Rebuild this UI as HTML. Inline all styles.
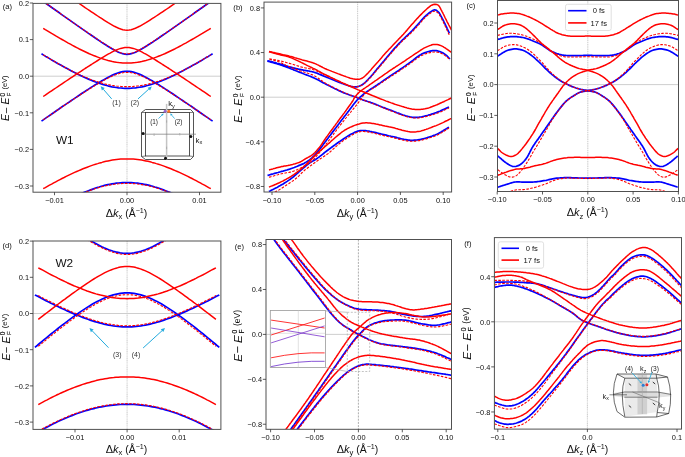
<!DOCTYPE html><html><head><meta charset="utf-8"><style>html,body{margin:0;padding:0;background:#fff;}svg{display:block;will-change:transform;}</style></head><body>
<svg width="685" height="457" viewBox="0 0 685 457" font-family='"Liberation Sans", sans-serif'>
<defs>
<clipPath id="ca"><rect x="33" y="3.4" width="187.9" height="188.8"/></clipPath>
<clipPath id="cb"><rect x="264" y="2.1" width="187.6" height="189.9"/></clipPath>
<clipPath id="cc"><rect x="497.5" y="0.5" width="181" height="191"/></clipPath>
<clipPath id="cd"><rect x="33" y="241" width="187.9" height="188.4"/></clipPath>
<clipPath id="ce"><rect x="266" y="239.5" width="185.5" height="189.8"/></clipPath>
<clipPath id="cf"><rect x="494.4" y="237.6" width="187.1" height="191.5"/></clipPath>
</defs>
<rect width="685" height="457" fill="#fff"/>
<line x1="33" y1="76.2" x2="220.9" y2="76.2" stroke="#c8c8c8" stroke-width="0.9"/>
<line x1="127" y1="3.4" x2="127" y2="192.2" stroke="#cfcfcf" stroke-width="1.1" stroke-dasharray="1.2,0.6"/>
<path d="M41.5,0.2 43.6,1.7 45.7,3.2 47.9,4.8 50,6.3 52.1,7.8 54.3,9.3 56.4,10.8 58.6,12.3 60.7,13.9 62.8,15.4 65,16.9 67.1,18.4 69.3,19.9 71.4,21.4 73.5,22.9 75.7,24.4 77.8,25.9 79.9,27.4 82.1,28.9 84.2,30.4 86.4,31.9 88.5,33.4 90.6,34.8 92.8,36.3 94.9,37.8 97.1,39.2 99.2,40.6 101.3,42.1 103.5,43.5 105.6,44.8 107.8,46.2 109.9,47.5 112,48.8 114.2,50 116.3,51.1 118.4,52.2 120.6,53 122.7,53.7 124.9,54.2 127,54.3 129.1,54.2 131.3,53.7 133.4,53 135.6,52.2 137.7,51.1 139.8,50 142,48.8 144.1,47.5 146.2,46.2 148.4,44.8 150.5,43.5 152.7,42.1 154.8,40.6 156.9,39.2 159.1,37.8 161.2,36.3 163.4,34.8 165.5,33.4 167.6,31.9 169.8,30.4 171.9,28.9 174.1,27.4 176.2,25.9 178.3,24.4 180.5,22.9 182.6,21.4 184.7,19.9 186.9,18.4 189,16.9 191.2,15.4 193.3,13.9 195.4,12.3 197.6,10.8 199.7,9.3 201.9,7.8 204,6.3 206.1,4.8 208.3,3.2 210.4,1.7 212.6,0.2" fill="none" stroke="#0000ff" stroke-width="1.7" clip-path="url(#ca)" stroke-linejoin="round" />
<path d="M41.5,53.8 43.6,55.1 45.7,56.4 47.9,57.6 50,58.9 52.1,60.2 54.3,61.4 56.4,62.7 58.6,63.9 60.7,65.1 62.8,66.3 65,67.5 67.1,68.6 69.3,69.8 71.4,70.9 73.5,72 75.7,73.1 77.8,74.2 79.9,75.2 82.1,76.2 84.2,77.2 86.4,78.2 88.5,79.1 90.6,80 92.8,80.9 94.9,81.7 97.1,82.5 99.2,83.3 101.3,84 103.5,84.6 105.6,85.2 107.8,85.8 109.9,86.3 112,86.8 114.2,87.2 116.3,87.5 118.4,87.8 120.6,88 122.7,88.2 124.9,88.3 127,88.3 129.1,88.3 131.3,88.2 133.4,88 135.6,87.8 137.7,87.5 139.8,87.2 142,86.8 144.1,86.3 146.2,85.8 148.4,85.2 150.5,84.6 152.7,84 154.8,83.3 156.9,82.5 159.1,81.7 161.2,80.9 163.4,80 165.5,79.1 167.6,78.2 169.8,77.2 171.9,76.2 174.1,75.2 176.2,74.2 178.3,73.1 180.5,72 182.6,70.9 184.7,69.8 186.9,68.6 189,67.5 191.2,66.3 193.3,65.1 195.4,63.9 197.6,62.7 199.7,61.4 201.9,60.2 204,58.9 206.1,57.6 208.3,56.4 210.4,55.1 212.6,53.8" fill="none" stroke="#0000ff" stroke-width="1.7" clip-path="url(#ca)" stroke-linejoin="round" />
<path d="M41.5,121.1 43.6,119.6 45.7,118.1 47.9,116.6 50,115.2 52.1,113.7 54.3,112.2 56.4,110.7 58.6,109.3 60.7,107.8 62.8,106.3 65,104.9 67.1,103.4 69.3,102 71.4,100.5 73.5,99.1 75.7,97.6 77.8,96.2 79.9,94.8 82.1,93.3 84.2,91.9 86.4,90.5 88.5,89.1 90.6,87.8 92.8,86.4 94.9,85 97.1,83.7 99.2,82.4 101.3,81.1 103.5,79.9 105.6,78.7 107.8,77.5 109.9,76.4 112,75.3 114.2,74.4 116.3,73.5 118.4,72.8 120.6,72.1 122.7,71.7 124.9,71.4 127,71.3 129.1,71.4 131.3,71.7 133.4,72.1 135.6,72.8 137.7,73.5 139.8,74.4 142,75.3 144.1,76.4 146.2,77.5 148.4,78.7 150.5,79.9 152.7,81.1 154.8,82.4 156.9,83.7 159.1,85 161.2,86.4 163.4,87.8 165.5,89.1 167.6,90.5 169.8,91.9 171.9,93.3 174.1,94.8 176.2,96.2 178.3,97.6 180.5,99.1 182.6,100.5 184.7,102 186.9,103.4 189,104.9 191.2,106.3 193.3,107.8 195.4,109.3 197.6,110.7 199.7,112.2 201.9,113.7 204,115.2 206.1,116.6 208.3,118.1 210.4,119.6 212.6,121.1" fill="none" stroke="#0000ff" stroke-width="1.7" clip-path="url(#ca)" stroke-linejoin="round" />
<path d="M41.5,214.4 43.6,213.2 45.7,211.9 47.9,210.7 50,209.5 52.1,208.3 54.3,207.1 56.4,206 58.6,204.8 60.7,203.7 62.8,202.5 65,201.4 67.1,200.3 69.3,199.3 71.4,198.2 73.5,197.2 75.7,196.2 77.8,195.2 79.9,194.2 82.1,193.3 84.2,192.4 86.4,191.5 88.5,190.7 90.6,189.9 92.8,189.1 94.9,188.3 97.1,187.6 99.2,187 101.3,186.3 103.5,185.7 105.6,185.2 107.8,184.7 109.9,184.3 112,183.9 114.2,183.5 116.3,183.2 118.4,183 120.6,182.8 122.7,182.6 124.9,182.6 127,182.5 129.1,182.6 131.3,182.6 133.4,182.8 135.6,183 137.7,183.2 139.8,183.5 142,183.9 144.1,184.3 146.2,184.7 148.4,185.2 150.5,185.7 152.7,186.3 154.8,187 156.9,187.6 159.1,188.3 161.2,189.1 163.4,189.9 165.5,190.7 167.6,191.5 169.8,192.4 171.9,193.3 174.1,194.2 176.2,195.2 178.3,196.2 180.5,197.2 182.6,198.2 184.7,199.3 186.9,200.3 189,201.4 191.2,202.5 193.3,203.7 195.4,204.8 197.6,206 199.7,207.1 201.9,208.3 204,209.5 206.1,210.7 208.3,211.9 210.4,213.2 212.6,214.4" fill="none" stroke="#0000ff" stroke-width="1.7" clip-path="url(#ca)" stroke-linejoin="round" />
<path d="M43.2,-21.5 45.3,-20.1 47.4,-18.6 49.5,-17.1 51.6,-15.7 53.7,-14.2 55.8,-12.7 57.9,-11.3 60,-9.8 62,-8.4 64.1,-6.9 66.2,-5.4 68.3,-4 70.4,-2.5 72.5,-1.1 74.6,0.4 76.7,1.8 78.8,3.2 80.9,4.7 83,6.1 85.1,7.6 87.2,9 89.3,10.4 91.4,11.8 93.5,13.2 95.6,14.6 97.7,16 99.8,17.4 101.9,18.7 104,20.1 106,21.4 108.1,22.7 110.2,23.9 112.3,25.1 114.4,26.3 116.5,27.3 118.6,28.2 120.7,29 122.8,29.7 124.9,30.1 127,30.2 129.1,30.1 131.2,29.7 133.3,29 135.4,28.2 137.5,27.3 139.6,26.3 141.7,25.1 143.8,23.9 145.9,22.7 148,21.4 150,20.1 152.1,18.7 154.2,17.4 156.3,16 158.4,14.6 160.5,13.2 162.6,11.8 164.7,10.4 166.8,9 168.9,7.6 171,6.1 173.1,4.7 175.2,3.2 177.3,1.8 179.4,0.4 181.5,-1.1 183.6,-2.5 185.7,-4 187.8,-5.4 189.9,-6.9 192,-8.4 194,-9.8 196.1,-11.3 198.2,-12.7 200.3,-14.2 202.4,-15.7 204.5,-17.1 206.6,-18.6 208.7,-20.1 210.8,-21.5" fill="none" stroke="#ff0000" stroke-width="1.5" clip-path="url(#ca)" stroke-linejoin="round" />
<path d="M43.2,28.3 45.3,29.6 47.4,30.8 49.5,32.1 51.6,33.4 53.7,34.6 55.8,35.9 57.9,37.1 60,38.3 62,39.5 64.1,40.7 66.2,41.9 68.3,43.1 70.4,44.2 72.5,45.4 74.6,46.5 76.7,47.6 78.8,48.7 80.9,49.7 83,50.7 85.1,51.7 87.2,52.7 89.3,53.7 91.4,54.6 93.5,55.5 95.6,56.3 97.7,57.1 99.8,57.9 101.9,58.6 104,59.3 106,59.9 108.1,60.5 110.2,61 112.3,61.5 114.4,61.9 116.5,62.3 118.6,62.6 120.7,62.8 122.8,63 124.9,63.1 127,63.1 129.1,63.1 131.2,63 133.3,62.8 135.4,62.6 137.5,62.3 139.6,61.9 141.7,61.5 143.8,61 145.9,60.5 148,59.9 150,59.3 152.1,58.6 154.2,57.9 156.3,57.1 158.4,56.3 160.5,55.5 162.6,54.6 164.7,53.7 166.8,52.7 168.9,51.7 171,50.7 173.1,49.7 175.2,48.7 177.3,47.6 179.4,46.5 181.5,45.4 183.6,44.2 185.7,43.1 187.8,41.9 189.9,40.7 192,39.5 194,38.3 196.1,37.1 198.2,35.9 200.3,34.6 202.4,33.4 204.5,32.1 206.6,30.8 208.7,29.6 210.8,28.3" fill="none" stroke="#ff0000" stroke-width="1.5" clip-path="url(#ca)" stroke-linejoin="round" />
<path d="M43.2,96.5 45.3,95.1 47.4,93.6 49.5,92.2 51.6,90.8 53.7,89.4 55.8,88 57.9,86.6 60,85.2 62,83.8 64.1,82.4 66.2,81 68.3,79.6 70.4,78.2 72.5,76.8 74.6,75.4 76.7,74 78.8,72.7 80.9,71.3 83,69.9 85.1,68.5 87.2,67.2 89.3,65.8 91.4,64.5 93.5,63.1 95.6,61.8 97.7,60.5 99.8,59.2 101.9,57.9 104,56.6 106,55.4 108.1,54.2 110.2,53.1 112.3,51.9 114.4,50.9 116.5,49.9 118.6,49.1 120.7,48.4 122.8,47.9 124.9,47.5 127,47.4 129.1,47.5 131.2,47.9 133.3,48.4 135.4,49.1 137.5,49.9 139.6,50.9 141.7,51.9 143.8,53.1 145.9,54.2 148,55.4 150,56.6 152.1,57.9 154.2,59.2 156.3,60.5 158.4,61.8 160.5,63.1 162.6,64.5 164.7,65.8 166.8,67.2 168.9,68.5 171,69.9 173.1,71.3 175.2,72.7 177.3,74 179.4,75.4 181.5,76.8 183.6,78.2 185.7,79.6 187.8,81 189.9,82.4 192,83.8 194,85.2 196.1,86.6 198.2,88 200.3,89.4 202.4,90.8 204.5,92.2 206.6,93.6 208.7,95.1 210.8,96.5" fill="none" stroke="#ff0000" stroke-width="1.5" clip-path="url(#ca)" stroke-linejoin="round" />
<path d="M43.2,188.7 45.3,187.6 47.4,186.4 49.5,185.2 51.6,184.1 53.7,182.9 55.8,181.8 57.9,180.7 60,179.6 62,178.5 64.1,177.5 66.2,176.4 68.3,175.4 70.4,174.4 72.5,173.4 74.6,172.4 76.7,171.5 78.8,170.6 80.9,169.7 83,168.8 85.1,168 87.2,167.2 89.3,166.4 91.4,165.6 93.5,164.9 95.6,164.2 97.7,163.6 99.8,162.9 101.9,162.4 104,161.8 106,161.3 108.1,160.9 110.2,160.5 112.3,160.1 114.4,159.8 116.5,159.5 118.6,159.3 120.7,159.1 122.8,159 124.9,158.9 127,158.9 129.1,158.9 131.2,159 133.3,159.1 135.4,159.3 137.5,159.5 139.6,159.8 141.7,160.1 143.8,160.5 145.9,160.9 148,161.3 150,161.8 152.1,162.4 154.2,162.9 156.3,163.6 158.4,164.2 160.5,164.9 162.6,165.6 164.7,166.4 166.8,167.2 168.9,168 171,168.8 173.1,169.7 175.2,170.6 177.3,171.5 179.4,172.4 181.5,173.4 183.6,174.4 185.7,175.4 187.8,176.4 189.9,177.5 192,178.5 194,179.6 196.1,180.7 198.2,181.8 200.3,182.9 202.4,184.1 204.5,185.2 206.6,186.4 208.7,187.6 210.8,188.7" fill="none" stroke="#ff0000" stroke-width="1.5" clip-path="url(#ca)" stroke-linejoin="round" />
<path d="M43.2,1.4 45.3,2.9 47.4,4.4 49.5,5.9 51.6,7.4 53.7,8.9 55.8,10.3 57.9,11.8 60,13.3 62,14.8 64.1,16.3 66.2,17.7 68.3,19.2 70.4,20.7 72.5,22.2 74.6,23.6 76.7,25.1 78.8,26.5 80.9,28 83,29.5 85.1,30.9 87.2,32.3 89.3,33.8 91.4,35.2 93.5,36.6 95.6,38 97.7,39.4 99.8,40.8 101.9,42.2 104,43.5 106,44.9 108.1,46.2 110.2,47.4 112.3,48.7 114.4,49.8 116.5,50.9 118.6,51.9 120.7,52.7 122.8,53.4 124.9,53.8 127,53.9 129.1,53.8 131.2,53.4 133.3,52.7 135.4,51.9 137.5,50.9 139.6,49.8 141.7,48.7 143.8,47.4 145.9,46.2 148,44.9 150,43.5 152.1,42.2 154.2,40.8 156.3,39.4 158.4,38 160.5,36.6 162.6,35.2 164.7,33.8 166.8,32.3 168.9,30.9 171,29.5 173.1,28 175.2,26.5 177.3,25.1 179.4,23.6 181.5,22.2 183.6,20.7 185.7,19.2 187.8,17.7 189.9,16.3 192,14.8 194,13.3 196.1,11.8 198.2,10.3 200.3,8.9 202.4,7.4 204.5,5.9 206.6,4.4 208.7,2.9 210.8,1.4" fill="none" stroke="#ff0000" stroke-width="1.1" stroke-dasharray="2.6,1.4" clip-path="url(#ca)" stroke-linejoin="round" />
<path d="M43.2,54.8 45.3,56.1 47.4,57.3 49.5,58.6 51.6,59.8 53.7,61 55.8,62.2 57.9,63.4 60,64.6 62,65.8 64.1,66.9 66.2,68 68.3,69.2 70.4,70.2 72.5,71.3 74.6,72.4 76.7,73.4 78.8,74.4 80.9,75.3 83,76.3 85.1,77.2 87.2,78 89.3,78.9 91.4,79.7 93.5,80.4 95.6,81.2 97.7,81.8 99.8,82.5 101.9,83.1 104,83.6 106,84.2 108.1,84.6 110.2,85 112.3,85.4 114.4,85.7 116.5,86 118.6,86.2 120.7,86.4 122.8,86.5 124.9,86.6 127,86.6 129.1,86.6 131.2,86.5 133.3,86.4 135.4,86.2 137.5,86 139.6,85.7 141.7,85.4 143.8,85 145.9,84.6 148,84.2 150,83.6 152.1,83.1 154.2,82.5 156.3,81.8 158.4,81.2 160.5,80.4 162.6,79.7 164.7,78.9 166.8,78 168.9,77.2 171,76.3 173.1,75.3 175.2,74.4 177.3,73.4 179.4,72.4 181.5,71.3 183.6,70.2 185.7,69.2 187.8,68 189.9,66.9 192,65.8 194,64.6 196.1,63.4 198.2,62.2 200.3,61 202.4,59.8 204.5,58.6 206.6,57.3 208.7,56.1 210.8,54.8" fill="none" stroke="#ff0000" stroke-width="1.1" stroke-dasharray="2.6,1.4" clip-path="url(#ca)" stroke-linejoin="round" />
<path d="M43.2,119.9 45.3,118.4 47.4,117 49.5,115.5 51.6,114.1 53.7,112.7 55.8,111.2 57.9,109.8 60,108.3 62,106.9 64.1,105.5 66.2,104.1 68.3,102.7 70.4,101.3 72.5,99.9 74.6,98.5 76.7,97.1 78.8,95.7 80.9,94.3 83,93 85.1,91.7 87.2,90.3 89.3,89 91.4,87.7 93.5,86.4 95.6,85.2 97.7,83.9 99.8,82.7 101.9,81.5 104,80.3 106,79.2 108.1,78.1 110.2,77.1 112.3,76.1 114.4,75.2 116.5,74.4 118.6,73.7 120.7,73.2 122.8,72.7 124.9,72.5 127,72.4 129.1,72.5 131.2,72.7 133.3,73.2 135.4,73.7 137.5,74.4 139.6,75.2 141.7,76.1 143.8,77.1 145.9,78.1 148,79.2 150,80.3 152.1,81.5 154.2,82.7 156.3,83.9 158.4,85.2 160.5,86.4 162.6,87.7 164.7,89 166.8,90.3 168.9,91.7 171,93 173.1,94.3 175.2,95.7 177.3,97.1 179.4,98.5 181.5,99.9 183.6,101.3 185.7,102.7 187.8,104.1 189.9,105.5 192,106.9 194,108.3 196.1,109.8 198.2,111.2 200.3,112.7 202.4,114.1 204.5,115.5 206.6,117 208.7,118.4 210.8,119.9" fill="none" stroke="#ff0000" stroke-width="1.1" stroke-dasharray="2.6,1.4" clip-path="url(#ca)" stroke-linejoin="round" />
<path d="M43.2,213.4 45.3,212.2 47.4,211 49.5,209.8 51.6,208.6 53.7,207.5 55.8,206.3 57.9,205.2 60,204.1 62,203 64.1,201.9 66.2,200.8 68.3,199.8 70.4,198.8 72.5,197.8 74.6,196.8 76.7,195.8 78.8,194.9 80.9,194 83,193.1 85.1,192.3 87.2,191.5 89.3,190.7 91.4,189.9 93.5,189.2 95.6,188.5 97.7,187.9 99.8,187.3 101.9,186.7 104,186.2 106,185.7 108.1,185.3 110.2,184.9 112.3,184.6 114.4,184.3 116.5,184 118.6,183.8 120.7,183.6 122.8,183.5 124.9,183.5 127,183.4 129.1,183.5 131.2,183.5 133.3,183.6 135.4,183.8 137.5,184 139.6,184.3 141.7,184.6 143.8,184.9 145.9,185.3 148,185.7 150,186.2 152.1,186.7 154.2,187.3 156.3,187.9 158.4,188.5 160.5,189.2 162.6,189.9 164.7,190.7 166.8,191.5 168.9,192.3 171,193.1 173.1,194 175.2,194.9 177.3,195.8 179.4,196.8 181.5,197.8 183.6,198.8 185.7,199.8 187.8,200.8 189.9,201.9 192,203 194,204.1 196.1,205.2 198.2,206.3 200.3,207.5 202.4,208.6 204.5,209.8 206.6,211 208.7,212.2 210.8,213.4" fill="none" stroke="#ff0000" stroke-width="1.1" stroke-dasharray="2.6,1.4" clip-path="url(#ca)" stroke-linejoin="round" />
<rect x="33" y="3.4" width="187.9" height="188.8" fill="none" stroke="#505050" stroke-width="1"/>
<line x1="54.5" y1="192.2" x2="54.5" y2="195.2" stroke="#333" stroke-width="0.8"/>
<text x="54.5" y="202.7" font-size="7.4" text-anchor="middle" fill="#111" >−0.01</text>
<line x1="127" y1="192.2" x2="127" y2="195.2" stroke="#333" stroke-width="0.8"/>
<text x="127" y="202.7" font-size="7.4" text-anchor="middle" fill="#111" >0.00</text>
<line x1="199.5" y1="192.2" x2="199.5" y2="195.2" stroke="#333" stroke-width="0.8"/>
<text x="199.5" y="202.7" font-size="7.4" text-anchor="middle" fill="#111" >0.01</text>
<line x1="29.8" y1="3" x2="33" y2="3" stroke="#333" stroke-width="0.8"/>
<text x="29" y="5.8" font-size="7.4" text-anchor="end" fill="#111" >0.2</text>
<line x1="29.8" y1="39.6" x2="33" y2="39.6" stroke="#333" stroke-width="0.8"/>
<text x="29" y="42.4" font-size="7.4" text-anchor="end" fill="#111" >0.1</text>
<line x1="29.8" y1="76.2" x2="33" y2="76.2" stroke="#333" stroke-width="0.8"/>
<text x="29" y="79" font-size="7.4" text-anchor="end" fill="#111" >0.0</text>
<line x1="29.8" y1="112.8" x2="33" y2="112.8" stroke="#333" stroke-width="0.8"/>
<text x="29" y="115.6" font-size="7.4" text-anchor="end" fill="#111" >−0.1</text>
<line x1="29.8" y1="149.4" x2="33" y2="149.4" stroke="#333" stroke-width="0.8"/>
<text x="29" y="152.2" font-size="7.4" text-anchor="end" fill="#111" >−0.2</text>
<line x1="29.8" y1="186" x2="33" y2="186" stroke="#333" stroke-width="0.8"/>
<text x="29" y="188.8" font-size="7.4" text-anchor="end" fill="#111" >−0.3</text>
<line x1="33" y1="313.5" x2="220.9" y2="313.5" stroke="#c8c8c8" stroke-width="0.9"/>
<line x1="127.1" y1="241" x2="127.1" y2="429.4" stroke="#cfcfcf" stroke-width="1.1" stroke-dasharray="1.2,0.6"/>
<path d="M34.9,200.8 37.2,202.6 39.5,204.3 41.8,206.1 44.1,207.9 46.4,209.6 48.7,211.4 51,213.1 53.3,214.9 55.6,216.6 57.9,218.3 60.2,220 62.5,221.7 64.9,223.4 67.2,225 69.5,226.7 71.8,228.3 74.1,229.9 76.4,231.5 78.7,233 81,234.6 83.3,236.1 85.6,237.6 87.9,239 90.2,240.4 92.5,241.8 94.8,243.1 97.1,244.3 99.4,245.5 101.7,246.7 104,247.8 106.4,248.8 108.7,249.7 111,250.5 113.3,251.3 115.6,251.9 117.9,252.4 120.2,252.9 122.5,253.2 124.8,253.3 127.1,253.4 129.4,253.3 131.7,253.2 134,252.9 136.3,252.4 138.6,251.9 140.9,251.3 143.2,250.5 145.5,249.7 147.8,248.8 150.2,247.8 152.5,246.7 154.8,245.5 157.1,244.3 159.4,243.1 161.7,241.8 164,240.4 166.3,239 168.6,237.6 170.9,236.1 173.2,234.6 175.5,233 177.8,231.5 180.1,229.9 182.4,228.3 184.7,226.7 187,225 189.3,223.4 191.7,221.7 194,220 196.3,218.3 198.6,216.6 200.9,214.9 203.2,213.1 205.5,211.4 207.8,209.6 210.1,207.9 212.4,206.1 214.7,204.3 217,202.6 219.3,200.8" fill="none" stroke="#0000ff" stroke-width="1.7" clip-path="url(#cd)" stroke-linejoin="round" />
<path d="M34.9,347.4 37.2,345.5 39.5,343.5 41.8,341.6 44.1,339.7 46.4,337.8 48.7,335.9 51,334 53.3,332.2 55.6,330.3 57.9,328.5 60.2,326.7 62.5,324.9 64.9,323.1 67.2,321.4 69.5,319.6 71.8,317.9 74.1,316.3 76.4,314.6 78.7,313 81,311.4 83.3,309.9 85.6,308.4 87.9,306.9 90.2,305.5 92.5,304.1 94.8,302.8 97.1,301.6 99.4,300.4 101.7,299.3 104,298.2 106.4,297.2 108.7,296.4 111,295.6 113.3,294.9 115.6,294.3 117.9,293.8 120.2,293.4 122.5,293.1 124.8,292.9 127.1,292.9 129.4,292.9 131.7,293.1 134,293.4 136.3,293.8 138.6,294.3 140.9,294.9 143.2,295.6 145.5,296.4 147.8,297.2 150.2,298.2 152.5,299.3 154.8,300.4 157.1,301.6 159.4,302.8 161.7,304.1 164,305.5 166.3,306.9 168.6,308.4 170.9,309.9 173.2,311.4 175.5,313 177.8,314.6 180.1,316.3 182.4,317.9 184.7,319.6 187,321.4 189.3,323.1 191.7,324.9 194,326.7 196.3,328.5 198.6,330.3 200.9,332.2 203.2,334 205.5,335.9 207.8,337.8 210.1,339.7 212.4,341.6 214.7,343.5 217,345.5 219.3,347.4" fill="none" stroke="#0000ff" stroke-width="1.7" clip-path="url(#cd)" stroke-linejoin="round" />
<path d="M34.9,294.9 37.2,296.1 39.5,297.3 41.8,298.5 44.1,299.7 46.4,300.9 48.7,302 51,303.2 53.3,304.3 55.6,305.5 57.9,306.6 60.2,307.7 62.5,308.8 64.9,309.8 67.2,310.9 69.5,311.9 71.8,312.9 74.1,313.9 76.4,314.9 78.7,315.8 81,316.7 83.3,317.6 85.6,318.5 87.9,319.3 90.2,320.1 92.5,320.9 94.8,321.6 97.1,322.3 99.4,322.9 101.7,323.5 104,324.1 106.4,324.6 108.7,325.1 111,325.5 113.3,325.9 115.6,326.2 117.9,326.4 120.2,326.6 122.5,326.8 124.8,326.9 127.1,326.9 129.4,326.9 131.7,326.8 134,326.6 136.3,326.4 138.6,326.2 140.9,325.9 143.2,325.5 145.5,325.1 147.8,324.6 150.2,324.1 152.5,323.5 154.8,322.9 157.1,322.3 159.4,321.6 161.7,320.9 164,320.1 166.3,319.3 168.6,318.5 170.9,317.6 173.2,316.7 175.5,315.8 177.8,314.9 180.1,313.9 182.4,312.9 184.7,311.9 187,310.9 189.3,309.8 191.7,308.8 194,307.7 196.3,306.6 198.6,305.5 200.9,304.3 203.2,303.2 205.5,302 207.8,300.9 210.1,299.7 212.4,298.5 214.7,297.3 217,296.1 219.3,294.9" fill="none" stroke="#0000ff" stroke-width="1.7" clip-path="url(#cd)" stroke-linejoin="round" />
<path d="M34.9,433.9 37.2,432.5 39.5,431.2 41.8,429.9 44.1,428.6 46.4,427.4 48.7,426.2 51,425 53.3,423.8 55.6,422.7 57.9,421.6 60.2,420.5 62.5,419.5 64.9,418.4 67.2,417.5 69.5,416.5 71.8,415.6 74.1,414.7 76.4,413.8 78.7,413 81,412.2 83.3,411.5 85.6,410.8 87.9,410.1 90.2,409.4 92.5,408.8 94.8,408.3 97.1,407.7 99.4,407.2 101.7,406.8 104,406.4 106.4,406 108.7,405.6 111,405.3 113.3,405.1 115.6,404.9 117.9,404.7 120.2,404.5 122.5,404.4 124.8,404.4 127.1,404.4 129.4,404.4 131.7,404.4 134,404.5 136.3,404.7 138.6,404.9 140.9,405.1 143.2,405.3 145.5,405.6 147.8,406 150.2,406.4 152.5,406.8 154.8,407.2 157.1,407.7 159.4,408.3 161.7,408.8 164,409.4 166.3,410.1 168.6,410.8 170.9,411.5 173.2,412.2 175.5,413 177.8,413.8 180.1,414.7 182.4,415.6 184.7,416.5 187,417.5 189.3,418.4 191.7,419.5 194,420.5 196.3,421.6 198.6,422.7 200.9,423.8 203.2,425 205.5,426.2 207.8,427.4 210.1,428.6 212.4,429.9 214.7,431.2 217,432.5 219.3,433.9" fill="none" stroke="#0000ff" stroke-width="1.7" clip-path="url(#cd)" stroke-linejoin="round" />
<path d="M38.3,319.3 40.5,317.6 42.8,315.9 45,314.2 47.2,312.5 49.4,310.8 51.6,309.1 53.9,307.4 56.1,305.7 58.3,304 60.5,302.4 62.7,300.7 65,299.1 67.2,297.4 69.4,295.8 71.6,294.2 73.8,292.6 76.1,291 78.3,289.4 80.5,287.9 82.7,286.3 84.9,284.8 87.1,283.3 89.4,281.9 91.6,280.4 93.8,279 96,277.7 98.2,276.3 100.5,275.1 102.7,273.9 104.9,272.7 107.1,271.6 109.3,270.6 111.6,269.7 113.8,268.9 116,268.2 118.2,267.6 120.4,267.1 122.7,266.7 124.9,266.5 127.1,266.4 129.3,266.5 131.5,266.7 133.8,267.1 136,267.6 138.2,268.2 140.4,268.9 142.6,269.7 144.9,270.6 147.1,271.6 149.3,272.7 151.5,273.9 153.7,275.1 156,276.3 158.2,277.7 160.4,279 162.6,280.4 164.8,281.9 167.1,283.3 169.3,284.8 171.5,286.3 173.7,287.9 175.9,289.4 178.1,291 180.4,292.6 182.6,294.2 184.8,295.8 187,297.4 189.2,299.1 191.5,300.7 193.7,302.4 195.9,304 198.1,305.7 200.3,307.4 202.6,309.1 204.8,310.8 207,312.5 209.2,314.2 211.4,315.9 213.7,317.6 215.9,319.3" fill="none" stroke="#ff0000" stroke-width="1.5" clip-path="url(#cd)" stroke-linejoin="round" />
<path d="M38.3,267.8 40.5,269 42.8,270.2 45,271.4 47.2,272.6 49.4,273.8 51.6,275 53.9,276.1 56.1,277.2 58.3,278.4 60.5,279.5 62.7,280.5 65,281.6 67.2,282.7 69.4,283.7 71.6,284.7 73.8,285.7 76.1,286.6 78.3,287.5 80.5,288.4 82.7,289.3 84.9,290.1 87.1,291 89.4,291.7 91.6,292.5 93.8,293.2 96,293.9 98.2,294.5 100.5,295.1 102.7,295.6 104.9,296.1 107.1,296.6 109.3,297 111.6,297.4 113.8,297.7 116,298 118.2,298.2 120.4,298.4 122.7,298.6 124.9,298.6 127.1,298.7 129.3,298.6 131.5,298.6 133.8,298.4 136,298.2 138.2,298 140.4,297.7 142.6,297.4 144.9,297 147.1,296.6 149.3,296.1 151.5,295.6 153.7,295.1 156,294.5 158.2,293.9 160.4,293.2 162.6,292.5 164.8,291.7 167.1,291 169.3,290.1 171.5,289.3 173.7,288.4 175.9,287.5 178.1,286.6 180.4,285.7 182.6,284.7 184.8,283.7 187,282.7 189.2,281.6 191.5,280.5 193.7,279.5 195.9,278.4 198.1,277.2 200.3,276.1 202.6,275 204.8,273.8 207,272.6 209.2,271.4 211.4,270.2 213.7,269 215.9,267.8" fill="none" stroke="#ff0000" stroke-width="1.5" clip-path="url(#cd)" stroke-linejoin="round" />
<path d="M38.3,404.6 40.5,403.3 42.8,402.1 45,400.9 47.2,399.8 49.4,398.6 51.6,397.5 53.9,396.4 56.1,395.3 58.3,394.3 60.5,393.2 62.7,392.2 65,391.3 67.2,390.3 69.4,389.4 71.6,388.5 73.8,387.6 76.1,386.8 78.3,386 80.5,385.2 82.7,384.4 84.9,383.7 87.1,383 89.4,382.4 91.6,381.8 93.8,381.2 96,380.6 98.2,380.1 100.5,379.6 102.7,379.2 104.9,378.8 107.1,378.4 109.3,378.1 111.6,377.8 113.8,377.6 116,377.3 118.2,377.2 120.4,377 122.7,376.9 124.9,376.9 127.1,376.9 129.3,376.9 131.5,376.9 133.8,377 136,377.2 138.2,377.3 140.4,377.6 142.6,377.8 144.9,378.1 147.1,378.4 149.3,378.8 151.5,379.2 153.7,379.6 156,380.1 158.2,380.6 160.4,381.2 162.6,381.8 164.8,382.4 167.1,383 169.3,383.7 171.5,384.4 173.7,385.2 175.9,386 178.1,386.8 180.4,387.6 182.6,388.5 184.8,389.4 187,390.3 189.2,391.3 191.5,392.2 193.7,393.2 195.9,394.3 198.1,395.3 200.3,396.4 202.6,397.5 204.8,398.6 207,399.8 209.2,400.9 211.4,402.1 213.7,403.3 215.9,404.6" fill="none" stroke="#ff0000" stroke-width="1.5" clip-path="url(#cd)" stroke-linejoin="round" />
<path d="M38.3,204.5 40.5,206.2 42.8,207.9 45,209.6 47.2,211.3 49.4,213 51.6,214.7 53.9,216.4 56.1,218 58.3,219.7 60.5,221.3 62.7,222.9 65,224.5 67.2,226.1 69.4,227.7 71.6,229.3 73.8,230.8 76.1,232.3 78.3,233.9 80.5,235.3 82.7,236.8 84.9,238.2 87.1,239.6 89.4,241 91.6,242.3 93.8,243.6 96,244.8 98.2,246 100.5,247.1 102.7,248.2 104.9,249.2 107.1,250.2 109.3,251 111.6,251.8 113.8,252.5 116,253.1 118.2,253.6 120.4,254 122.7,254.3 124.9,254.4 127.1,254.5 129.3,254.4 131.5,254.3 133.8,254 136,253.6 138.2,253.1 140.4,252.5 142.6,251.8 144.9,251 147.1,250.2 149.3,249.2 151.5,248.2 153.7,247.1 156,246 158.2,244.8 160.4,243.6 162.6,242.3 164.8,241 167.1,239.6 169.3,238.2 171.5,236.8 173.7,235.3 175.9,233.9 178.1,232.3 180.4,230.8 182.6,229.3 184.8,227.7 187,226.1 189.2,224.5 191.5,222.9 193.7,221.3 195.9,219.7 198.1,218 200.3,216.4 202.6,214.7 204.8,213 207,211.3 209.2,209.6 211.4,207.9 213.7,206.2 215.9,204.5" fill="none" stroke="#ff0000" stroke-width="1.1" stroke-dasharray="2.6,1.4" clip-path="url(#cd)" stroke-linejoin="round" />
<path d="M38.3,346.3 40.5,344.5 42.8,342.6 45,340.8 47.2,339 49.4,337.2 51.6,335.4 53.9,333.6 56.1,331.8 58.3,330 60.5,328.3 62.7,326.6 65,324.9 67.2,323.2 69.4,321.5 71.6,319.9 73.8,318.2 76.1,316.6 78.3,315.1 80.5,313.6 82.7,312.1 84.9,310.6 87.1,309.2 89.4,307.8 91.6,306.5 93.8,305.2 96,304 98.2,302.8 100.5,301.7 102.7,300.6 104.9,299.6 107.1,298.7 109.3,297.9 111.6,297.2 113.8,296.5 116,296 118.2,295.5 120.4,295.1 122.7,294.9 124.9,294.7 127.1,294.7 129.3,294.7 131.5,294.9 133.8,295.1 136,295.5 138.2,296 140.4,296.5 142.6,297.2 144.9,297.9 147.1,298.7 149.3,299.6 151.5,300.6 153.7,301.7 156,302.8 158.2,304 160.4,305.2 162.6,306.5 164.8,307.8 167.1,309.2 169.3,310.6 171.5,312.1 173.7,313.6 175.9,315.1 178.1,316.6 180.4,318.2 182.6,319.9 184.8,321.5 187,323.2 189.2,324.9 191.5,326.6 193.7,328.3 195.9,330 198.1,331.8 200.3,333.6 202.6,335.4 204.8,337.2 207,339 209.2,340.8 211.4,342.6 213.7,344.5 215.9,346.3" fill="none" stroke="#ff0000" stroke-width="1.1" stroke-dasharray="2.6,1.4" clip-path="url(#cd)" stroke-linejoin="round" />
<path d="M38.3,295.6 40.5,296.8 42.8,297.9 45,299.1 47.2,300.2 49.4,301.3 51.6,302.4 53.9,303.5 56.1,304.6 58.3,305.7 60.5,306.7 62.7,307.8 65,308.8 67.2,309.8 69.4,310.8 71.6,311.8 73.8,312.7 76.1,313.6 78.3,314.5 80.5,315.4 82.7,316.3 84.9,317.1 87.1,317.9 89.4,318.7 91.6,319.5 93.8,320.2 96,320.9 98.2,321.5 100.5,322.1 102.7,322.7 104.9,323.2 107.1,323.7 109.3,324.1 111.6,324.5 113.8,324.8 116,325.1 118.2,325.4 120.4,325.6 122.7,325.7 124.9,325.8 127.1,325.8 129.3,325.8 131.5,325.7 133.8,325.6 136,325.4 138.2,325.1 140.4,324.8 142.6,324.5 144.9,324.1 147.1,323.7 149.3,323.2 151.5,322.7 153.7,322.1 156,321.5 158.2,320.9 160.4,320.2 162.6,319.5 164.8,318.7 167.1,317.9 169.3,317.1 171.5,316.3 173.7,315.4 175.9,314.5 178.1,313.6 180.4,312.7 182.6,311.8 184.8,310.8 187,309.8 189.2,308.8 191.5,307.8 193.7,306.7 195.9,305.7 198.1,304.6 200.3,303.5 202.6,302.4 204.8,301.3 207,300.2 209.2,299.1 211.4,297.9 213.7,296.8 215.9,295.6" fill="none" stroke="#ff0000" stroke-width="1.1" stroke-dasharray="2.6,1.4" clip-path="url(#cd)" stroke-linejoin="round" />
<path d="M38.3,431.1 40.5,429.9 42.8,428.6 45,427.4 47.2,426.2 49.4,425.1 51.6,423.9 53.9,422.8 56.1,421.7 58.3,420.7 60.5,419.7 62.7,418.7 65,417.7 67.2,416.7 69.4,415.8 71.6,414.9 73.8,414.1 76.1,413.2 78.3,412.4 80.5,411.7 82.7,411 84.9,410.3 87.1,409.6 89.4,409 91.6,408.4 93.8,407.8 96,407.3 98.2,406.8 100.5,406.3 102.7,405.9 104.9,405.5 107.1,405.1 109.3,404.8 111.6,404.6 113.8,404.3 116,404.1 118.2,403.9 120.4,403.8 122.7,403.7 124.9,403.7 127.1,403.6 129.3,403.7 131.5,403.7 133.8,403.8 136,403.9 138.2,404.1 140.4,404.3 142.6,404.6 144.9,404.8 147.1,405.1 149.3,405.5 151.5,405.9 153.7,406.3 156,406.8 158.2,407.3 160.4,407.8 162.6,408.4 164.8,409 167.1,409.6 169.3,410.3 171.5,411 173.7,411.7 175.9,412.4 178.1,413.2 180.4,414.1 182.6,414.9 184.8,415.8 187,416.7 189.2,417.7 191.5,418.7 193.7,419.7 195.9,420.7 198.1,421.7 200.3,422.8 202.6,423.9 204.8,425.1 207,426.2 209.2,427.4 211.4,428.6 213.7,429.9 215.9,431.1" fill="none" stroke="#ff0000" stroke-width="1.1" stroke-dasharray="2.6,1.4" clip-path="url(#cd)" stroke-linejoin="round" />
<rect x="33" y="241" width="187.9" height="188.4" fill="none" stroke="#505050" stroke-width="1"/>
<line x1="75" y1="429.4" x2="75" y2="432.4" stroke="#333" stroke-width="0.8"/>
<text x="75" y="439.9" font-size="7.4" text-anchor="middle" fill="#111" >−0.01</text>
<line x1="127.1" y1="429.4" x2="127.1" y2="432.4" stroke="#333" stroke-width="0.8"/>
<text x="127.1" y="439.9" font-size="7.4" text-anchor="middle" fill="#111" >0.00</text>
<line x1="179.2" y1="429.4" x2="179.2" y2="432.4" stroke="#333" stroke-width="0.8"/>
<text x="179.2" y="439.9" font-size="7.4" text-anchor="middle" fill="#111" >0.01</text>
<line x1="29.8" y1="241.1" x2="33" y2="241.1" stroke="#333" stroke-width="0.8"/>
<text x="29" y="243.9" font-size="7.4" text-anchor="end" fill="#111" >0.2</text>
<line x1="29.8" y1="277.3" x2="33" y2="277.3" stroke="#333" stroke-width="0.8"/>
<text x="29" y="280.1" font-size="7.4" text-anchor="end" fill="#111" >0.1</text>
<line x1="29.8" y1="313.5" x2="33" y2="313.5" stroke="#333" stroke-width="0.8"/>
<text x="29" y="316.3" font-size="7.4" text-anchor="end" fill="#111" >0.0</text>
<line x1="29.8" y1="349.7" x2="33" y2="349.7" stroke="#333" stroke-width="0.8"/>
<text x="29" y="352.5" font-size="7.4" text-anchor="end" fill="#111" >−0.1</text>
<line x1="29.8" y1="385.9" x2="33" y2="385.9" stroke="#333" stroke-width="0.8"/>
<text x="29" y="388.7" font-size="7.4" text-anchor="end" fill="#111" >−0.2</text>
<line x1="29.8" y1="422.1" x2="33" y2="422.1" stroke="#333" stroke-width="0.8"/>
<text x="29" y="424.9" font-size="7.4" text-anchor="end" fill="#111" >−0.3</text>
<line x1="264" y1="97.2" x2="451.6" y2="97.2" stroke="#c8c8c8" stroke-width="0.9"/>
<line x1="357.6" y1="2.1" x2="357.6" y2="192" stroke="#cfcfcf" stroke-width="1.1" stroke-dasharray="1.2,0.6"/>
<path d="M267.4,60.7 268.6,61 269.8,61.3 271,61.6 272.2,61.9 273.4,62.2 274.6,62.5 275.7,62.8 276.9,63.2 278.1,63.5 279.3,63.8 280.6,64.2 281.9,64.5 283.1,64.9 284.4,65.3 285.7,65.7 287,66.1 288.2,66.5 289.5,66.9 290.8,67.2 292.1,67.5 293.3,67.9 294.6,68.2 295.9,68.5 297.2,68.8 298.5,69.1 299.7,69.3 301,69.6 302.3,69.9 303.6,70.2 304.9,70.4 306.2,70.6 307.5,70.8 308.8,71 310.1,71.3 311.4,71.5 312.7,71.8 314,72.2 315.2,72.6 316.4,73 317.5,73.4 318.7,73.9 319.8,74.4 321,74.9 322.2,75.4 323.4,75.9 324.7,76.5 326,77 327,77.4 328.1,77.8 329.2,78.3 330.4,78.8 331.6,79.2 332.8,79.7 334,80.2 335.2,80.7 336.4,81.2 337.6,81.7 338.8,82.2 340,82.6 341.1,83.1 342.2,83.5 343.2,83.8 344.1,84.2 345,84.5 346.5,85 347.9,85.5 349.1,85.9 350.3,86.2 351.6,86.5 352.8,86.7 354.1,86.8 355.3,86.9 356.5,86.9 357.6,86.7 358.9,86.3 360.1,85.8 361.3,85.2 362.5,84.5 363.6,83.7 364.7,82.8 365.8,81.8 366.9,80.7 367.8,79.8 368.7,78.8 369.6,77.8 370.6,76.8 371.5,75.7 372.4,74.7 373.2,73.8 374,72.8 374.7,71.9 375.5,70.9 376.3,70 377,69 377.8,68.1 378.6,67.2 379.4,66.2 380.2,65.3 380.9,64.4 381.7,63.5 382.5,62.5 383.3,61.6 384.1,60.7 384.8,59.8 385.5,58.9 386.3,58 387.1,57 387.9,56 388.8,55 389.5,54.2 390.3,53.3 391.1,52.4 391.9,51.4 392.8,50.4 393.6,49.4 394.5,48.4 395.4,47.4 396.4,46.4 397.3,45.4 398.2,44.4 399.1,43.4 400,42.5 400.9,41.6 401.8,40.6 402.8,39.7 403.8,38.8 404.7,37.8 405.7,36.9 406.7,36 407.6,35.1 408.6,34.2 409.5,33.3 410.4,32.5 411.2,31.6 412,30.8 412.9,29.8 413.8,28.9 414.6,28 415.4,27.1 416.2,26.2 417,25.4 417.8,24.5 418.6,23.6 419.4,22.7 420.2,21.8 421,20.8 421.8,19.9 422.6,19 423.4,18.1 424.3,17.2 425.1,16.4 426,15.5 427,14.7 428,13.8 429,13 430,12.3 430.9,11.6 431.7,11.1 433.2,10.2 434.6,9.8 435.8,10.1 437,10.8 438.2,11.8 438.9,12.6 439.6,13.6 440.3,14.8 440.9,16 441.6,17.2 442.2,18.4 442.8,19.5 443.4,20.6 443.9,21.7 444.5,22.8 445,24 445.6,25.1 446.1,26.2 446.7,27.4 447.2,28.6 447.8,29.8 448.3,31 448.9,32.2 449.4,33.4" fill="none" stroke="#0000ff" stroke-width="1.7" clip-path="url(#cb)" stroke-linejoin="round" />
<path d="M267.4,61.1 268.6,61.4 269.8,61.8 271,62.1 272.2,62.4 273.4,62.7 274.6,63.1 275.8,63.4 276.9,63.8 278.1,64.1 279.3,64.5 280.5,64.9 281.6,65.3 282.8,65.7 283.9,66.1 285.1,66.5 286.2,67 287.4,67.4 288.5,67.8 289.7,68.3 290.8,68.7 292,69.1 293.1,69.6 294.3,70.1 295.4,70.5 296.5,71 297.7,71.4 298.8,71.9 300,72.4 301.1,72.8 302.3,73.3 303.5,73.8 304.6,74.2 305.8,74.6 307,75.1 308.2,75.5 309.3,76 310.5,76.4 311.7,76.9 312.8,77.4 314,77.9 315.1,78.4 316.2,78.9 317.2,79.5 318.3,80 319.3,80.6 320.4,81.2 321.4,81.8 322.5,82.4 323.6,83 324.8,83.6 326,84.2 327,84.7 328.1,85.2 329.1,85.8 330.3,86.3 331.4,86.9 332.6,87.5 333.7,88.1 334.9,88.7 336.1,89.2 337.3,89.8 338.5,90.4 339.6,90.9 340.8,91.4 341.9,91.9 343,92.4 344,92.9 345,93.3 346.3,93.8 347.7,94.3 349,94.8 350.2,95.2 351.5,95.6 352.6,96 353.8,96.4 354.9,96.7 355.9,97.1 357.4,97.7 358.6,98.2 359.9,98.7 361.4,99.3 362.4,99.7 363.5,100.1 364.7,100.5 365.9,100.9 367.1,101.3 368.4,101.7 369.7,102.1 371,102.6 372.4,103.1 373.5,103.5 374.5,103.9 375.6,104.3 376.7,104.8 377.9,105.2 379,105.7 380.2,106.2 381.4,106.7 382.6,107.2 383.8,107.6 385,108.1 386.2,108.6 387.5,109.1 388.7,109.5 390,110 391.1,110.4 392.2,110.8 393.4,111.3 394.6,111.7 395.8,112.2 396.9,112.7 398.2,113.1 399.4,113.6 400.6,114.1 401.8,114.5 403.1,115 404.3,115.4 405.5,115.8 406.8,116.1 408,116.5 409.2,116.7 410.4,117 411.6,117.2 412.8,117.3 414,117.4 415.3,117.4 416.6,117.4 417.8,117.3 419.1,117.2 420.4,117 421.7,116.8 423,116.5 424.2,116.2 425.5,115.9 426.7,115.6 428,115.2 429.2,114.8 430.4,114.5 431.6,114.1 432.8,113.7 433.9,113.4 435,113 436.3,112.6 437.5,112.1 438.7,111.6 439.9,111.2 441.1,110.6 442.2,110.1 443.3,109.6 444.5,109.1 445.6,108.5 446.7,108 447.8,107.5 449,107" fill="none" stroke="#0000ff" stroke-width="1.7" clip-path="url(#cb)" stroke-linejoin="round" />
<path d="M267.5,175.4 268.7,175.1 269.9,174.7 271,174.4 272.2,174.1 273.4,173.8 274.6,173.4 275.8,173.1 277,172.8 278.1,172.5 279.3,172.1 280.4,171.8 281.7,171.4 283,171.1 284.2,170.7 285.5,170.3 286.8,170 288,169.6 289.2,169.2 290.3,168.9 291.4,168.5 292.8,168 294.2,167.5 295.4,167 296.7,166.5 298,165.9 299.2,165.4 300.5,164.9 301.7,164.4 303,163.9 304.2,163.3 305.4,162.6 306.5,161.9 307.6,161.2 308.7,160.5 309.8,159.7 310.8,158.8 311.9,157.9 312.9,157 313.8,156.2 314.6,155.3 315.5,154.3 316.3,153.4 317.1,152.4 317.9,151.4 318.7,150.4 319.5,149.4 320.3,148.4 321.1,147.4 321.8,146.5 322.5,145.5 323.2,144.6 323.9,143.6 324.7,142.6 325.4,141.6 326.2,140.6 327,139.5 327.7,138.6 328.3,137.7 329,136.8 329.8,135.8 330.5,134.9 331.2,133.9 332,132.9 332.7,131.9 333.5,130.9 334.3,129.9 335.1,128.8 335.9,127.8 336.6,126.8 337.4,125.7 338.2,124.7 338.9,123.8 339.6,122.8 340.4,121.8 341.1,120.8 341.9,119.8 342.7,118.8 343.5,117.8 344.2,116.8 345,115.7 345.8,114.7 346.5,113.7 347.3,112.8 348,111.8 348.7,110.9 349.4,110 350.1,109.1 350.7,108.3 351.3,107.5 352.2,106.3 353.1,105.1 353.9,104 354.7,103 355.5,102 356.3,101 357.2,100 358,99.1 358.9,98.3 359.8,97.4 360.7,96.6 361.6,95.8 362.6,95 363.6,94.1 364.7,93.3 365.6,92.6 366.5,92 367.5,91.3 368.5,90.6 369.5,89.9 370.5,89.2 371.6,88.5 372.7,87.9 373.7,87.2 374.8,86.5 375.8,85.8 376.8,85.2 377.8,84.5 378.8,83.8 379.9,83.1 380.9,82.4 381.9,81.7 382.9,81 383.8,80.3 384.8,79.6 385.8,78.9 386.8,78.3 387.8,77.6 388.8,76.9 389.8,76.2 390.8,75.6 391.8,74.9 392.8,74.2 393.9,73.6 394.9,72.9 395.9,72.2 396.9,71.6 397.9,70.9 399,70.2 400,69.5 401,68.8 402,68.1 403.1,67.4 404.1,66.6 405.2,65.9 406.2,65.2 407.2,64.4 408.3,63.7 409.3,63 410.2,62.3 411.1,61.6 412,61 413.2,60.1 414.3,59.2 415.4,58.3 416.5,57.5 417.5,56.7 418.6,56 419.6,55.3 420.7,54.7 421.7,54.1 422.8,53.6 423.9,53.1 425.1,52.6 426.2,52.2 427.5,51.8 428.7,51.5 430.1,51.2 431.4,50.9 432.6,50.7 433.9,50.6 435,50.6 436.3,50.7 437.5,50.9 438.7,51.2 439.8,51.6 440.9,52 442,52.5 443.1,53.1 444.1,53.7 445.1,54.4 446.1,55.1 447.1,56 448.1,57 449,58 450,59" fill="none" stroke="#0000ff" stroke-width="1.7" clip-path="url(#cb)" stroke-linejoin="round" />
<path d="M268.9,191.5 270.1,190.9 271.2,190.3 272.4,189.7 273.5,189.2 274.7,188.6 275.8,188 277,187.4 278.1,186.8 279.3,186.1 280.4,185.5 281.5,184.8 282.7,184.2 283.8,183.5 284.9,182.8 286,182.1 287.1,181.4 288.2,180.6 289.3,179.9 290.4,179.2 291.4,178.4 292.4,177.6 293.5,176.8 294.4,175.9 295.4,175.1 296.4,174.2 297.3,173.4 298.3,172.5 299.2,171.6 300.2,170.8 301.2,169.9 302.2,169.1 303.2,168.2 304.2,167.3 305.2,166.5 306.2,165.6 307.2,164.8 308.2,164 309.2,163.3 310.3,162.6 311.3,161.9 312.3,161.3 313.4,160.8 314.4,160.2 315.5,159.5 316.6,158.8 317.5,158.1 318.5,157.4 319.5,156.7 320.5,155.9 321.5,155.1 322.5,154.3 323.5,153.5 324.5,152.6 325.6,151.8 326.6,151 327.7,150.2 328.7,149.5 329.7,148.7 330.7,148 331.7,147.2 332.7,146.5 333.7,145.7 334.8,145 335.8,144.2 336.8,143.5 337.8,142.8 338.8,142 339.8,141.4 340.8,140.7 341.9,140 343,139.2 344.1,138.5 345.2,137.8 346.2,137.1 347.3,136.4 348.3,135.8 349.3,135.2 350.3,134.6 351.3,134.1 352.5,133.5 353.6,132.9 354.7,132.3 355.8,131.9 356.9,131.4 358,131.1 359.1,130.8 360.2,130.6 361.3,130.5 362.5,130.5 364,130.5 364.8,130.6 365.7,130.7 366.6,130.8 367.6,131 368.7,131.1 369.8,131.4 371,131.6 372.2,131.9 373.4,132.1 374.7,132.4 376,132.7 377.3,133 378.6,133.4 379.9,133.7 381.2,134 382.5,134.3 383.8,134.6 385.1,134.9 386.4,135.2 387.6,135.5 388.8,135.8 390,136 391.2,136.3 392.5,136.5 393.7,136.8 394.9,137.1 396.2,137.4 397.4,137.8 398.6,138.1 399.8,138.4 401,138.7 402.2,139 403.4,139.2 404.6,139.5 405.8,139.7 407,139.9 408.2,140.1 409.4,140.2 410.6,140.3 411.8,140.3 413,140.3 414.2,140.2 415.5,140.1 416.8,140 418,139.8 419.3,139.6 420.6,139.4 421.9,139.1 423.1,138.8 424.4,138.5 425.7,138.2 426.9,137.8 428.1,137.4 429.3,137 430.5,136.6 431.7,136.2 432.8,135.8 433.9,135.4 435,135 436.2,134.5 437.4,134 438.5,133.4 439.6,132.8 440.7,132.2 441.7,131.6 442.8,131 443.8,130.3 444.8,129.7 445.9,129.1 446.9,128.4 447.9,127.8 449,127.2" fill="none" stroke="#0000ff" stroke-width="1.7" clip-path="url(#cb)" stroke-linejoin="round" />
<path d="M269,51.5 270.3,51.8 271.6,52.1 272.8,52.4 274.1,52.6 275.4,52.9 276.7,53.2 278,53.5 279.3,53.8 280.6,54.1 281.8,54.4 283.1,54.7 284.4,54.9 285.7,55.2 287,55.5 288.2,55.8 289.5,56.2 290.8,56.5 292.1,56.8 293.4,57.2 294.6,57.6 295.9,58 297.2,58.4 298.5,58.8 299.7,59.1 301,59.5 302.3,59.9 303.5,60.2 304.6,60.5 305.8,60.8 307,61.1 308.2,61.4 309.3,61.7 310.5,62.1 311.7,62.4 312.8,62.8 314,63.2 315.1,63.6 316.2,64.1 317.2,64.6 318.3,65.1 319.3,65.7 320.4,66.2 321.4,66.8 322.5,67.3 323.6,67.9 324.8,68.5 326,69 327.1,69.5 328.2,69.9 329.4,70.4 330.7,70.9 331.9,71.4 333.2,71.9 334.5,72.4 335.8,72.9 337.1,73.4 338.4,73.9 339.6,74.3 340.8,74.8 342,75.2 343.1,75.6 344.1,76 345,76.3 346.5,76.9 347.9,77.4 349.1,77.8 350.3,78.2 351.6,78.5 352.8,78.8 354,79 355.3,79.2 356.4,79.3 357.6,79.3 358.9,79.2 360.1,78.9 361.3,78.5 362.5,78 363.7,77.2 364.7,76.3 365.8,75.2 366.9,74.1 367.8,73.2 368.7,72.2 369.6,71.2 370.6,70.2 371.5,69.1 372.4,68.1 373.3,67.1 374.2,66.1 375.1,65.1 376,64.1 376.9,63.1 377.8,62.1 378.6,61.1 379.4,60.2 380.2,59.2 381.1,58.2 381.9,57.2 382.8,56.1 383.8,55 384.5,54.2 385.3,53.3 386.1,52.4 387,51.5 387.9,50.6 388.8,49.6 389.7,48.6 390.6,47.7 391.5,46.7 392.4,45.8 393.3,44.8 394.1,43.9 395,43 395.9,42.1 396.7,41.2 397.6,40.3 398.4,39.4 399.3,38.5 400.2,37.6 401,36.8 401.8,35.9 402.7,35 403.5,34.2 404.2,33.3 405,32.5 405.9,31.4 406.9,30.4 407.7,29.3 408.6,28.3 409.4,27.3 410.3,26.3 411.1,25.3 412,24.3 412.8,23.4 413.7,22.4 414.5,21.5 415.3,20.6 416.1,19.7 416.9,18.8 417.8,17.9 418.6,17 419.5,16 420.4,15.1 421.4,14.1 422.3,13.2 423.2,12.3 424.2,11.4 425.1,10.5 426,9.7 427,8.8 428,7.9 429,7.1 429.9,6.4 430.8,5.7 431.7,5.2 433.4,4.5 435,4.2 436.6,4.4 438.2,5.2 438.9,5.9 439.6,6.9 440.3,8.1 440.9,9.3 441.6,10.6 442.2,11.8 442.8,12.9 443.3,14 443.9,15.1 444.4,16.2 444.9,17.3 445.5,18.5 446.1,19.7 446.6,20.7 447.1,21.8 447.7,22.8 448.3,23.9 448.8,25 449.4,26.1 450,27.2 450.6,28.3 451.1,29.4 451.7,30.5" fill="none" stroke="#ff0000" stroke-width="1.5" clip-path="url(#cb)" stroke-linejoin="round" />
<path d="M269,51.7 270.3,52.1 271.6,52.4 272.9,52.8 274.2,53.2 275.5,53.6 276.8,53.9 278,54.3 279.3,54.6 280.6,54.9 282,55.2 283.3,55.5 284.6,55.8 285.9,56.1 287.2,56.4 288.5,56.8 289.6,57.2 290.7,57.6 291.9,58.1 293,58.6 294.1,59.1 295.2,59.6 296.3,60.1 297.4,60.6 298.5,61.1 299.8,61.7 301,62.3 302.2,62.9 303.4,63.5 304.6,64.1 305.7,64.7 306.9,65.3 308.1,65.9 309.2,66.4 310.4,67 311.5,67.5 312.7,68.1 314,68.7 315,69.2 316,69.7 317,70.2 318,70.8 319.1,71.4 320.2,72 321.3,72.6 322.4,73.2 323.6,73.8 324.8,74.4 326,75 327,75.5 328.1,76 329.2,76.5 330.3,77.1 331.4,77.6 332.6,78.2 333.8,78.8 334.9,79.3 336.1,79.9 337.3,80.4 338.5,81 339.7,81.5 340.8,82.1 341.9,82.6 343,83.1 344,83.5 345,84 346.3,84.6 347.6,85.2 348.8,85.8 350,86.3 351.2,86.8 352.4,87.4 353.5,87.9 354.7,88.4 355.9,88.9 357.1,89.4 358.3,89.9 359.6,90.4 360.8,90.9 362,91.4 363.2,91.8 364.5,92.3 365.7,92.8 366.9,93.3 368.1,93.8 369.3,94.3 370.5,94.8 371.7,95.3 373,95.8 374.2,96.2 375.4,96.7 376.6,97.2 377.8,97.7 379,98.2 380.2,98.7 381.5,99.2 382.7,99.6 383.9,100.1 385.1,100.6 386.3,101.1 387.6,101.5 388.8,102 390,102.4 391.2,102.9 392.5,103.3 393.7,103.8 394.9,104.2 396.2,104.6 397.4,105 398.7,105.4 400,105.8 401.1,106.1 402.3,106.5 403.4,106.8 404.6,107.2 405.8,107.5 407,107.9 408.2,108.2 409.4,108.5 410.6,108.7 411.7,109 412.9,109.2 414,109.3 415.3,109.4 416.5,109.5 417.8,109.5 419,109.5 420.2,109.4 421.4,109.3 422.6,109.2 423.8,109 425,108.8 426.3,108.5 427.5,108.2 428.7,107.9 429.9,107.5 431.1,107 432.4,106.5 433.6,106 435,105.5 436,105.1 437,104.7 438.1,104.2 439.1,103.8 440.2,103.3 441.3,102.8 442.4,102.2 443.6,101.7 444.7,101.2 445.9,100.6 447,100.1 448.1,99.6 449.3,99 450.4,98.5 451.5,98" fill="none" stroke="#ff0000" stroke-width="1.5" clip-path="url(#cb)" stroke-linejoin="round" />
<path d="M269,169.9 270.3,169.6 271.5,169.2 272.8,168.9 274.1,168.5 275.3,168.2 276.6,167.8 277.9,167.5 279.1,167.2 280.4,166.9 281.6,166.6 282.9,166.4 284.1,166.1 285.4,165.9 286.6,165.7 287.8,165.5 289.1,165.2 290.2,165 291.4,164.7 292.7,164.4 294,164 295.3,163.7 296.6,163.3 297.8,162.9 299,162.5 300.1,162 301.3,161.4 302.3,160.8 303.3,160.2 304.3,159.5 305.4,158.8 306.4,158.2 307.5,157.7 308.6,157.1 309.7,156.5 310.8,155.9 311.9,155.2 312.9,154.4 313.8,153.6 314.7,152.8 315.5,151.9 316.4,151 317.2,150 318,149 318.8,148.1 319.6,147.1 320.3,146.2 321.1,145.1 321.9,144 322.5,143 323.2,141.9 324,140.7 324.8,139.5 325.4,138.6 326,137.7 326.7,136.8 327.4,135.9 328.1,134.9 328.8,133.9 329.5,132.9 330.3,131.8 331.1,130.8 331.8,129.7 332.6,128.7 333.4,127.6 334.2,126.5 334.9,125.6 335.6,124.6 336.3,123.6 337.1,122.6 337.9,121.5 338.6,120.5 339.4,119.4 340.2,118.3 341,117.3 341.8,116.2 342.6,115.2 343.3,114.1 344.1,113.1 344.8,112.1 345.5,111.2 346.2,110.2 346.8,109.3 347.4,108.5 348.3,107.2 349.2,106 350.1,104.8 350.9,103.6 351.7,102.5 352.3,101.5 352.9,100.7 353.3,100 353.5,99.4 353.8,98.8 354.2,98.1 354.9,97.2 355.6,96.3 356.4,95.2 357.3,94.1 358.3,93.1 359.2,92.2 360.2,91.3 361.2,90.5 362.3,89.8 363.4,89 364.5,88.3 365.7,87.5 366.9,86.7 367.8,86.1 368.8,85.4 369.7,84.7 370.7,84 371.7,83.3 372.7,82.6 373.8,81.9 374.8,81.2 375.8,80.5 376.8,79.8 377.8,79.1 378.8,78.4 379.8,77.7 380.8,77 381.8,76.3 382.8,75.6 383.8,74.9 384.8,74.2 385.8,73.5 386.8,72.8 387.8,72.1 388.8,71.4 389.8,70.7 390.8,70 391.8,69.4 392.8,68.7 393.9,68 394.9,67.4 395.9,66.7 396.9,66 397.9,65.4 399,64.7 400,64 401,63.3 402,62.7 403.1,62 404.1,61.3 405.2,60.6 406.2,59.9 407.2,59.2 408.2,58.5 409.2,57.8 410.2,57.2 411.1,56.6 412,56 413.2,55.2 414.3,54.4 415.4,53.7 416.5,53 417.5,52.3 418.6,51.6 419.7,50.9 420.7,50.2 421.8,49.5 422.8,48.8 423.9,48.2 425.1,47.6 426.2,47.1 427.3,46.6 428.5,46.1 429.7,45.6 430.9,45.2 432,44.8 433.2,44.5 434.3,44.4 435.7,44.4 437.1,44.5 438.4,44.8 439.7,45.2 440.9,45.6 442,46.1 443.1,46.6 444.1,47.3 445.1,47.9 446.1,48.6 447.2,49.3 448.3,50.1 449.3,50.8 450.4,51.6 451.5,52.4" fill="none" stroke="#ff0000" stroke-width="1.5" clip-path="url(#cb)" stroke-linejoin="round" />
<path d="M269,187.1 270.1,186.6 271.3,186.1 272.4,185.7 273.6,185.2 274.7,184.7 275.9,184.2 277,183.7 278.1,183.2 279.3,182.7 280.4,182.2 281.5,181.6 282.7,181.1 283.8,180.5 284.9,179.9 286,179.3 287.1,178.7 288.2,178.1 289.3,177.5 290.4,176.8 291.4,176.2 292.4,175.5 293.5,174.8 294.5,174.1 295.5,173.4 296.5,172.7 297.4,171.9 298.4,171.2 299.2,170.5 300.1,169.8 301.2,168.8 302.3,167.9 303.3,167 304.3,166 305.4,165 306.3,164.2 307.2,163.3 308.1,162.4 309.1,161.5 310,160.6 311,159.6 312,158.7 312.9,157.8 313.8,156.9 314.7,156 315.7,155.1 316.6,154.2 317.5,153.3 318.4,152.4 319.4,151.6 320.3,150.7 321.3,149.8 322.2,149 323.2,148.1 324.2,147.3 325.2,146.4 326.1,145.6 327.1,144.8 328,144 329.1,143.1 330.1,142.2 331,141.3 332,140.4 333.1,139.5 334.2,138.5 335,137.8 335.9,137 336.9,136.2 337.8,135.4 338.8,134.6 339.8,133.8 340.8,133 341.8,132.2 342.8,131.5 343.8,130.8 344.7,130.2 345.9,129.5 347,128.8 348.2,128.2 349.3,127.7 350.5,127.1 351.5,126.7 352.6,126.2 354,125.6 355.3,125.1 356.6,124.7 358,124.3 359.2,124 360.4,123.6 361.6,123.3 363,123.1 364.4,122.9 366,122.8 366.9,122.8 367.9,122.9 368.9,123 370,123.1 371.1,123.2 372.3,123.4 373.5,123.6 374.7,123.8 375.9,124.1 377.2,124.3 378.5,124.6 379.8,124.9 381.1,125.1 382.4,125.4 383.7,125.7 385,126 386.3,126.2 387.5,126.5 388.8,126.8 390,127 391.2,127.2 392.4,127.5 393.6,127.8 394.8,128.1 396,128.5 397.3,128.8 398.5,129.2 399.7,129.5 400.9,129.8 402.1,130.2 403.3,130.5 404.5,130.8 405.7,131.1 406.9,131.3 408.1,131.6 409.3,131.7 410.5,131.9 411.7,132 412.8,132 414,132 415.2,131.9 416.4,131.8 417.6,131.6 418.8,131.4 420,131.2 421.2,130.9 422.4,130.5 423.6,130.2 424.8,129.8 426,129.4 427.1,129 428.3,128.6 429.4,128.1 430.6,127.7 431.7,127.3 432.8,126.8 433.9,126.4 435,126 436.2,125.6 437.3,125.1 438.5,124.6 439.6,124.1 440.7,123.6 441.8,123.1 442.9,122.6 443.9,122.1 445,121.5 446.1,121 447.2,120.5 448.2,120 449.3,119.4 450.4,118.9 451.5,118.4" fill="none" stroke="#ff0000" stroke-width="1.5" clip-path="url(#cb)" stroke-linejoin="round" />
<path d="M269.4,58.8 270.6,59 271.9,59.3 273.1,59.5 274.3,59.7 275.5,59.9 276.8,60.2 278,60.4 279.3,60.7 280.5,61 281.8,61.3 283.1,61.6 284.4,62 285.6,62.3 286.9,62.7 288.2,63.1 289.5,63.4 290.8,63.8 292.1,64.2 293.4,64.5 294.6,64.9 295.9,65.3 297.2,65.7 298.5,66.1 299.7,66.5 301,66.9 302.3,67.2 303.5,67.5 304.6,67.7 305.8,68 307,68.2 308.2,68.4 309.3,68.7 310.5,68.9 311.7,69.2 312.8,69.5 314,69.9 315.1,70.3 316.2,70.7 317.2,71.2 318.3,71.7 319.3,72.2 320.4,72.7 321.4,73.3 322.5,73.8 323.7,74.4 324.8,74.9 326,75.5 327,76 328.1,76.5 329.2,77 330.4,77.5 331.6,78.1 332.8,78.6 334,79.2 335.2,79.7 336.4,80.3 337.6,80.8 338.8,81.4 340,81.9 341.1,82.4 342.2,82.8 343.2,83.3 344.1,83.6 345,84 346.5,84.6 347.9,85.2 349.1,85.6 350.3,86 351.6,86.3 352.8,86.5 354,86.7 355.3,86.8 356.5,86.8 357.6,86.7 358.9,86.4 360.1,86 361.3,85.4 362.5,84.8 363.6,84 364.7,83.2 365.8,82.2 366.9,81.2 367.8,80.3 368.7,79.4 369.6,78.4 370.6,77.4 371.5,76.4 372.4,75.4 373.3,74.4 374.2,73.3 375.1,72.2 376,71.1 376.9,70.1 377.8,69 378.6,68.1 379.4,67.2 380.2,66.3 380.9,65.4 381.7,64.4 382.5,63.5 383.3,62.6 384.1,61.7 384.8,60.8 385.6,59.9 386.3,59 387.1,58 387.9,57 388.8,56 389.5,55.2 390.3,54.3 391.1,53.4 391.9,52.4 392.8,51.4 393.6,50.4 394.5,49.4 395.4,48.4 396.4,47.4 397.3,46.4 398.2,45.4 399.1,44.4 400,43.5 400.9,42.6 401.8,41.7 402.8,40.7 403.8,39.8 404.7,38.9 405.7,38 406.7,37.1 407.6,36.2 408.6,35.3 409.5,34.5 410.4,33.6 411.2,32.8 412,32 412.9,31.1 413.8,30.2 414.6,29.3 415.4,28.4 416.2,27.6 417,26.7 417.8,25.9 418.6,25 419.4,24.1 420.2,23.1 421,22.2 421.8,21.2 422.6,20.3 423.4,19.3 424.3,18.4 425.1,17.6 426,16.7 427,15.9 428,15.1 429,14.3 430,13.5 430.9,12.9 431.7,12.4 433.2,11.5 434.6,11.2 435.8,11.5 437,12.2 438.2,13.2 438.9,14.1 439.6,15.1 440.3,16.3 440.9,17.5 441.6,18.8 442.2,20 442.8,21.1 443.4,22.2 443.9,23.4 444.5,24.5 445,25.7 445.6,26.9 446.1,28 446.7,29.2 447.2,30.5 447.8,31.7 448.3,32.9 448.9,34.2 449.4,35.4" fill="none" stroke="#ff0000" stroke-width="1.1" stroke-dasharray="2.6,1.4" clip-path="url(#cb)" stroke-linejoin="round" />
<path d="M269.4,59.2 270.6,59.5 271.9,59.9 273.2,60.2 274.4,60.5 275.7,60.9 276.9,61.2 278.1,61.6 279.3,62 280.5,62.5 281.5,63 282.6,63.5 283.6,64 284.7,64.6 285.8,65.2 287,65.7 288,66.2 289.1,66.6 290.2,67.1 291.3,67.5 292.5,68 293.7,68.5 294.8,68.9 296,69.4 297.3,69.8 298.5,70.3 299.6,70.7 300.8,71.1 302,71.5 303.2,71.8 304.4,72.2 305.7,72.6 306.9,72.9 308.1,73.3 309.4,73.7 310.6,74.2 311.7,74.6 312.9,75.1 314,75.6 315.2,76.2 316.3,76.9 317.4,77.6 318.4,78.3 319.4,79 320.5,79.8 321.5,80.5 322.6,81.3 323.7,82 324.8,82.8 326,83.5 327,84.1 328,84.7 329.1,85.2 330.2,85.8 331.4,86.4 332.5,87.1 333.7,87.7 334.9,88.3 336.1,88.8 337.3,89.4 338.5,90 339.6,90.6 340.8,91.1 341.9,91.6 343,92.1 344,92.6 345,93 346.3,93.6 347.7,94.1 349,94.6 350.2,95 351.5,95.4 352.6,95.8 353.8,96.2 354.9,96.6 355.9,97 357.4,97.6 358.6,98.1 359.9,98.7 361.4,99.3 362.4,99.7 363.5,100.1 364.7,100.5 365.9,101 367.1,101.4 368.4,101.9 369.7,102.4 371,102.9 372.4,103.4 373.4,103.8 374.5,104.2 375.6,104.7 376.7,105.2 377.9,105.6 379,106.1 380.2,106.6 381.4,107.1 382.5,107.6 383.8,108.1 385,108.6 386.2,109.1 387.5,109.6 388.7,110 390,110.5 391.1,110.9 392.2,111.3 393.4,111.8 394.6,112.2 395.7,112.7 396.9,113.2 398.2,113.7 399.4,114.1 400.6,114.6 401.8,115.1 403.1,115.5 404.3,115.9 405.5,116.3 406.8,116.7 408,117 409.2,117.3 410.4,117.5 411.6,117.8 412.8,117.9 414,118 415.3,118 416.5,118 417.8,118 419.1,117.9 420.4,117.7 421.7,117.5 423,117.3 424.2,117 425.5,116.7 426.7,116.4 428,116.1 429.2,115.7 430.4,115.4 431.6,115 432.8,114.7 433.9,114.3 435,114 436.3,113.6 437.5,113.1 438.7,112.7 439.9,112.2 441.1,111.7 442.2,111.2 443.3,110.6 444.5,110.1 445.6,109.6 446.7,109 447.8,108.5 449,108" fill="none" stroke="#ff0000" stroke-width="1.1" stroke-dasharray="2.6,1.4" clip-path="url(#cb)" stroke-linejoin="round" />
<path d="M269,177.3 270.3,176.9 271.5,176.5 272.8,176.2 274.1,175.8 275.3,175.4 276.6,175 277.9,174.7 279.1,174.3 280.4,174 281.6,173.7 282.9,173.5 284.1,173.3 285.4,173 286.6,172.8 287.9,172.6 289.1,172.4 290.2,172.1 291.4,171.8 292.7,171.4 294,170.9 295.3,170.4 296.5,169.9 297.7,169.4 298.9,168.8 300.1,168.3 301.3,167.7 302.5,167.1 303.7,166.5 304.8,165.8 305.9,165.2 307,164.5 308,163.8 309.1,163.1 310.1,162.4 311,161.7 312,160.9 313,160 313.9,159.1 314.8,158.2 315.6,157.2 316.5,156.2 317.4,155.2 318.3,154.1 319.1,153.1 320,152 320.8,151 321.5,150.1 322.3,149.2 323,148.2 323.8,147.3 324.5,146.3 325.3,145.2 326.1,144.1 327,143 327.6,142.2 328.3,141.3 328.9,140.4 329.6,139.5 330.3,138.6 331,137.6 331.7,136.6 332.4,135.6 333.2,134.6 333.9,133.6 334.7,132.6 335.4,131.6 336.2,130.6 336.9,129.5 337.7,128.5 338.5,127.5 339.2,126.5 340,125.5 340.7,124.6 341.5,123.6 342.3,122.6 343.1,121.6 343.9,120.6 344.7,119.5 345.5,118.5 346.4,117.5 347.2,116.4 348,115.4 348.9,114.4 349.7,113.4 350.5,112.5 351.2,111.5 352,110.6 352.7,109.7 353.4,108.9 354,108.1 354.6,107.3 355.2,106.6 356.2,105.4 357,104.3 357.8,103.4 358.5,102.4 359.2,101.5 360,100.5 360.7,99.4 361.4,98.3 362.1,97.3 362.9,96.2 363.7,95.1 364.7,94 365.5,93.3 366.3,92.6 367.2,91.9 368.2,91.3 369.2,90.6 370.3,89.9 371.4,89.3 372.5,88.6 373.6,87.9 374.7,87.3 375.8,86.6 376.8,85.9 377.8,85.3 378.8,84.6 379.9,83.9 380.9,83.2 381.9,82.5 382.9,81.8 383.8,81.2 384.8,80.5 385.8,79.8 386.8,79.1 387.8,78.5 388.8,77.8 389.8,77.1 390.8,76.5 391.8,75.8 392.8,75.2 393.9,74.5 394.9,73.8 395.9,73.2 396.9,72.5 397.9,71.9 399,71.2 400,70.5 401,69.8 402,69.1 403.1,68.4 404.1,67.7 405.2,67 406.2,66.3 407.2,65.5 408.3,64.8 409.3,64.1 410.2,63.5 411.1,62.8 412,62.2 413.2,61.3 414.3,60.4 415.4,59.6 416.5,58.8 417.5,58 418.6,57.3 419.6,56.7 420.7,56.1 421.7,55.5 422.8,54.9 423.9,54.5 425.1,54 426.2,53.6 427.5,53.3 428.7,52.9 430.1,52.6 431.4,52.4 432.6,52.2 433.9,52 435,52 436.3,52.1 437.5,52.2 438.7,52.5 439.8,52.8 440.9,53.2 442,53.7 443.1,54.3 444.1,54.9 445.1,55.6 446.1,56.3 447.1,57.2 448.1,58.1 449,59.1 450,60" fill="none" stroke="#ff0000" stroke-width="1.1" stroke-dasharray="2.6,1.4" clip-path="url(#cb)" stroke-linejoin="round" />
<path d="M270.8,193 272.1,192.7 273.4,192.5 274.9,192 275.8,191.6 276.8,191.1 277.8,190.5 279,189.9 280.1,189.2 281.3,188.5 282.5,187.7 283.6,187 284.8,186.2 285.9,185.5 286.9,184.8 287.9,184.2 289,183.5 290,182.8 291,182.1 292.1,181.4 293.1,180.7 294,180 295,179.2 295.9,178.5 296.8,177.8 297.8,176.9 298.7,176.1 299.6,175.2 300.5,174.3 301.3,173.4 302.2,172.5 303.1,171.6 304,170.8 304.9,170 305.9,169.2 306.9,168.5 307.9,167.7 308.9,167 309.9,166.2 310.9,165.5 311.9,164.8 312.9,164.1 314,163.3 315.1,162.5 316.1,161.8 317.1,161 318.2,160.3 319.2,159.5 320.3,158.8 321.4,158.1 322.4,157.4 323.5,156.7 324.6,156 325.7,155.3 326.8,154.5 328,153.6 328.8,152.9 329.7,152.2 330.6,151.5 331.5,150.7 332.4,149.8 333.3,149 334.3,148.1 335.2,147.3 336.2,146.4 337.1,145.6 338.1,144.8 339,144 339.9,143.2 340.8,142.5 341.9,141.7 343,140.9 344.1,140.1 345.1,139.4 346.2,138.7 347.3,138 348.3,137.3 349.3,136.7 350.3,136.1 351.3,135.5 352.5,134.8 353.6,134.2 354.7,133.6 355.8,133 356.9,132.6 358,132.2 359.1,131.9 360.2,131.7 361.3,131.5 362.5,131.5 364,131.5 364.8,131.6 365.7,131.6 366.6,131.8 367.6,131.9 368.7,132.1 369.8,132.3 371,132.6 372.2,132.8 373.4,133.1 374.7,133.4 376,133.7 377.3,134 378.6,134.4 379.9,134.7 381.2,135 382.5,135.3 383.8,135.6 385.1,135.9 386.4,136.2 387.6,136.5 388.8,136.8 390,137 391.2,137.3 392.5,137.5 393.7,137.8 394.9,138.1 396.2,138.4 397.4,138.8 398.6,139.1 399.8,139.4 401,139.7 402.2,140 403.4,140.2 404.6,140.5 405.8,140.7 407,140.9 408.2,141.1 409.4,141.2 410.6,141.3 411.8,141.3 413,141.3 414.2,141.2 415.5,141.1 416.8,141 418,140.8 419.3,140.6 420.6,140.4 421.9,140.1 423.1,139.8 424.4,139.5 425.7,139.2 426.9,138.8 428.1,138.4 429.3,138 430.5,137.6 431.7,137.2 432.8,136.8 433.9,136.4 435,136 436.2,135.5 437.4,135 438.5,134.4 439.6,133.8 440.7,133.2 441.7,132.6 442.8,132 443.8,131.3 444.8,130.7 445.9,130.1 446.9,129.4 447.9,128.8 449,128.2" fill="none" stroke="#ff0000" stroke-width="1.1" stroke-dasharray="2.6,1.4" clip-path="url(#cb)" stroke-linejoin="round" />
<rect x="264" y="2.1" width="187.6" height="189.9" fill="none" stroke="#505050" stroke-width="1"/>
<line x1="272" y1="192" x2="272" y2="195" stroke="#333" stroke-width="0.8"/>
<text x="272" y="202.5" font-size="7.4" text-anchor="middle" fill="#111" >−0.10</text>
<line x1="314.8" y1="192" x2="314.8" y2="195" stroke="#333" stroke-width="0.8"/>
<text x="314.8" y="202.5" font-size="7.4" text-anchor="middle" fill="#111" >−0.05</text>
<line x1="357.6" y1="192" x2="357.6" y2="195" stroke="#333" stroke-width="0.8"/>
<text x="357.6" y="202.5" font-size="7.4" text-anchor="middle" fill="#111" >0.00</text>
<line x1="400.4" y1="192" x2="400.4" y2="195" stroke="#333" stroke-width="0.8"/>
<text x="400.4" y="202.5" font-size="7.4" text-anchor="middle" fill="#111" >0.05</text>
<line x1="443.2" y1="192" x2="443.2" y2="195" stroke="#333" stroke-width="0.8"/>
<text x="443.2" y="202.5" font-size="7.4" text-anchor="middle" fill="#111" >0.10</text>
<line x1="260.8" y1="7.92" x2="264" y2="7.92" stroke="#333" stroke-width="0.8"/>
<text x="260" y="10.72" font-size="7.4" text-anchor="end" fill="#111" >0.8</text>
<line x1="260.8" y1="52.56" x2="264" y2="52.56" stroke="#333" stroke-width="0.8"/>
<text x="260" y="55.36" font-size="7.4" text-anchor="end" fill="#111" >0.4</text>
<line x1="260.8" y1="97.2" x2="264" y2="97.2" stroke="#333" stroke-width="0.8"/>
<text x="260" y="100" font-size="7.4" text-anchor="end" fill="#111" >0.0</text>
<line x1="260.8" y1="141.84" x2="264" y2="141.84" stroke="#333" stroke-width="0.8"/>
<text x="260" y="144.64" font-size="7.4" text-anchor="end" fill="#111" >−0.4</text>
<line x1="260.8" y1="186.48" x2="264" y2="186.48" stroke="#333" stroke-width="0.8"/>
<text x="260" y="189.28" font-size="7.4" text-anchor="end" fill="#111" >−0.8</text>
<line x1="497.5" y1="84.6" x2="678.5" y2="84.6" stroke="#c8c8c8" stroke-width="0.9"/>
<line x1="587.8" y1="0.5" x2="587.8" y2="191.5" stroke="#cfcfcf" stroke-width="1.1" stroke-dasharray="1.2,0.6"/>
<path d="M497.4,39.5 498.7,39.1 500,38.8 501.4,38.4 502.7,38 504,37.6 505.3,37.3 506.6,37.1 507.9,36.9 509.2,36.8 510.4,36.7 511.7,36.6 513,36.6 514.3,36.6 515.5,36.6 516.7,36.7 517.9,36.8 519.1,37 520.3,37.1 521.6,37.3 522.8,37.5 524,37.8 525.2,38.1 526.5,38.5 527.7,38.9 528.9,39.3 530.1,39.8 531.3,40.3 532.5,40.7 533.6,41.2 534.9,41.7 536.1,42.2 537.3,42.7 538.5,43.2 539.7,43.8 541,44.5 542,45.1 543.1,45.8 544.1,46.5 545.2,47.3 546.3,48.1 547.4,48.9 548.5,49.6 549.6,50.4 550.8,51 551.9,51.6 553.1,52.1 554.3,52.6 555.5,53.1 556.7,53.5 558,53.9 559.2,54.3 560.4,54.6 561.7,54.9 562.9,55.1 564.1,55.3 565.3,55.4 566.5,55.5 567.7,55.6 568.9,55.6 570.1,55.6 571.3,55.6 572.5,55.6 573.8,55.6 575,55.6 576.2,55.6 577.5,55.6 578.8,55.6 580,55.5 581.3,55.5 582.6,55.5 583.9,55.4 585.2,55.4 586.5,55.4 587.8,55.4 589.1,55.4 590.4,55.4 591.7,55.4 593,55.5 594.3,55.5 595.6,55.5 596.8,55.6 598.1,55.6 599.4,55.6 600.6,55.6 601.8,55.6 603.1,55.6 604.3,55.6 605.5,55.6 606.7,55.6 607.9,55.6 609.1,55.5 610.3,55.4 611.5,55.3 612.7,55.1 613.9,54.9 615.2,54.6 616.4,54.3 617.6,53.9 618.9,53.5 620.1,53.1 621.3,52.6 622.5,52.1 623.7,51.6 624.8,51 626,50.4 627.1,49.6 628.2,48.9 629.3,48.1 630.4,47.3 631.5,46.5 632.5,45.8 633.6,45.1 634.6,44.5 635.9,43.8 637.1,43.2 638.3,42.7 639.5,42.2 640.7,41.7 642,41.2 643.1,40.7 644.3,40.3 645.5,39.8 646.7,39.3 647.9,38.9 649.1,38.5 650.4,38.1 651.6,37.8 652.8,37.5 654,37.3 655.3,37.1 656.5,37 657.7,36.8 658.9,36.7 660.1,36.6 661.3,36.6 662.6,36.6 663.9,36.6 665.2,36.7 666.4,36.8 667.7,36.9 669,37.1 670.3,37.3 671.6,37.6 672.9,38 674.2,38.4 675.6,38.8 676.9,39.1 678.2,39.5" fill="none" stroke="#0000ff" stroke-width="1.7" clip-path="url(#cc)" stroke-linejoin="round" />
<path d="M497.4,56.3 498.5,55.6 499.7,54.8 500.8,54.1 502,53.3 503.1,52.6 504.3,51.9 505.4,51.3 506.6,50.8 507.8,50.3 509.1,49.9 510.3,49.6 511.6,49.3 512.8,49.1 514.1,48.9 515.3,48.9 516.6,48.9 517.8,49.1 519.1,49.3 520.3,49.6 521.6,49.9 522.8,50.3 524,50.8 525.2,51.3 526.3,51.9 527.4,52.6 528.5,53.3 529.6,54 530.6,54.8 531.7,55.6 532.7,56.4 533.7,57.2 534.7,58 535.6,58.9 536.6,59.8 537.5,60.7 538.5,61.5 539.4,62.4 540.4,63.3 541.3,64.3 542.3,65.2 543.2,66.2 544.1,67.1 545,68.1 546,69 547,69.9 548,70.9 549,71.8 550,72.8 551.1,73.7 552.1,74.6 553.1,75.4 554.1,76.2 555.2,77 556.2,77.8 557.2,78.6 558.3,79.3 559.3,80 560.5,80.8 561.7,81.5 562.9,82.2 564.1,82.8 565.4,83.5 566.5,84 567.6,84.6 568.7,85.1 569.9,85.6 571,86.1 572.2,86.6 573.3,87 574.7,87.5 576,88 577.3,88.4 578.6,88.8 580,89.2 581.3,89.5 582.5,89.7 583.9,90 585.2,90.2 586.5,90.4 587.8,90.6 M587.8,90.6 589.1,90.4 590.4,90.2 591.7,90 593.1,89.7 594.3,89.5 595.6,89.2 597,88.8 598.3,88.4 599.6,88 600.9,87.5 602.3,87 603.4,86.6 604.6,86.1 605.7,85.6 606.9,85.1 608,84.6 609.1,84 610.2,83.5 611.5,82.8 612.7,82.2 613.9,81.5 615.1,80.8 616.3,80 617.3,79.3 618.4,78.6 619.4,77.8 620.4,77 621.5,76.2 622.5,75.4 623.5,74.6 624.5,73.7 625.6,72.8 626.6,71.8 627.6,70.9 628.6,69.9 629.6,69 630.6,68.1 631.5,67.1 632.4,66.2 633.3,65.2 634.3,64.3 635.2,63.3 636.2,62.4 637.1,61.5 638.1,60.7 639,59.8 640,58.9 640.9,58 641.9,57.2 642.9,56.4 643.9,55.6 645,54.8 646,54 647.1,53.3 648.2,52.6 649.3,51.9 650.4,51.3 651.6,50.8 652.8,50.3 654,49.9 655.3,49.6 656.5,49.3 657.8,49.1 659,48.9 660.3,48.9 661.5,48.9 662.8,49.1 664,49.3 665.3,49.6 666.5,49.9 667.8,50.3 669,50.8 670.2,51.3 671.3,51.9 672.5,52.6 673.6,53.3 674.8,54.1 675.9,54.8 677.1,55.6 678.2,56.3" fill="none" stroke="#0000ff" stroke-width="1.7" clip-path="url(#cc)" stroke-linejoin="round" />
<path d="M497.9,156 498.9,156.9 500,157.8 501,158.7 502,159.6 503.1,160.5 504.1,161.4 505.2,162.2 506.2,162.9 507.4,163.7 508.6,164.5 509.9,165.2 511.1,165.8 512.3,166.3 513.5,166.5 514.8,166.5 516.2,166.3 517.5,165.9 518.8,165.4 520,164.7 521,164.1 521.9,163.3 522.9,162.4 523.8,161.5 524.7,160.5 525.6,159.4 526.4,158.3 527.1,157.3 527.7,156.3 528.3,155.2 528.9,154 529.5,152.9 530.1,151.7 530.7,150.5 531.3,149.3 531.9,148.1 532.6,147 533.2,146 533.9,145 534.6,144 535.2,143 535.9,142 536.6,141.1 537.3,140.1 538.1,139.1 538.8,138 539.5,137 540.3,135.9 540.9,135 541.6,134 542.3,133 543,132 543.7,131 544.5,129.9 545.2,128.9 545.9,127.8 546.7,126.8 547.4,125.7 548.1,124.7 548.8,123.7 549.5,122.7 550.2,121.8 550.8,120.9 551.4,120 552.2,118.8 553,117.7 553.7,116.6 554.5,115.6 555.2,114.6 555.9,113.6 556.7,112.6 557.5,111.5 558.2,110.6 559,109.6 559.7,108.6 560.5,107.6 561.3,106.6 562.1,105.6 562.9,104.6 563.8,103.6 564.6,102.7 565.4,101.8 566.3,101 567.4,100.1 568.5,99.2 569.6,98.4 570.7,97.6 571.9,96.8 573,96.2 574,95.5 575,94.9 576.3,94.1 577.5,93.4 578.7,92.8 580,92.3 581.2,91.9 582.5,91.6 583.8,91.4 585.1,91.2 586.5,90.9 587.8,90.7 M587.8,90.7 589.1,90.9 590.5,91.2 591.8,91.4 593.1,91.6 594.4,91.9 595.6,92.3 596.9,92.8 598.1,93.4 599.3,94.1 600.6,94.9 601.6,95.5 602.6,96.2 603.7,96.8 604.9,97.6 606,98.4 607.1,99.2 608.2,100.1 609.3,101 610.2,101.8 611,102.7 611.8,103.6 612.7,104.6 613.5,105.6 614.3,106.6 615.1,107.6 615.9,108.6 616.6,109.6 617.4,110.6 618.1,111.5 618.9,112.6 619.7,113.6 620.4,114.6 621.1,115.6 621.9,116.6 622.6,117.7 623.4,118.8 624.2,120 624.8,120.9 625.4,121.8 626.1,122.7 626.8,123.7 627.5,124.7 628.2,125.7 628.9,126.8 629.7,127.8 630.4,128.9 631.1,129.9 631.9,131 632.6,132 633.3,133 634,134 634.7,135 635.3,135.9 636.1,137 636.8,138 637.5,139.1 638.3,140.1 639,141.1 639.7,142 640.4,143 641,144 641.7,145 642.4,146 643,147 643.7,148.1 644.3,149.3 644.9,150.5 645.5,151.7 646.1,152.9 646.7,154 647.3,155.2 647.9,156.3 648.5,157.3 649.2,158.3 650,159.4 650.9,160.5 651.8,161.5 652.7,162.4 653.7,163.3 654.6,164.1 655.6,164.7 656.8,165.4 658.1,165.9 659.4,166.3 660.8,166.5 662.1,166.5 663.3,166.3 664.5,165.8 665.7,165.2 667,164.5 668.2,163.7 669.4,162.9 670.4,162.2 671.5,161.4 672.5,160.5 673.6,159.6 674.6,158.7 675.6,157.8 676.7,156.9 677.7,156" fill="none" stroke="#0000ff" stroke-width="1.7" clip-path="url(#cc)" stroke-linejoin="round" />
<path d="M497.9,187.2 499.1,186.8 500.3,186.4 501.4,186 502.6,185.6 503.8,185.2 505,184.9 506.2,184.5 507.5,184.1 508.8,183.7 510.1,183.3 511.4,182.9 512.7,182.5 514.1,182.2 515.4,182 516.7,181.9 518,181.9 519.3,181.9 520.6,182 522,182.1 523.3,182.2 524.6,182.2 525.9,182.2 527.2,182.2 528.5,182.2 529.8,182.2 531.1,182.1 532.4,182.1 533.8,182 535,181.9 536.2,181.8 537.5,181.6 538.7,181.5 540,181.3 541.3,181.1 542.5,180.9 543.8,180.7 545,180.5 546.3,180.3 547.6,180 548.9,179.7 550.2,179.4 551.5,179.1 552.7,178.8 554,178.6 555.3,178.4 556.6,178.2 557.9,178.1 559.2,178 560.4,177.9 561.7,177.8 563,177.8 564.3,177.7 565.6,177.7 566.9,177.7 568.2,177.7 569.4,177.7 570.7,177.7 572,177.8 573.3,177.8 574.6,177.9 575.9,177.9 577.2,177.9 578.5,178 579.8,178 581.1,178 582.5,178 583.8,178.1 585.1,178.1 586.5,178.1 587.8,178.1 589.1,178.1 590.5,178.1 591.8,178.1 593.1,178 594.5,178 595.8,178 597.1,178 598.4,177.9 599.7,177.9 601,177.9 602.3,177.8 603.6,177.8 604.9,177.7 606.2,177.7 607.4,177.7 608.7,177.7 610,177.7 611.3,177.7 612.6,177.8 613.9,177.8 615.2,177.9 616.4,178 617.7,178.1 619,178.2 620.3,178.4 621.6,178.6 622.9,178.8 624.1,179.1 625.4,179.4 626.7,179.7 628,180 629.3,180.3 630.6,180.5 631.8,180.7 633.1,180.9 634.3,181.1 635.6,181.3 636.9,181.5 638.1,181.6 639.4,181.8 640.6,181.9 641.8,182 643.2,182.1 644.5,182.1 645.8,182.2 647.1,182.2 648.4,182.2 649.7,182.2 651,182.2 652.3,182.2 653.6,182.1 655,182 656.3,181.9 657.6,181.9 658.9,181.9 660.2,182 661.5,182.2 662.9,182.5 664.2,182.9 665.5,183.3 666.8,183.7 668.1,184.1 669.4,184.5 670.6,184.9 671.8,185.2 673,185.6 674.2,186 675.3,186.4 676.5,186.8 677.7,187.2" fill="none" stroke="#0000ff" stroke-width="1.7" clip-path="url(#cc)" stroke-linejoin="round" />
<path d="M497.4,14.9 498.7,14.7 499.9,14.4 501.2,14.1 502.5,13.9 503.7,13.7 505,13.5 506.3,13.4 507.5,13.3 508.8,13.2 510.1,13.1 511.3,13.1 512.6,13.1 513.8,13.1 515.1,13.2 516.3,13.3 517.5,13.4 518.8,13.6 520,13.8 521.1,14.1 522.3,14.4 523.4,14.8 524.6,15.2 525.7,15.6 526.9,16.1 528,16.5 529.3,17 530.6,17.6 531.9,18.2 533.1,18.8 534.3,19.4 535.5,20 536.6,20.6 537.7,21.2 538.8,21.8 539.8,22.4 541,23.1 542,23.7 543.1,24.4 544.2,25.1 545.3,25.8 546.4,26.5 547.5,27.2 548.7,27.9 549.8,28.6 550.9,29.3 551.9,29.9 553,30.6 554.1,31.2 555.2,31.9 556.2,32.5 557.4,33 558.5,33.5 559.7,33.9 560.9,34.3 562.1,34.7 563.3,35 564.6,35.3 565.9,35.6 567.1,35.8 568.4,36 569.6,36.1 570.8,36.2 572,36.3 573.3,36.3 574.5,36.3 575.7,36.3 577,36.3 578.1,36.3 579.3,36.3 580.6,36.3 581.8,36.3 583,36.2 584.2,36.2 585.4,36.1 586.6,36.1 587.8,36.1 589,36.1 590.2,36.1 591.4,36.2 592.6,36.2 593.8,36.3 595,36.3 596.3,36.3 597.5,36.3 598.6,36.3 599.9,36.3 601.1,36.3 602.3,36.3 603.6,36.3 604.8,36.2 606,36.1 607.2,36 608.5,35.8 609.7,35.6 611,35.3 612.3,35 613.5,34.7 614.7,34.3 615.9,33.9 617.1,33.5 618.2,33 619.4,32.5 620.4,31.9 621.5,31.2 622.6,30.6 623.7,29.9 624.7,29.3 625.8,28.6 626.9,27.9 628.1,27.2 629.2,26.5 630.3,25.8 631.4,25.1 632.5,24.4 633.6,23.7 634.6,23.1 635.8,22.4 636.8,21.8 637.9,21.2 639,20.6 640.1,20 641.3,19.4 642.5,18.8 643.7,18.2 645,17.6 646.3,17 647.6,16.5 648.7,16.1 649.9,15.6 651,15.2 652.2,14.8 653.3,14.4 654.5,14.1 655.6,13.8 656.8,13.6 658.1,13.4 659.3,13.3 660.5,13.2 661.8,13.1 663,13.1 664.3,13.1 665.5,13.1 666.8,13.2 668.1,13.3 669.3,13.4 670.6,13.5 671.9,13.7 673.1,13.9 674.4,14.1 675.7,14.4 676.9,14.7 678.2,14.9" fill="none" stroke="#ff0000" stroke-width="1.5" clip-path="url(#cc)" stroke-linejoin="round" />
<path d="M497.4,29.6 498.4,29 499.5,28.3 500.5,27.6 501.5,27 502.5,26.3 503.6,25.8 504.7,25.3 505.9,24.9 507.1,24.5 508.3,24.2 509.6,24 510.9,23.8 512.2,23.7 513.4,23.7 514.6,23.8 515.9,23.9 517.2,24.2 518.4,24.5 519.6,24.8 520.8,25.3 522,25.8 523,26.3 524.1,27 525,27.7 526,28.4 527,29.2 527.9,30 528.8,30.8 529.7,31.6 530.7,32.5 531.7,33.5 532.7,34.4 533.6,35.4 534.6,36.4 535.5,37.3 536.4,38.2 537.3,39.1 538.1,40 539,40.9 540,41.8 541,42.8 541.8,43.5 542.8,44.3 543.7,45.1 544.7,45.9 545.8,46.7 546.8,47.5 547.9,48.4 548.9,49.2 549.9,50 550.9,50.8 551.9,51.6 552.9,52.5 554,53.4 555,54.3 556,55.2 557,56 557.9,56.9 558.9,57.7 559.8,58.5 560.7,59.2 561.9,60.1 563,60.9 564.1,61.6 565.1,62.3 566.3,63 567.4,63.6 568.5,64.2 569.6,64.8 570.7,65.3 571.9,65.8 573,66.3 574.3,66.8 575.5,67.3 576.8,67.8 578.1,68.2 579.4,68.6 580.5,68.9 581.7,69.1 582.9,69.4 584.1,69.6 585.4,69.8 586.6,70 587.8,70.2 M587.8,70.2 589,70 590.2,69.8 591.5,69.6 592.7,69.4 593.9,69.1 595.1,68.9 596.2,68.6 597.5,68.2 598.8,67.8 600.1,67.3 601.3,66.8 602.6,66.3 603.7,65.8 604.9,65.3 606,64.8 607.1,64.2 608.2,63.6 609.3,63 610.5,62.3 611.5,61.6 612.6,60.9 613.7,60.1 614.9,59.2 615.8,58.5 616.7,57.7 617.7,56.9 618.6,56 619.6,55.2 620.6,54.3 621.6,53.4 622.7,52.5 623.7,51.6 624.7,50.8 625.7,50 626.7,49.2 627.7,48.4 628.8,47.5 629.8,46.7 630.9,45.9 631.9,45.1 632.8,44.3 633.8,43.5 634.6,42.8 635.6,41.8 636.6,40.9 637.5,40 638.3,39.1 639.2,38.2 640.1,37.3 641,36.4 642,35.4 642.9,34.4 643.9,33.5 644.9,32.5 645.9,31.6 646.8,30.8 647.7,30 648.6,29.2 649.6,28.4 650.6,27.7 651.5,27 652.6,26.3 653.6,25.8 654.8,25.3 656,24.8 657.2,24.5 658.4,24.2 659.7,23.9 661,23.8 662.2,23.7 663.4,23.7 664.7,23.8 666,24 667.3,24.2 668.5,24.5 669.7,24.9 670.9,25.3 672,25.8 673.1,26.3 674.1,27 675.1,27.6 676.1,28.3 677.2,29 678.2,29.6" fill="none" stroke="#ff0000" stroke-width="1.5" clip-path="url(#cc)" stroke-linejoin="round" />
<path d="M497.4,148.2 498.3,149.1 499.1,149.9 500,150.8 500.9,151.7 501.8,152.5 502.8,153.2 504,153.9 505.3,154.6 506.6,155.3 507.9,155.8 509.2,156.2 510.5,156.4 511.7,156.4 512.9,156.2 514.1,155.8 515.2,155.3 516.3,154.7 517.3,154 518.3,153.1 519.2,152.1 520.2,151.1 521.1,150 522,148.9 522.7,148 523.5,147.1 524.2,146.1 524.9,145.2 525.7,144.2 526.4,143.2 527.1,142.2 527.8,141.2 528.5,140.2 529.3,139.1 530,138.1 530.7,137 531.4,135.9 532.2,134.8 532.9,133.7 533.6,132.5 534.2,131.5 534.8,130.5 535.4,129.5 536,128.4 536.5,127.4 537.1,126.3 537.7,125.2 538.3,124.1 538.9,123 539.6,121.9 540.2,120.8 540.8,119.8 541.4,118.8 541.9,117.8 542.5,116.7 543.2,115.7 543.8,114.6 544.4,113.6 545,112.5 545.6,111.4 546.3,110.4 546.9,109.3 547.5,108.3 548.2,107.3 548.8,106.3 549.5,105.2 550.2,104.1 551,103 551.7,102 552.4,100.9 553.2,99.9 553.9,98.8 554.6,97.8 555.4,96.8 556.1,95.8 556.8,94.8 557.5,93.8 558.3,92.7 559.1,91.5 559.9,90.4 560.6,89.3 561.4,88.2 562.1,87.2 562.9,86.1 563.7,85.2 564.5,84.2 565.3,83.3 566.2,82.4 567,81.5 567.9,80.7 568.8,79.8 569.7,79.1 570.6,78.3 571.5,77.6 572.6,76.8 573.7,76.1 574.8,75.5 575.9,74.8 577.1,74.2 578.2,73.6 579.4,73.1 580.6,72.6 581.8,72.2 583,71.8 584.2,71.4 585.4,71.1 586.6,70.7 587.8,70.3 M587.8,70.3 589,70.7 590.2,71.1 591.4,71.4 592.6,71.8 593.8,72.2 595,72.6 596.2,73.1 597.4,73.6 598.5,74.2 599.7,74.8 600.8,75.5 601.9,76.1 603,76.8 604.1,77.6 605,78.3 605.9,79.1 606.8,79.8 607.7,80.7 608.6,81.5 609.4,82.4 610.3,83.3 611.1,84.2 611.9,85.2 612.7,86.1 613.5,87.2 614.2,88.2 615,89.3 615.7,90.4 616.5,91.5 617.3,92.7 618.1,93.8 618.8,94.8 619.5,95.8 620.2,96.8 621,97.8 621.7,98.8 622.4,99.9 623.2,100.9 623.9,102 624.6,103 625.4,104.1 626.1,105.2 626.8,106.3 627.4,107.3 628.1,108.3 628.7,109.3 629.3,110.4 630,111.4 630.6,112.5 631.2,113.6 631.8,114.6 632.4,115.7 633.1,116.7 633.7,117.8 634.2,118.8 634.8,119.8 635.4,120.8 636,121.9 636.7,123 637.3,124.1 637.9,125.2 638.5,126.3 639.1,127.4 639.6,128.4 640.2,129.5 640.8,130.5 641.4,131.5 642,132.5 642.7,133.7 643.4,134.8 644.2,135.9 644.9,137 645.6,138.1 646.3,139.1 647.1,140.2 647.8,141.2 648.5,142.2 649.2,143.2 649.9,144.2 650.7,145.2 651.4,146.1 652.1,147.1 652.9,148 653.6,148.9 654.5,150 655.4,151.1 656.4,152.1 657.3,153.1 658.3,154 659.3,154.7 660.4,155.3 661.5,155.8 662.7,156.2 663.9,156.4 665.1,156.4 666.4,156.2 667.7,155.8 669,155.3 670.3,154.6 671.6,153.9 672.8,153.2 673.8,152.5 674.7,151.7 675.6,150.8 676.5,149.9 677.3,149.1 678.2,148.2" fill="none" stroke="#ff0000" stroke-width="1.5" clip-path="url(#cc)" stroke-linejoin="round" />
<path d="M497.9,175.3 499.1,174.8 500.3,174.4 501.4,173.9 502.6,173.4 503.8,173 505,172.5 506.2,172.1 507.3,171.7 508.5,171.3 509.6,170.9 510.8,170.5 511.9,170.2 513.1,169.9 514.2,169.6 515.4,169.3 516.7,169.1 518,168.9 519.3,168.9 520.7,168.8 522,168.7 523.3,168.6 524.6,168.4 525.9,168.1 527.2,167.8 528.5,167.5 529.8,167.2 531.1,166.8 532.4,166.4 533.8,166.1 535,165.8 536.2,165.5 537.5,165.3 538.7,165 540,164.7 541.3,164.5 542.5,164.2 543.8,163.8 545,163.5 546.2,163.1 547.3,162.7 548.5,162.3 549.6,161.9 550.7,161.4 551.9,161 553,160.6 554.1,160.2 555.3,159.9 556.6,159.6 557.9,159.3 559.1,159 560.4,158.7 561.7,158.5 563,158.3 564.3,158.1 565.6,157.9 566.9,157.8 568.2,157.6 569.4,157.5 570.7,157.5 572,157.4 573.3,157.4 574.6,157.3 575.9,157.3 577.2,157.3 578.5,157.3 579.8,157.3 581.1,157.4 582.5,157.4 583.8,157.4 585.1,157.5 586.5,157.5 587.8,157.5 589.1,157.5 590.5,157.5 591.8,157.4 593.1,157.4 594.5,157.4 595.8,157.3 597.1,157.3 598.4,157.3 599.7,157.3 601,157.3 602.3,157.4 603.6,157.4 604.9,157.5 606.2,157.5 607.4,157.6 608.7,157.8 610,157.9 611.3,158.1 612.6,158.3 613.9,158.5 615.2,158.7 616.5,159 617.7,159.3 619,159.6 620.3,159.9 621.5,160.2 622.6,160.6 623.7,161 624.9,161.4 626,161.9 627.1,162.3 628.3,162.7 629.4,163.1 630.6,163.5 631.8,163.8 633.1,164.2 634.3,164.5 635.6,164.7 636.9,165 638.1,165.3 639.4,165.5 640.6,165.8 641.8,166.1 643.2,166.4 644.5,166.8 645.8,167.2 647.1,167.5 648.4,167.8 649.7,168.1 651,168.4 652.3,168.6 653.6,168.7 654.9,168.8 656.3,168.9 657.6,168.9 658.9,169.1 660.2,169.3 661.4,169.6 662.5,169.9 663.7,170.2 664.8,170.5 666,170.9 667.1,171.3 668.3,171.7 669.4,172.1 670.6,172.5 671.8,173 673,173.4 674.2,173.9 675.3,174.4 676.5,174.8 677.7,175.3" fill="none" stroke="#ff0000" stroke-width="1.5" clip-path="url(#cc)" stroke-linejoin="round" />
<path d="M497.4,35.4 498.7,35.1 500,34.8 501.4,34.5 502.7,34.2 504,33.9 505.3,33.7 506.6,33.5 507.9,33.4 509.2,33.3 510.4,33.3 511.7,33.3 513,33.4 514.3,33.5 515.5,33.6 516.7,33.8 517.9,34 519.1,34.2 520.3,34.5 521.6,34.7 522.8,35.1 524,35.4 525.2,35.8 526.5,36.2 527.7,36.7 528.9,37.2 530.1,37.7 531.3,38.2 532.5,38.8 533.6,39.3 534.7,39.8 535.8,40.4 536.8,40.9 537.8,41.5 538.8,42.1 539.9,42.7 541,43.4 541.9,44 542.9,44.8 543.8,45.5 544.8,46.3 545.8,47.2 546.8,48 547.8,48.9 548.8,49.7 549.8,50.4 550.9,51.2 551.9,51.8 553.1,52.5 554.3,53.1 555.5,53.7 556.7,54.3 557.9,54.9 559.2,55.4 560.4,55.8 561.7,56.2 562.9,56.5 564.1,56.7 565.3,56.9 566.5,57 567.6,57 568.8,57 570.1,57 571.3,57 572.5,57 573.8,57 575,57 576.2,57 577.5,57 578.8,57 580,56.9 581.3,56.9 582.6,56.9 583.9,56.8 585.2,56.8 586.5,56.8 587.8,56.8 589.1,56.8 590.4,56.8 591.7,56.8 593,56.9 594.3,56.9 595.6,56.9 596.8,57 598.1,57 599.4,57 600.6,57 601.8,57 603.1,57 604.3,57 605.5,57 606.8,57 608,57 609.1,57 610.3,56.9 611.5,56.7 612.7,56.5 613.9,56.2 615.2,55.8 616.4,55.4 617.7,54.9 618.9,54.3 620.1,53.7 621.3,53.1 622.5,52.5 623.7,51.8 624.7,51.2 625.8,50.4 626.8,49.7 627.8,48.9 628.8,48 629.8,47.2 630.8,46.3 631.8,45.5 632.7,44.8 633.7,44 634.6,43.4 635.7,42.7 636.8,42.1 637.8,41.5 638.8,40.9 639.8,40.4 640.9,39.8 642,39.3 643.1,38.8 644.3,38.2 645.5,37.7 646.7,37.2 647.9,36.7 649.1,36.2 650.4,35.8 651.6,35.4 652.8,35.1 654,34.7 655.3,34.5 656.5,34.2 657.7,34 658.9,33.8 660.1,33.6 661.3,33.5 662.6,33.4 663.9,33.3 665.2,33.3 666.4,33.3 667.7,33.4 669,33.5 670.3,33.7 671.6,33.9 672.9,34.2 674.2,34.5 675.6,34.8 676.9,35.1 678.2,35.4" fill="none" stroke="#ff0000" stroke-width="1.1" stroke-dasharray="2.6,1.4" clip-path="url(#cc)" stroke-linejoin="round" />
<path d="M497.4,50.8 498.6,50.1 499.7,49.3 500.9,48.6 502.1,47.8 503.3,47.1 504.5,46.5 505.7,46 506.9,45.6 508.1,45.3 509.4,45 510.6,44.8 511.9,44.7 513.1,44.6 514.3,44.6 515.6,44.7 516.9,44.9 518.2,45.2 519.5,45.6 520.7,46 522,46.5 523.1,47 524.2,47.5 525.3,48 526.4,48.6 527.5,49.3 528.6,50 529.7,50.8 530.6,51.5 531.6,52.3 532.5,53.1 533.5,54 534.5,54.9 535.5,55.9 536.5,56.8 537.5,57.8 538.4,58.8 539.3,59.7 540.2,60.6 541,61.4 542,62.4 542.9,63.4 543.7,64.4 544.5,65.4 545.3,66.3 546.2,67.3 547,68.2 547.9,69.1 548.7,70.1 549.6,71 550.4,71.9 551.3,72.8 552.2,73.7 553.1,74.5 554.1,75.4 555.1,76.3 556.2,77.2 557.2,78 558.2,78.8 559.3,79.6 560.5,80.4 561.7,81.2 562.9,81.9 564.1,82.6 565.4,83.3 566.5,83.9 567.6,84.4 568.7,84.9 569.9,85.5 571,86 572.2,86.4 573.3,86.9 574.7,87.4 576,87.9 577.3,88.4 578.6,88.8 580,89.2 581.3,89.5 582.5,89.7 583.9,90 585.2,90.2 586.5,90.4 587.8,90.6 M587.8,90.6 589.1,90.4 590.4,90.2 591.7,90 593.1,89.7 594.3,89.5 595.6,89.2 597,88.8 598.3,88.4 599.6,87.9 600.9,87.4 602.3,86.9 603.4,86.4 604.6,86 605.7,85.5 606.9,84.9 608,84.4 609.1,83.9 610.2,83.3 611.5,82.6 612.7,81.9 613.9,81.2 615.1,80.4 616.3,79.6 617.4,78.8 618.4,78 619.4,77.2 620.5,76.3 621.5,75.4 622.5,74.5 623.4,73.7 624.3,72.8 625.2,71.9 626,71 626.9,70.1 627.7,69.1 628.6,68.2 629.4,67.3 630.3,66.3 631.1,65.4 631.9,64.4 632.7,63.4 633.6,62.4 634.6,61.4 635.4,60.6 636.3,59.7 637.2,58.8 638.1,57.8 639.1,56.8 640.1,55.9 641.1,54.9 642.1,54 643.1,53.1 644,52.3 645,51.5 645.9,50.8 647,50 648.1,49.3 649.2,48.6 650.3,48 651.4,47.5 652.5,47 653.6,46.5 654.9,46 656.1,45.6 657.4,45.2 658.7,44.9 660,44.7 661.3,44.6 662.5,44.6 663.7,44.7 665,44.8 666.2,45 667.5,45.3 668.7,45.6 669.9,46 671.1,46.5 672.3,47.1 673.5,47.8 674.7,48.6 675.9,49.3 677,50.1 678.2,50.8" fill="none" stroke="#ff0000" stroke-width="1.1" stroke-dasharray="2.6,1.4" clip-path="url(#cc)" stroke-linejoin="round" />
<path d="M497.9,169.8 499,170.6 500.1,171.4 501.1,172.2 502.2,173 503.3,173.7 504.4,174.4 505.7,175.1 507,175.8 508.3,176.4 509.6,176.9 510.8,177.1 512.4,177.1 513.9,176.8 515.4,176.2 516.3,175.6 517.3,174.9 518.2,174.1 519.1,173.1 520,172.1 520.9,171.1 521.6,170.2 522.4,169.3 523.1,168.3 523.8,167.3 524.5,166.3 525.2,165.2 525.9,164.2 526.6,163.1 527.3,162 528,160.9 528.6,159.9 529.3,158.8 529.9,157.6 530.6,156.5 531.2,155.4 531.9,154.3 532.5,153.1 533.1,152 533.8,150.9 534.4,149.8 535.1,148.8 535.7,147.7 536.4,146.7 537,145.6 537.7,144.6 538.3,143.5 539,142.4 539.6,141.3 540.3,140.2 540.9,139.1 541.6,138 542.3,136.9 542.9,135.7 543.6,134.5 544.3,133.4 545,132.2 545.6,131.1 546.3,130 546.9,128.9 547.5,127.9 548,127 548.8,125.7 549.4,124.5 550,123.4 550.7,122.2 551.4,121 552,120.1 552.6,119.1 553.2,118.1 553.9,117.1 554.6,116.1 555.3,115.1 556,114.1 556.7,113 557.5,112 558.2,111 559,110 559.7,109 560.5,108 561.3,107 562.1,105.9 562.9,104.9 563.8,104 564.6,103 565.4,102.1 566.3,101.3 567.4,100.4 568.5,99.5 569.6,98.6 570.7,97.8 571.9,97.1 573,96.4 574,95.7 575,95.1 576.3,94.3 577.5,93.6 578.7,93 580,92.4 581.2,92 582.4,91.7 583.8,91.5 585.1,91.3 586.5,91 587.8,90.8 M587.8,90.8 589.1,91 590.5,91.3 591.8,91.5 593.2,91.7 594.4,92 595.6,92.4 596.9,93 598.1,93.6 599.3,94.3 600.6,95.1 601.6,95.7 602.6,96.4 603.7,97.1 604.9,97.8 606,98.6 607.1,99.5 608.2,100.4 609.3,101.3 610.2,102.1 611,103 611.8,104 612.7,104.9 613.5,105.9 614.3,107 615.1,108 615.9,109 616.6,110 617.4,111 618.1,112 618.9,113 619.6,114.1 620.3,115.1 621,116.1 621.7,117.1 622.4,118.1 623,119.1 623.6,120.1 624.2,121 624.9,122.2 625.6,123.4 626.2,124.5 626.8,125.7 627.6,127 628.1,127.9 628.7,128.9 629.3,130 630,131.1 630.6,132.2 631.3,133.4 632,134.5 632.7,135.7 633.3,136.9 634,138 634.7,139.1 635.3,140.2 636,141.3 636.6,142.4 637.3,143.5 637.9,144.6 638.6,145.6 639.2,146.7 639.9,147.7 640.5,148.8 641.2,149.8 641.8,150.9 642.5,152 643.1,153.1 643.7,154.3 644.4,155.4 645,156.5 645.7,157.6 646.3,158.8 647,159.9 647.6,160.9 648.3,162 649,163.1 649.7,164.2 650.4,165.2 651.1,166.3 651.8,167.3 652.5,168.3 653.2,169.3 654,170.2 654.7,171.1 655.6,172.1 656.5,173.1 657.4,174.1 658.3,174.9 659.3,175.6 660.2,176.2 661.7,176.8 663.2,177.1 664.8,177.1 666,176.9 667.3,176.4 668.6,175.8 669.9,175.1 671.2,174.4 672.3,173.7 673.4,173 674.5,172.2 675.5,171.4 676.6,170.6 677.7,169.8" fill="none" stroke="#ff0000" stroke-width="1.1" stroke-dasharray="2.6,1.4" clip-path="url(#cc)" stroke-linejoin="round" />
<path d="M503,194 504.2,193.6 505.4,193.2 506.6,192.8 507.8,192.4 509,192 510.2,191.6 511.5,191.1 512.7,190.7 514,190.3 515.4,190 516.6,189.8 517.9,189.7 519.2,189.7 520.6,189.7 521.9,189.7 523.3,189.6 524.6,189.5 525.9,189.3 527.2,189.1 528.5,188.9 529.8,188.6 531.1,188.3 532.4,188 533.8,187.7 535,187.4 536.2,187 537.5,186.6 538.7,186.2 540,185.8 541.3,185.4 542.5,185 543.8,184.5 545,184.1 546.2,183.7 547.3,183.2 548.5,182.7 549.6,182.2 550.7,181.7 551.9,181.2 553,180.8 554.1,180.4 555.3,180 556.6,179.6 557.9,179.3 559.1,179 560.4,178.8 561.7,178.6 563,178.4 564.3,178.2 565.6,178.1 566.9,178 568.2,178 569.4,178 570.7,178.1 572,178.1 573.3,178.2 574.6,178.3 575.9,178.3 577.2,178.3 578.5,178.3 579.8,178.3 581.1,178.4 582.5,178.4 583.8,178.4 585.1,178.4 586.5,178.4 587.8,178.4 589.1,178.4 590.5,178.4 591.8,178.4 593.1,178.4 594.5,178.4 595.8,178.3 597.1,178.3 598.4,178.3 599.7,178.3 601,178.3 602.3,178.2 603.6,178.1 604.9,178.1 606.2,178 607.4,178 608.7,178 610,178.1 611.3,178.2 612.6,178.4 613.9,178.6 615.2,178.8 616.5,179 617.7,179.3 619,179.6 620.3,180 621.5,180.4 622.6,180.8 623.7,181.2 624.9,181.7 626,182.2 627.1,182.7 628.3,183.2 629.4,183.7 630.6,184.1 631.8,184.5 633.1,185 634.3,185.4 635.6,185.8 636.9,186.2 638.1,186.6 639.4,187 640.6,187.4 641.8,187.7 643.2,188 644.5,188.3 645.8,188.6 647.1,188.9 648.4,189.1 649.7,189.3 651,189.5 652.3,189.6 653.7,189.7 655,189.7 656.4,189.7 657.7,189.7 659,189.8 660.2,190 661.6,190.3 662.9,190.7 664.1,191.1 665.4,191.6 666.6,192 667.8,192.4 669,192.8 670.2,193.2 671.4,193.6 672.6,194" fill="none" stroke="#ff0000" stroke-width="1.1" stroke-dasharray="2.6,1.4" clip-path="url(#cc)" stroke-linejoin="round" />
<rect x="497.5" y="0.5" width="181" height="191" fill="none" stroke="#505050" stroke-width="1"/>
<line x1="497.2" y1="191.5" x2="497.2" y2="194.5" stroke="#333" stroke-width="0.8"/>
<text x="497.2" y="202" font-size="7.4" text-anchor="middle" fill="#111" >−0.10</text>
<line x1="542.5" y1="191.5" x2="542.5" y2="194.5" stroke="#333" stroke-width="0.8"/>
<text x="542.5" y="202" font-size="7.4" text-anchor="middle" fill="#111" >−0.05</text>
<line x1="587.8" y1="191.5" x2="587.8" y2="194.5" stroke="#333" stroke-width="0.8"/>
<text x="587.8" y="202" font-size="7.4" text-anchor="middle" fill="#111" >0.00</text>
<line x1="633.1" y1="191.5" x2="633.1" y2="194.5" stroke="#333" stroke-width="0.8"/>
<text x="633.1" y="202" font-size="7.4" text-anchor="middle" fill="#111" >0.05</text>
<line x1="678.4" y1="191.5" x2="678.4" y2="194.5" stroke="#333" stroke-width="0.8"/>
<text x="678.4" y="202" font-size="7.4" text-anchor="middle" fill="#111" >0.10</text>
<line x1="494.3" y1="23" x2="497.5" y2="23" stroke="#333" stroke-width="0.8"/>
<text x="493.5" y="25.8" font-size="7.4" text-anchor="end" fill="#111" >0.2</text>
<line x1="494.3" y1="53.8" x2="497.5" y2="53.8" stroke="#333" stroke-width="0.8"/>
<text x="493.5" y="56.6" font-size="7.4" text-anchor="end" fill="#111" >0.1</text>
<line x1="494.3" y1="84.6" x2="497.5" y2="84.6" stroke="#333" stroke-width="0.8"/>
<text x="493.5" y="87.4" font-size="7.4" text-anchor="end" fill="#111" >0.0</text>
<line x1="494.3" y1="115.4" x2="497.5" y2="115.4" stroke="#333" stroke-width="0.8"/>
<text x="493.5" y="118.2" font-size="7.4" text-anchor="end" fill="#111" >−0.1</text>
<line x1="494.3" y1="146.2" x2="497.5" y2="146.2" stroke="#333" stroke-width="0.8"/>
<text x="493.5" y="149" font-size="7.4" text-anchor="end" fill="#111" >−0.2</text>
<line x1="494.3" y1="177" x2="497.5" y2="177" stroke="#333" stroke-width="0.8"/>
<text x="493.5" y="179.8" font-size="7.4" text-anchor="end" fill="#111" >−0.3</text>
<line x1="266" y1="334.4" x2="451.5" y2="334.4" stroke="#c8c8c8" stroke-width="0.9"/>
<line x1="358.4" y1="239.5" x2="358.4" y2="429.3" stroke="#999" stroke-width="0.8" stroke-dasharray="2,1.2"/>
<path d="M278,231 278.7,232.1 279.3,233.1 280,234.1 280.6,235.1 281.3,236.1 282,237.2 282.8,238.4 283.7,239.6 284.3,240.4 284.9,241.3 285.6,242.1 286.3,243.1 287,244 287.8,245 288.5,246 289.3,247 290.1,248 291,249.1 291.8,250.1 292.7,251.2 293.5,252.3 294.4,253.3 295.2,254.4 296,255.4 296.9,256.4 297.7,257.4 298.5,258.4 299.2,259.4 300,260.3 300.8,261.3 301.6,262.3 302.4,263.2 303.2,264.2 303.9,265.1 304.7,266.1 305.5,267 306.2,267.9 307,268.8 307.7,269.7 308.5,270.6 309.3,271.5 310,272.4 310.8,273.3 311.5,274.2 312.3,275.1 313.1,276 313.9,276.9 314.7,277.9 315.5,278.8 316.4,279.7 317.2,280.7 318,281.6 318.8,282.5 319.6,283.5 320.4,284.4 321.3,285.3 322.1,286.2 322.9,287 323.8,287.9 324.6,288.8 325.4,289.6 326.3,290.4 327.2,291.2 328.1,292.1 329,292.9 330,293.7 330.9,294.5 331.8,295.3 332.7,296.1 333.7,296.9 334.6,297.6 335.6,298.3 336.5,299 337.5,299.7 338.4,300.4 339.4,301 340.5,301.7 341.6,302.3 342.7,303 343.9,303.6 345,304.2 346.2,304.8 347.3,305.3 348.4,305.8 349.5,306.3 350.6,306.7 351.6,307.1 352.5,307.5 353.8,308 355,308.4 356.2,308.7 357.4,308.9 358.9,309.2 359.9,309.3 360.9,309.4 362.1,309.5 363.3,309.6 364.6,309.7 365.9,309.7 367.2,309.8 368.6,309.8 370,309.9 371.3,309.9 372.7,310 374,310 375.3,310.1 376.5,310.1 377.7,310.2 379.1,310.3 380.4,310.4 381.6,310.5 382.9,310.6 384.1,310.7 385.3,310.8 386.5,310.9 387.8,311 389,311.2 390.3,311.4 391.5,311.6 392.7,311.8 394,312.1 395.2,312.4 396.4,312.7 397.7,313 399,313.3 400.2,313.6 401.5,313.9 402.8,314.2 404.1,314.5 405.4,314.7 406.6,314.9 407.8,315.1 409,315.3 410.2,315.5 411.4,315.7 412.6,315.9 413.9,316.1 415.1,316.2 416.4,316.3 417.6,316.4 418.9,316.5 420.3,316.5 421.6,316.5 423,316.5 424.1,316.4 425.3,316.3 426.5,316.2 427.8,316 429.1,315.8 430.4,315.5 431.8,315.3 433.1,315 434.5,314.7 435.9,314.4 437.3,314.1 438.7,313.8 440,313.5 441.3,313.2 442.6,312.8 443.8,312.5 445,312.2 446.2,312 447.2,311.7 448.2,311.5 449.1,311.2 450,311.1 450.7,310.9 452.4,310.5 453.7,310.3 455,310" fill="none" stroke="#0000ff" stroke-width="1.7" clip-path="url(#ce)" stroke-linejoin="round" />
<path d="M269,231 269.6,232 270.1,233 270.7,234 271.2,235 271.8,236 272.4,237.1 273.1,238.3 274,239.6 274.5,240.3 275,241 275.5,241.8 276.1,242.6 276.7,243.4 277.3,244.3 278,245.2 278.7,246.1 279.4,247 280.1,248 280.9,249 281.7,250 282.5,251.1 283.3,252.1 284.1,253.2 285,254.3 285.8,255.3 286.7,256.4 287.5,257.5 288.4,258.6 289.2,259.7 290.1,260.8 290.9,261.8 291.8,262.9 292.6,264 293.4,265 294.2,266 295,267 295.8,268 296.6,269 297.3,269.9 298,270.8 298.7,271.7 299.4,272.6 300,273.4 300.9,274.6 301.7,275.7 302.6,276.7 303.4,277.8 304.2,278.8 304.9,279.8 305.7,280.8 306.5,281.8 307.2,282.7 307.9,283.7 308.7,284.6 309.4,285.6 310.1,286.5 310.8,287.5 311.6,288.4 312.3,289.4 313.1,290.4 313.8,291.4 314.6,292.3 315.3,293.3 316.1,294.3 316.9,295.3 317.7,296.3 318.4,297.3 319.2,298.3 320,299.3 320.7,300.3 321.5,301.3 322.2,302.3 322.9,303.2 323.7,304.1 324.3,305 325,305.9 325.7,306.7 326.3,307.5 327.2,308.7 328.1,309.8 328.9,310.9 329.7,311.9 330.5,312.9 331.3,313.8 332.1,314.8 333,315.8 333.9,316.7 334.8,317.7 335.7,318.6 336.6,319.6 337.5,320.5 338.5,321.4 339.4,322.3 340.4,323.1 341.4,323.9 342.4,324.7 343.5,325.5 344.6,326.2 345.7,326.9 346.8,327.5 347.9,328.2 349,328.8 350.1,329.5 351.2,330.1 352.2,330.8 353.2,331.4 354.3,332 355.3,332.6 356.4,333.2 357.6,333.8 358.9,334.5 359.8,335 360.8,335.4 361.7,336 362.7,336.5 363.8,337 364.8,337.5 365.9,338.1 367,338.6 368.2,339.2 369.3,339.7 370.5,340.2 371.7,340.7 372.9,341.2 374.1,341.7 375.3,342.1 376.5,342.5 377.7,342.9 378.8,343.2 379.9,343.5 381.1,343.8 382.3,344 383.5,344.2 384.7,344.4 385.9,344.6 387.2,344.8 388.4,345 389.7,345.1 390.9,345.3 392.2,345.4 393.4,345.6 394.7,345.7 395.9,345.8 397.1,346 398.3,346.1 399.5,346.3 400.7,346.4 401.8,346.5 402.9,346.7 404.3,346.9 405.6,347.1 406.9,347.2 408.2,347.4 409.5,347.6 410.7,347.7 412,347.9 413.2,348.1 414.5,348.2 415.7,348.4 416.9,348.6 418.1,348.8 419.3,349 420.5,349.2 421.8,349.5 423.1,349.7 424.4,350 425.6,350.2 426.9,350.5 428.2,350.8 429.4,351.1 430.6,351.4 431.9,351.8 433.1,352.1 434.4,352.5 435.6,352.9 436.8,353.3 438,353.8 439.3,354.3 440.6,354.8 441.9,355.3 443.1,355.9 444.4,356.4 445.6,356.9 446.7,357.5 447.9,358 448.9,358.4 449.8,358.8 450.7,359.2 452.3,359.9 453.7,360.4 455,361" fill="none" stroke="#0000ff" stroke-width="1.7" clip-path="url(#ce)" stroke-linejoin="round" />
<path d="M288,433 288.8,432 289.5,431 290.3,429.9 291.3,428.5 291.7,427.9 292.2,427.3 292.6,426.6 293.2,425.9 293.7,425.2 294.3,424.4 294.8,423.6 295.5,422.7 296.1,421.8 296.7,420.9 297.4,420 298.1,419 298.8,418 299.5,417 300.3,415.9 301,414.9 301.8,413.8 302.6,412.7 303.4,411.6 304.2,410.4 305,409.3 305.8,408.2 306.6,407 307.5,405.8 308.3,404.7 309.1,403.5 309.9,402.3 310.8,401.2 311.6,400 312.2,399.2 312.8,398.3 313.4,397.5 314,396.6 314.7,395.6 315.3,394.7 316,393.7 316.7,392.7 317.4,391.7 318.2,390.7 318.9,389.6 319.6,388.6 320.4,387.5 321.2,386.4 321.9,385.3 322.7,384.2 323.5,383 324.3,381.9 325.1,380.7 325.9,379.6 326.7,378.4 327.6,377.2 328.4,376.1 329.2,374.9 330,373.7 330.8,372.5 331.7,371.4 332.5,370.2 333.3,369 334.1,367.8 334.9,366.7 335.8,365.5 336.6,364.4 337.4,363.2 338.2,362.1 339,361 339.7,359.9 340.5,358.8 341.3,357.7 342,356.6 342.8,355.6 343.5,354.6 344.2,353.5 344.9,352.6 345.6,351.6 346.3,350.6 347,349.7 347.6,348.8 348.2,348 348.8,347.1 349.4,346.3 350,345.5 350.6,344.8 351.1,344 351.6,343.4 352.1,342.7 352.6,342.1 353,341.5 353.4,341 353.8,340.5 354.2,340 355.4,338.6 356.3,337.5 357.1,336.6 357.9,335.8 358.9,334.8 359.7,334 360.4,333.2 361.3,332.3 362.1,331.4 363,330.5 363.9,329.6 364.8,328.8 365.8,327.9 366.7,327.2 367.7,326.5 368.7,325.9 369.8,325.3 370.9,324.7 371.9,324.2 373.1,323.8 374.2,323.3 375.3,322.9 376.5,322.6 377.7,322.2 378.9,321.9 380.1,321.6 381.3,321.3 382.5,321.1 383.8,320.9 385.1,320.7 386.4,320.6 387.7,320.4 389,320.3 390.3,320.2 391.5,320.1 392.7,320 394,320 395.2,319.9 396.4,319.9 397.7,319.9 399,319.8 400.2,319.9 401.5,319.9 402.8,320 404.1,320.1 405.4,320.2 406.5,320.3 407.7,320.5 408.9,320.7 410.1,321 411.3,321.3 412.5,321.6 413.7,321.9 414.9,322.2 416.1,322.5 417.3,322.8 418.5,323.1 419.6,323.3 420.8,323.6 421.9,323.8 423,324 424.3,324.2 425.6,324.4 426.9,324.6 428.1,324.8 429.4,325 430.6,325.1 431.8,325.3 433,325.3 434.3,325.3 435.6,325.3 436.8,325.2 438.1,325 439.5,324.8 440.9,324.5 442.3,324.2 443.6,323.9 445,323.6 446.3,323.2 447.5,322.9 448.7,322.6 449.8,322.4 450.7,322.2 452.3,321.9 453.7,321.7 455,321.5" fill="none" stroke="#0000ff" stroke-width="1.7" clip-path="url(#ce)" stroke-linejoin="round" />
<path d="M294.5,433 295.3,432 296,431 296.8,429.9 297.8,428.5 298.2,427.9 298.7,427.3 299.2,426.6 299.8,425.9 300.4,425.1 301,424.2 301.7,423.4 302.4,422.4 303.1,421.5 303.9,420.5 304.7,419.5 305.5,418.5 306.3,417.4 307.1,416.3 307.9,415.3 308.8,414.2 309.6,413.1 310.5,412 311.3,410.9 312.2,409.8 313,408.7 313.9,407.7 314.7,406.6 315.5,405.6 316.4,404.6 317.1,403.6 317.9,402.6 318.7,401.7 319.4,400.8 320.1,400 321,398.9 321.9,397.9 322.7,396.9 323.6,395.9 324.5,394.9 325.3,393.9 326.1,393 327,392 327.8,391.1 328.6,390.2 329.5,389.3 330.3,388.4 331.1,387.5 331.9,386.7 332.7,385.8 333.5,385 334.4,384.1 335.2,383.3 336.1,382.4 337.1,381.4 338,380.5 339,379.6 340,378.6 340.9,377.7 341.9,376.9 342.8,376 343.7,375.2 344.7,374.4 345.6,373.6 346.5,372.9 347.4,372.2 348.3,371.5 349.5,370.7 350.7,369.9 351.8,369.2 353,368.5 354.1,367.9 355.2,367.3 356.4,366.8 357.5,366.3 358.8,365.8 360,365.4 361.2,365 362.5,364.7 363.8,364.5 365.2,364.3 366.3,364.2 367.4,364.2 368.6,364.2 369.8,364.3 371,364.4 372.2,364.5 373.5,364.6 374.9,364.7 376.3,364.9 377.7,365 378.7,365.1 379.8,365.2 380.8,365.3 382,365.4 383.1,365.5 384.3,365.7 385.5,365.8 386.7,365.9 387.9,366.1 389.1,366.2 390.4,366.4 391.6,366.5 392.9,366.7 394.2,366.9 395.5,367 396.7,367.2 398,367.3 399.2,367.5 400.5,367.7 401.7,367.8 402.9,368 404.1,368.2 405.3,368.3 406.5,368.5 407.7,368.7 408.9,368.9 410.1,369 411.4,369.2 412.6,369.4 413.8,369.6 415,369.8 416.2,370 417.4,370.2 418.6,370.3 419.8,370.5 421,370.7 422.2,370.9 423.4,371.1 424.6,371.3 425.8,371.4 426.9,371.6 428.1,371.8 429.3,372 430.6,372.2 431.9,372.4 433.2,372.5 434.6,372.7 435.9,372.9 437.3,373.1 438.6,373.3 439.9,373.5 441.2,373.7 442.5,373.8 443.7,374 444.9,374.2 446.1,374.4 447.1,374.5 448.1,374.7 449.1,374.8 449.9,375 450.7,375.1 452.4,375.4 453.7,375.7 455,376" fill="none" stroke="#0000ff" stroke-width="1.7" clip-path="url(#ce)" stroke-linejoin="round" />
<path d="M286,232 286.8,233.1 287.5,234.1 288.3,235.1 289.1,236.2 289.9,237.2 290.7,238.4 291.6,239.6 292.2,240.5 292.9,241.4 293.6,242.4 294.3,243.4 295,244.4 295.7,245.4 296.5,246.5 297.2,247.6 298,248.7 298.8,249.8 299.6,250.9 300.3,251.9 301.1,253 301.9,254 302.6,255 303.4,256.1 304.2,257.1 305,258.1 305.8,259.1 306.6,260.1 307.3,261.1 308.1,262.1 308.9,263.1 309.7,264.1 310.6,265.1 311.4,266.1 312.2,267.1 313.1,268.1 313.9,269 314.7,269.9 315.4,270.8 316.2,271.7 317.1,272.7 317.9,273.6 318.7,274.5 319.5,275.5 320.4,276.4 321.2,277.3 322.1,278.2 322.9,279.1 323.8,280 324.6,280.9 325.5,281.8 326.3,282.6 327.2,283.5 328.1,284.4 329.1,285.4 330,286.3 330.9,287.2 331.9,288.1 332.8,289 333.8,289.9 334.7,290.7 335.7,291.5 336.6,292.3 337.5,293 338.5,293.7 339.4,294.4 340.6,295.2 341.8,295.9 342.9,296.6 344.1,297.2 345.3,297.7 346.4,298.3 347.6,298.7 348.7,299.2 349.9,299.6 351.2,300 352.4,300.3 353.6,300.6 354.8,300.8 356.1,301 357.4,301.2 358.9,301.4 360,301.5 361.1,301.6 362.3,301.7 363.5,301.7 364.8,301.7 366.1,301.8 367.4,301.8 368.8,301.8 370.1,301.8 371.5,301.8 372.8,301.9 374.1,301.9 375.3,301.9 376.5,302 377.7,302.1 379.1,302.2 380.3,302.4 381.6,302.5 382.8,302.6 384,302.8 385.2,303 386.4,303.2 387.6,303.4 388.9,303.6 390.3,303.9 391.4,304.2 392.5,304.4 393.7,304.8 394.8,305.2 396,305.6 397.3,306 398.5,306.4 399.8,306.8 401,307.2 402.3,307.7 403.5,308.1 404.8,308.4 406,308.8 407.1,309.1 408.3,309.3 409.4,309.6 410.5,309.7 411.8,309.8 413.1,309.9 414.3,309.9 415.5,309.8 416.6,309.7 417.8,309.6 419,309.4 420.2,309.3 421.6,309.1 423,308.9 424,308.8 425.1,308.6 426.3,308.4 427.5,308.3 428.8,308 430.1,307.8 431.4,307.6 432.8,307.3 434.2,307.1 435.6,306.8 437,306.6 438.4,306.3 439.8,306 441.1,305.8 442.4,305.5 443.7,305.3 444.9,305 446.1,304.8 447.2,304.6 448.2,304.4 449.1,304.2 450,304 450.7,303.9 452.4,303.6 453.7,303.3 455,303" fill="none" stroke="#ff0000" stroke-width="1.5" clip-path="url(#ce)" stroke-linejoin="round" />
<path d="M277,231 277.7,232 278.3,233.1 278.9,234 279.5,235 280.2,236.1 280.9,237.2 281.6,238.3 282.5,239.6 283,240.4 283.6,241.2 284.1,242 284.7,242.9 285.4,243.8 286,244.7 286.7,245.7 287.4,246.7 288.1,247.7 288.9,248.8 289.6,249.8 290.4,250.9 291.1,252 291.9,253 292.7,254.1 293.4,255.2 294.2,256.2 295,257.3 295.7,258.4 296.5,259.4 297.2,260.4 297.9,261.4 298.6,262.4 299.3,263.3 300,264.2 300.8,265.3 301.6,266.4 302.4,267.4 303.2,268.5 304,269.5 304.7,270.5 305.5,271.5 306.2,272.5 307,273.5 307.8,274.5 308.5,275.5 309.3,276.4 310,277.4 310.8,278.4 311.5,279.4 312.3,280.3 313.1,281.3 313.9,282.2 314.6,283.2 315.4,284.1 316.2,285.1 317,286 317.7,286.9 318.5,287.8 319.3,288.7 320.1,289.7 320.9,290.6 321.6,291.5 322.4,292.4 323.2,293.3 324,294.2 324.7,295.2 325.5,296.1 326.3,297 327.1,297.9 327.8,298.9 328.6,299.9 329.4,300.8 330.2,301.8 330.9,302.8 331.7,303.8 332.5,304.8 333.2,305.7 334,306.7 334.8,307.6 335.6,308.6 336.3,309.5 337.1,310.4 337.9,311.2 338.6,312 339.4,312.8 340.4,313.7 341.4,314.7 342.3,315.6 343.3,316.4 344.3,317.2 345.3,318 346.2,318.8 347.2,319.5 348.2,320.2 349.1,320.9 350.1,321.5 351.2,322.2 352.2,322.8 353.3,323.3 354.3,323.8 355.3,324.3 356.5,324.8 357.6,325.3 358.9,325.8 359.9,326.2 360.9,326.6 361.9,327.1 363,327.5 364.1,328 365.3,328.5 366.4,328.9 367.6,329.4 368.9,329.9 370.1,330.3 371.3,330.8 372.6,331.2 373.9,331.6 375.1,332 376.4,332.4 377.7,332.8 378.8,333.1 380,333.4 381.1,333.7 382.3,334 383.5,334.2 384.7,334.5 386,334.8 387.2,335 388.4,335.3 389.7,335.5 390.9,335.7 392.2,336 393.4,336.2 394.7,336.4 395.9,336.6 397.1,336.8 398.3,337 399.5,337.2 400.7,337.4 401.8,337.6 402.9,337.8 404.3,338 405.6,338.2 406.9,338.4 408.2,338.6 409.5,338.7 410.7,338.9 412,339 413.2,339.2 414.5,339.3 415.7,339.5 416.9,339.7 418.1,339.9 419.3,340.1 420.5,340.4 421.7,340.7 422.9,341 424.1,341.3 425.3,341.7 426.4,342 427.6,342.4 428.8,342.8 429.9,343.2 431,343.6 432.2,344 433.3,344.5 434.5,344.9 435.6,345.4 436.7,345.9 437.9,346.4 439,347 440.2,347.6 441.4,348.2 442.6,348.8 443.8,349.5 444.9,350.1 446,350.7 447.1,351.3 448.1,351.9 449,352.5 449.9,352.9 450.7,353.4 452,354.1 453,354.8 454,355.4 455,356" fill="none" stroke="#ff0000" stroke-width="1.5" clip-path="url(#ce)" stroke-linejoin="round" />
<path d="M283,433 283.8,432 284.6,431 285.4,429.9 286.5,428.5 286.9,427.9 287.4,427.3 287.9,426.6 288.5,425.9 289,425.1 289.6,424.3 290.2,423.5 290.9,422.6 291.5,421.7 292.2,420.8 292.9,419.8 293.7,418.8 294.4,417.8 295.2,416.8 296,415.7 296.8,414.6 297.6,413.5 298.4,412.4 299.2,411.3 300,410.1 300.9,409 301.7,407.8 302.5,406.6 303.4,405.5 304.2,404.3 305.1,403.1 305.9,401.9 306.8,400.7 307.6,399.5 308.2,398.7 308.8,397.8 309.4,396.9 310,396 310.7,395 311.3,394.1 312,393.1 312.7,392.1 313.4,391 314.1,390 314.8,388.9 315.6,387.9 316.3,386.8 317,385.7 317.8,384.5 318.6,383.4 319.3,382.3 320.1,381.1 320.9,379.9 321.6,378.8 322.4,377.6 323.2,376.4 324,375.2 324.8,374 325.6,372.9 326.4,371.7 327.2,370.5 327.9,369.3 328.7,368.1 329.5,367 330.3,365.8 331.1,364.6 331.8,363.5 332.6,362.3 333.3,361.2 334.1,360.1 334.8,359 335.6,357.9 336.3,356.8 337,355.7 337.7,354.7 338.4,353.6 339.1,352.6 339.7,351.6 340.4,350.6 341,349.7 341.6,348.8 342.2,347.9 342.8,347 343.4,346.2 344,345.4 344.5,344.6 345,343.8 345.5,343.1 346,342.4 346.5,341.7 346.9,341.1 347.3,340.5 347.7,340 348.8,338.5 349.7,337.2 350.5,336.1 351.2,335.2 351.9,334.3 352.7,333.4 353.5,332.5 354.5,331.5 355.6,330.6 356.6,329.7 357.7,328.8 358.9,327.8 359.8,327 360.7,326.2 361.6,325.3 362.6,324.4 363.6,323.5 364.6,322.6 365.6,321.8 366.6,320.9 367.7,320.2 368.7,319.5 369.8,318.9 370.9,318.3 372,317.7 373.1,317.1 374.2,316.6 375.3,316.1 376.5,315.6 377.7,315.2 378.9,314.8 380.1,314.5 381.3,314.1 382.6,313.8 383.9,313.6 385.2,313.3 386.5,313.1 387.7,313 389,312.8 390.3,312.7 391.6,312.6 392.8,312.6 394.1,312.6 395.3,312.6 396.6,312.6 397.9,312.7 399.1,312.8 400.4,312.9 401.6,313.1 402.9,313.2 404.2,313.4 405.4,313.6 406.7,313.8 408,314.1 409.3,314.4 410.6,314.7 411.8,315 413.1,315.2 414.3,315.5 415.5,315.7 416.8,315.9 418,316.1 419.2,316.4 420.3,316.6 421.5,316.7 422.8,316.9 424.1,317 425.6,317 426.6,317 427.6,316.9 428.8,316.9 430,316.8 431.3,316.7 432.6,316.5 433.9,316.4 435.3,316.2 436.7,316 438.1,315.9 439.4,315.7 440.8,315.5 442.2,315.3 443.5,315.1 444.7,314.9 445.9,314.7 447.1,314.5 448.1,314.3 449.1,314.2 449.9,314 450.7,313.9 452.4,313.6 453.7,313.3 455,313" fill="none" stroke="#ff0000" stroke-width="1.5" clip-path="url(#ce)" stroke-linejoin="round" />
<path d="M290,433 290.8,432 291.5,431 292.4,429.9 293.4,428.5 293.8,427.9 294.3,427.3 294.8,426.6 295.4,425.8 296,425 296.6,424.1 297.2,423.2 297.9,422.3 298.6,421.3 299.3,420.3 300.1,419.3 300.8,418.3 301.6,417.2 302.4,416.1 303.2,415 304,413.9 304.8,412.7 305.6,411.6 306.5,410.5 307.3,409.4 308.1,408.2 308.9,407.1 309.7,406.1 310.5,405 311.3,403.9 312,402.9 312.8,401.9 313.5,400.9 314.2,400 315,399 315.7,398 316.5,396.9 317.3,395.9 318,394.9 318.8,393.9 319.5,392.9 320.3,391.9 321,390.9 321.8,389.9 322.5,388.9 323.3,388 324,387 324.8,386.1 325.5,385.1 326.2,384.2 327,383.3 327.7,382.4 328.4,381.5 329.1,380.6 329.9,379.8 330.6,378.9 331.3,378.1 332.2,377.1 333.1,376.1 334,375.1 334.9,374.1 335.7,373.2 336.6,372.2 337.5,371.3 338.3,370.4 339.2,369.6 340.1,368.7 340.9,367.9 341.8,367.1 342.7,366.3 343.5,365.6 344.4,364.9 345.5,364.1 346.5,363.3 347.5,362.6 348.6,361.9 349.6,361.2 350.7,360.6 351.7,360 352.8,359.4 353.8,358.9 354.9,358.4 356.2,357.9 357.4,357.4 358.7,356.9 359.9,356.6 361.2,356.2 362.5,355.9 363.9,355.7 365.2,355.5 366.4,355.4 367.5,355.3 368.7,355.3 369.9,355.3 371.1,355.4 372.3,355.5 373.6,355.6 374.9,355.7 376.3,355.9 377.7,356 378.7,356.1 379.8,356.2 380.8,356.4 382,356.5 383.1,356.7 384.3,356.8 385.5,357 386.7,357.2 387.9,357.4 389.1,357.6 390.4,357.8 391.7,358 392.9,358.2 394.2,358.4 395.5,358.6 396.7,358.9 398,359.1 399.2,359.3 400.5,359.5 401.7,359.8 402.9,360 404.1,360.2 405.3,360.5 406.5,360.7 407.7,361 408.9,361.2 410.1,361.5 411.4,361.8 412.6,362.1 413.8,362.3 415,362.6 416.2,362.9 417.4,363.2 418.6,363.4 419.8,363.7 421,364 422.2,364.3 423.4,364.5 424.6,364.8 425.7,365 426.9,365.3 428.1,365.5 429.3,365.7 430.6,366 431.9,366.2 433.2,366.4 434.6,366.7 435.9,366.9 437.3,367.1 438.6,367.4 439.9,367.6 441.2,367.8 442.5,368 443.7,368.2 444.9,368.4 446,368.6 447.1,368.7 448.1,368.9 449.1,369 449.9,369.2 450.7,369.3 452.4,369.6 453.7,369.8 455,370" fill="none" stroke="#ff0000" stroke-width="1.5" clip-path="url(#ce)" stroke-linejoin="round" />
<path d="M279,231 279.7,232.1 280.3,233.1 281,234.1 281.6,235.1 282.3,236.1 283,237.2 283.8,238.4 284.7,239.6 285.3,240.4 285.9,241.3 286.6,242.1 287.3,243.1 288,244 288.8,245 289.5,246 290.3,247 291.1,248 292,249.1 292.8,250.1 293.7,251.2 294.5,252.3 295.4,253.3 296.2,254.4 297,255.4 297.9,256.4 298.7,257.4 299.5,258.4 300.2,259.4 301,260.3 301.8,261.3 302.6,262.3 303.4,263.2 304.2,264.2 304.9,265.1 305.7,266 306.5,267 307.2,267.9 308,268.8 308.7,269.7 309.5,270.6 310.3,271.5 311,272.4 311.8,273.3 312.5,274.2 313.3,275.1 314.1,276 314.9,276.9 315.7,277.9 316.5,278.8 317.4,279.8 318.2,280.7 319,281.7 319.8,282.6 320.6,283.5 321.5,284.5 322.3,285.4 323.1,286.3 324,287.2 324.8,288.1 325.6,288.9 326.5,289.8 327.3,290.6 328.3,291.5 329.2,292.4 330.2,293.3 331.1,294.2 332.1,295.1 333,296 334,296.8 335,297.6 335.9,298.4 336.9,299.2 337.9,300 338.9,300.7 339.9,301.4 341,302.2 342.2,302.9 343.4,303.6 344.6,304.3 345.8,305 347,305.6 348.2,306.2 349.3,306.8 350.4,307.3 351.5,307.8 352.5,308.2 353.8,308.7 355,309.1 356.2,309.5 357.4,309.7 358.9,310 359.9,310.1 360.9,310.3 362.1,310.3 363.3,310.4 364.6,310.5 365.9,310.5 367.2,310.6 368.6,310.6 370,310.7 371.3,310.7 372.7,310.7 374,310.8 375.3,310.8 376.5,310.9 377.7,311 379.1,311.1 380.4,311.2 381.6,311.3 382.9,311.4 384.1,311.6 385.3,311.7 386.5,311.9 387.8,312 389,312.3 390.3,312.5 391.4,312.8 392.6,313.1 393.8,313.4 395,313.7 396.2,314.1 397.4,314.5 398.6,314.9 399.8,315.3 400.9,315.7 402.1,316.1 403.2,316.4 404.3,316.7 405.4,317 406.7,317.3 408,317.6 409.2,317.9 410.4,318.2 411.7,318.4 412.9,318.7 414.2,318.8 415.5,319 416.6,319.1 417.7,319.2 418.9,319.3 420,319.3 421.2,319.4 422.4,319.4 423.7,319.4 424.9,319.4 426.1,319.3 427.4,319.2 428.7,319.1 430,319 431.2,318.8 432.4,318.6 433.6,318.4 435,318.1 436.3,317.8 437.7,317.4 439.1,317.1 440.4,316.7 441.8,316.3 443.1,316 444.4,315.6 445.6,315.3 446.8,314.9 447.9,314.6 449,314.3 449.9,314.1 450.7,313.9 452.4,313.5 453.7,313.3 455,313" fill="none" stroke="#ff0000" stroke-width="1.1" stroke-dasharray="2.6,1.4" clip-path="url(#ce)" stroke-linejoin="round" />
<path d="M270,231 270.6,232 271.1,233 271.7,234 272.2,235 272.8,236 273.4,237.1 274.1,238.3 275,239.6 275.5,240.3 276,241 276.5,241.8 277.1,242.6 277.7,243.4 278.3,244.3 279,245.2 279.7,246.1 280.4,247 281.1,248 281.9,249 282.7,250 283.5,251.1 284.3,252.1 285.1,253.2 286,254.3 286.8,255.3 287.7,256.4 288.5,257.5 289.4,258.6 290.2,259.7 291.1,260.8 291.9,261.8 292.8,262.9 293.6,264 294.4,265 295.2,266 296,267 296.8,268 297.6,269 298.3,269.9 299,270.8 299.7,271.7 300.4,272.6 301,273.4 301.9,274.6 302.7,275.7 303.6,276.7 304.4,277.8 305.2,278.8 305.9,279.8 306.7,280.8 307.5,281.8 308.2,282.7 308.9,283.7 309.7,284.6 310.4,285.6 311.1,286.5 311.8,287.5 312.6,288.4 313.3,289.4 314.1,290.4 314.8,291.4 315.6,292.3 316.3,293.3 317.1,294.3 317.9,295.3 318.7,296.3 319.4,297.3 320.2,298.3 321,299.3 321.7,300.3 322.5,301.3 323.2,302.2 323.9,303.2 324.7,304.1 325.4,305 326,305.9 326.7,306.7 327.3,307.5 328.1,308.6 328.9,309.6 329.7,310.6 330.4,311.5 331.1,312.4 331.8,313.3 332.5,314.2 333.2,315.1 334,316 334.8,317 335.7,317.9 336.5,318.9 337.4,319.9 338.3,320.9 339.2,321.8 340.1,322.7 341,323.6 341.9,324.4 342.9,325.2 343.9,326 344.9,326.7 345.9,327.4 347,328 348,328.7 349,329.3 350.1,330 351.2,330.7 352.2,331.3 353.2,331.9 354.2,332.5 355.3,333.1 356.4,333.7 357.6,334.3 358.9,335 359.8,335.5 360.8,335.9 361.7,336.5 362.7,337 363.8,337.5 364.8,338 365.9,338.6 367,339.1 368.2,339.7 369.3,340.2 370.5,340.7 371.7,341.2 372.9,341.7 374.1,342.2 375.3,342.6 376.5,343 377.7,343.4 378.8,343.7 379.9,344 381.1,344.3 382.3,344.5 383.5,344.7 384.7,345 385.9,345.2 387.2,345.3 388.4,345.5 389.7,345.7 390.9,345.8 392.2,346 393.4,346.1 394.7,346.3 395.9,346.4 397.1,346.5 398.3,346.7 399.5,346.8 400.7,347 401.8,347.1 402.9,347.3 404.3,347.5 405.6,347.7 406.9,347.9 408.2,348.1 409.5,348.2 410.7,348.4 412,348.6 413.2,348.8 414.5,348.9 415.7,349.1 416.9,349.3 418.1,349.5 419.3,349.8 420.5,350 421.7,350.3 422.9,350.5 424.1,350.8 425.3,351 426.4,351.3 427.6,351.6 428.7,351.9 429.9,352.2 431,352.5 432.2,352.9 433.3,353.2 434.5,353.6 435.6,354 436.8,354.5 438,355 439.3,355.5 440.6,356.1 441.9,356.7 443.1,357.3 444.4,357.9 445.6,358.5 446.7,359.1 447.9,359.6 448.9,360.1 449.8,360.6 450.7,361 452.3,361.8 453.7,362.4 455,363" fill="none" stroke="#ff0000" stroke-width="1.1" stroke-dasharray="2.6,1.4" clip-path="url(#ce)" stroke-linejoin="round" />
<path d="M289,433 289.8,432 290.5,431 291.3,429.9 292.3,428.5 292.7,427.9 293.2,427.3 293.6,426.6 294.2,425.9 294.7,425.2 295.3,424.4 295.8,423.6 296.5,422.7 297.1,421.8 297.7,420.9 298.4,420 299.1,419 299.8,418 300.6,417 301.3,415.9 302.1,414.9 302.8,413.8 303.6,412.7 304.4,411.6 305.2,410.4 306,409.3 306.8,408.1 307.6,407 308.5,405.8 309.3,404.7 310.1,403.5 310.9,402.3 311.8,401.2 312.6,400 313.2,399.2 313.8,398.3 314.4,397.4 315.1,396.5 315.7,395.6 316.4,394.6 317.1,393.6 317.8,392.6 318.5,391.6 319.2,390.6 320,389.5 320.7,388.4 321.5,387.3 322.2,386.2 323,385.1 323.8,384 324.6,382.8 325.4,381.7 326.2,380.5 327,379.3 327.8,378.1 328.7,377 329.5,375.8 330.3,374.6 331.1,373.4 332,372.2 332.8,371 333.6,369.8 334.4,368.7 335.3,367.5 336.1,366.3 336.9,365.1 337.7,364 338.5,362.8 339.3,361.7 340.1,360.6 340.9,359.5 341.6,358.4 342.4,357.3 343.1,356.2 343.9,355.2 344.6,354.2 345.3,353.2 346,352.2 346.7,351.2 347.4,350.3 348,349.4 348.7,348.5 349.3,347.7 349.9,346.8 350.5,346 351,345.3 351.6,344.6 352.1,343.9 352.6,343.2 353.1,342.6 353.5,342 353.9,341.5 354.3,341 354.7,340.5 355.9,339.1 356.8,338.1 357.6,337.3 358.4,336.5 359.4,335.5 360.2,334.6 361,333.7 361.9,332.7 362.8,331.7 363.7,330.7 364.7,329.7 365.7,328.8 366.7,328 367.7,327.2 368.7,326.6 369.8,326 370.8,325.4 371.9,324.9 373,324.5 374.2,324.1 375.3,323.7 376.5,323.3 377.7,323 378.9,322.7 380.1,322.4 381.3,322.2 382.5,322 383.8,321.8 385.1,321.6 386.4,321.5 387.7,321.4 389,321.3 390.3,321.2 391.5,321.1 392.7,321.1 394,321 395.2,321 396.4,321 397.7,320.9 399,321 400.2,321 401.5,321.1 402.8,321.1 404.1,321.3 405.4,321.4 406.5,321.6 407.7,321.8 408.9,322 410.1,322.3 411.3,322.6 412.5,322.9 413.7,323.2 414.9,323.5 416.1,323.8 417.3,324.2 418.5,324.5 419.6,324.8 420.8,325 421.9,325.3 423,325.5 424.3,325.7 425.6,326 426.9,326.2 428.1,326.4 429.4,326.6 430.6,326.8 431.8,326.9 433,327 434.3,327 435.6,327 436.8,326.9 438.1,326.8 439.5,326.6 440.9,326.4 442.3,326.1 443.6,325.8 445,325.5 446.3,325.3 447.5,325 448.7,324.7 449.8,324.5 450.7,324.3 452.3,324 453.7,323.8 455,323.5" fill="none" stroke="#ff0000" stroke-width="1.1" stroke-dasharray="2.6,1.4" clip-path="url(#ce)" stroke-linejoin="round" />
<path d="M295.5,433 296.3,432 297,431 297.8,429.9 298.8,428.5 299.2,427.9 299.7,427.3 300.2,426.6 300.8,425.9 301.4,425.1 302,424.2 302.7,423.3 303.4,422.4 304.1,421.5 304.9,420.5 305.7,419.5 306.5,418.4 307.3,417.4 308.1,416.3 308.9,415.2 309.8,414.2 310.6,413.1 311.5,412 312.4,410.9 313.2,409.8 314.1,408.7 314.9,407.6 315.7,406.6 316.6,405.5 317.4,404.5 318.2,403.6 318.9,402.6 319.7,401.7 320.4,400.8 321.1,400 322,399 322.8,398 323.7,397 324.5,396 325.3,395 326.2,394.1 327,393.2 327.8,392.3 328.6,391.4 329.4,390.5 330.2,389.6 330.9,388.8 331.7,387.9 332.5,387.1 333.3,386.3 334.1,385.4 334.9,384.6 335.7,383.8 336.6,382.9 337.6,381.9 338.5,381 339.4,380.1 340.3,379.2 341.3,378.3 342.2,377.4 343.1,376.5 344,375.7 344.9,374.9 345.8,374.1 346.7,373.4 347.6,372.7 348.5,372 349.7,371.2 350.8,370.4 351.9,369.7 353.1,369 354.2,368.4 355.3,367.8 356.4,367.3 357.5,366.8 358.8,366.3 360,365.9 361.2,365.6 362.5,365.4 363.8,365.1 365.2,365 366.3,364.9 367.4,364.9 368.6,364.9 369.8,365 371,365.1 372.2,365.2 373.5,365.3 374.9,365.4 376.3,365.6 377.7,365.7 378.7,365.8 379.8,365.9 380.8,366 382,366.1 383.1,366.3 384.3,366.4 385.5,366.6 386.7,366.7 387.9,366.9 389.1,367 390.4,367.2 391.7,367.4 392.9,367.5 394.2,367.7 395.5,367.9 396.7,368.1 398,368.3 399.2,368.4 400.5,368.6 401.7,368.8 402.9,369 404.1,369.2 405.3,369.4 406.5,369.6 407.7,369.8 408.9,370 410.1,370.2 411.4,370.4 412.6,370.6 413.8,370.8 415,371 416.2,371.2 417.4,371.4 418.6,371.7 419.8,371.9 421,372.1 422.2,372.3 423.4,372.6 424.6,372.8 425.8,373 426.9,373.3 428.1,373.5 429.3,373.8 430.6,374 431.9,374.3 433.3,374.6 434.6,374.9 435.9,375.1 437.3,375.4 438.6,375.7 439.9,376 441.2,376.3 442.5,376.6 443.7,376.9 444.9,377.2 446.1,377.4 447.1,377.7 448.1,377.9 449.1,378.2 449.9,378.4 450.7,378.6 452.4,379.1 453.7,379.6 455,380" fill="none" stroke="#ff0000" stroke-width="1.1" stroke-dasharray="2.6,1.4" clip-path="url(#ce)" stroke-linejoin="round" />
<rect x="266" y="239.5" width="185.5" height="189.8" fill="none" stroke="#505050" stroke-width="1"/>
<line x1="270.6" y1="429.3" x2="270.6" y2="432.3" stroke="#333" stroke-width="0.8"/>
<text x="270.6" y="439.8" font-size="7.4" text-anchor="middle" fill="#111" >−0.10</text>
<line x1="314.5" y1="429.3" x2="314.5" y2="432.3" stroke="#333" stroke-width="0.8"/>
<text x="314.5" y="439.8" font-size="7.4" text-anchor="middle" fill="#111" >−0.05</text>
<line x1="358.4" y1="429.3" x2="358.4" y2="432.3" stroke="#333" stroke-width="0.8"/>
<text x="358.4" y="439.8" font-size="7.4" text-anchor="middle" fill="#111" >0.00</text>
<line x1="402.3" y1="429.3" x2="402.3" y2="432.3" stroke="#333" stroke-width="0.8"/>
<text x="402.3" y="439.8" font-size="7.4" text-anchor="middle" fill="#111" >0.05</text>
<line x1="446.2" y1="429.3" x2="446.2" y2="432.3" stroke="#333" stroke-width="0.8"/>
<text x="446.2" y="439.8" font-size="7.4" text-anchor="middle" fill="#111" >0.10</text>
<line x1="262.8" y1="244.56" x2="266" y2="244.56" stroke="#333" stroke-width="0.8"/>
<text x="262" y="247.36" font-size="7.4" text-anchor="end" fill="#111" >0.8</text>
<line x1="262.8" y1="289.48" x2="266" y2="289.48" stroke="#333" stroke-width="0.8"/>
<text x="262" y="292.28" font-size="7.4" text-anchor="end" fill="#111" >0.4</text>
<line x1="262.8" y1="334.4" x2="266" y2="334.4" stroke="#333" stroke-width="0.8"/>
<text x="262" y="337.2" font-size="7.4" text-anchor="end" fill="#111" >0.0</text>
<line x1="262.8" y1="379.32" x2="266" y2="379.32" stroke="#333" stroke-width="0.8"/>
<text x="262" y="382.12" font-size="7.4" text-anchor="end" fill="#111" >−0.4</text>
<line x1="262.8" y1="424.24" x2="266" y2="424.24" stroke="#333" stroke-width="0.8"/>
<text x="262" y="427.04" font-size="7.4" text-anchor="end" fill="#111" >−0.8</text>
<line x1="494.4" y1="321.8" x2="681.5" y2="321.8" stroke="#c8c8c8" stroke-width="0.9"/>
<line x1="587.4" y1="237.6" x2="587.4" y2="429.1" stroke="#cfcfcf" stroke-width="1.1" stroke-dasharray="1.2,0.6"/>
<path d="M494.3,282.3 495.5,282.3 496.8,282.2 498,282.2 499.3,282.2 500.5,282.1 501.8,282.1 503,282.1 504.3,282.1 505.5,282 506.8,282 508,282 509.2,282 510.3,282 511.5,282 512.9,282 514.2,282.1 515.6,282.1 516.9,282.1 518.2,282.2 519.4,282.3 520.7,282.3 522,282.4 523.3,282.5 524.6,282.6 525.8,282.7 527,282.8 528.2,282.8 529.4,282.9 530.6,283 531.8,283.1 533,283.2 534.2,283.3 535.4,283.5 536.6,283.7 537.8,283.9 539,284.2 540.2,284.5 541.4,284.8 542.6,285.2 543.8,285.6 545,286 546.2,286.5 547.4,286.9 548.6,287.3 549.8,287.7 550.9,288.1 552.2,288.5 553.4,289 554.6,289.4 555.9,289.8 557.1,290.2 558.3,290.7 559.5,291.1 560.7,291.5 561.9,291.9 563.1,292.3 564.3,292.7 565.5,293.1 566.7,293.4 567.9,293.8 569.2,294.2 570.4,294.5 571.6,294.9 572.8,295.2 574,295.5 575.3,295.9 576.5,296.2 577.8,296.6 579.1,296.9 580.3,297.2 581.5,297.4 582.7,297.5 583.8,297.6 585.3,297.5 586.8,297.3 588.1,297 589.5,296.6 590.8,296.1 591.9,295.6 592.9,295 593.9,294.4 594.9,293.7 595.9,292.9 596.9,292.1 597.8,291.3 598.7,290.5 599.6,289.7 600.5,288.8 601.3,287.9 602.2,286.9 603.1,286 603.9,285.1 604.8,284.1 605.7,283.1 606.6,282 607.4,281 608.3,280 609.2,279 610,278.1 611,277.1 612,276.2 613,275.3 614,274.3 615,273.3 615.8,272.4 616.6,271.5 617.4,270.5 618.3,269.6 619.1,268.6 620,267.6 620.9,266.6 621.9,265.6 622.8,264.8 623.7,263.9 624.6,263.1 625.6,262.2 626.6,261.3 627.6,260.5 628.7,259.6 629.7,258.9 630.7,258.2 631.8,257.5 632.8,257 634,256.5 635.3,256 636.5,255.6 637.8,255.3 639.1,255 640.3,254.9 641.5,254.8 642.7,254.8 644,254.9 645.3,255.1 646.5,255.5 647.7,255.9 648.9,256.5 650.3,257.2 651.1,257.7 652,258.2 652.9,258.8 653.9,259.4 654.8,260.1 655.8,260.8 656.8,261.6 657.8,262.3 658.8,263.1 659.8,264 660.8,264.8 661.8,265.7 662.8,266.5 663.8,267.4 664.8,268.3 665.7,269.1 666.6,269.9 667.5,270.8 668.4,271.6 669.2,272.5 670.1,273.4 671,274.3 671.8,275.2 672.7,276.1 673.6,277 674.4,278 675.3,278.9 676.1,279.8 677,280.8 677.9,281.7 678.7,282.6 679.6,283.6 680.4,284.5 681.3,285.4" fill="none" stroke="#0000ff" stroke-width="1.7" clip-path="url(#cf)" stroke-linejoin="round" />
<path d="M494.3,287.4 495.5,287.1 496.7,286.8 497.9,286.6 499.1,286.3 500.4,286 501.6,285.8 502.8,285.6 504,285.5 505.3,285.3 506.5,285.2 507.8,285.1 509,285.1 510.3,285.1 511.5,285.2 512.8,285.3 514,285.5 515.3,285.8 516.5,286 517.8,286.3 519.1,286.7 520.3,287 521.5,287.4 522.8,287.7 524,288.1 525.2,288.6 526.5,289 527.7,289.5 529,290 530.1,290.4 531.1,290.9 532.2,291.3 533.3,291.8 534.4,292.3 535.6,292.8 536.7,293.3 537.8,293.8 538.9,294.3 540,294.8 541.1,295.3 542.2,295.8 543.3,296.3 544.4,296.9 545.5,297.4 546.6,297.9 547.6,298.5 548.7,299.1 549.8,299.6 550.9,300.2 552,300.8 553.1,301.4 554.2,302.1 555.3,302.7 556.4,303.4 557.5,304.1 558.6,304.7 559.7,305.4 560.8,306 561.9,306.7 563,307.3 564.1,308 565.2,308.6 566.4,309.3 567.5,309.9 568.6,310.6 569.7,311.2 570.8,311.9 571.8,312.5 572.8,313.2 573.9,314 574.9,314.8 575.9,315.7 576.9,316.5 577.9,317.4 578.9,318.2 579.9,318.9 580.9,319.6 582,320.3 583.2,320.9 584.4,321.4 585.5,321.9 586.7,322.4 587.9,322.9 589.1,323.4 590.3,323.8 591.4,324.3 592.6,324.6 593.8,325 594.9,325.4 596.2,325.8 597.4,326.2 598.5,326.6 599.7,327 600.9,327.4 602,327.9 603.3,328.3 604.5,328.7 605.7,329.2 607,329.6 608.3,330 609.4,330.4 610.6,330.7 611.8,331.1 613,331.5 614.2,331.9 615.4,332.2 616.6,332.6 617.9,332.9 619.2,333.3 620.5,333.6 621.8,333.9 623.1,334.2 624.2,334.4 625.4,334.7 626.6,334.9 627.8,335.1 629,335.4 630.3,335.6 631.5,335.8 632.8,336 634,336.1 635.3,336.3 636.5,336.4 637.8,336.6 639.1,336.7 640.3,336.7 641.6,336.8 642.8,336.8 644,336.8 645.3,336.8 646.5,336.7 647.8,336.6 649,336.5 650.3,336.4 651.5,336.3 652.8,336.1 654,335.9 655.2,335.8 656.5,335.6 657.7,335.3 658.9,335.1 660.2,334.9 661.4,334.6 662.6,334.4 663.8,334.1 665,333.9 666.2,333.6 667.3,333.2 668.5,332.9 669.7,332.6 670.8,332.2 672,331.8 673.2,331.5 674.3,331.1 675.5,330.7 676.6,330.3 677.8,330 679,329.6 680.1,329.2 681.3,328.9" fill="none" stroke="#0000ff" stroke-width="1.7" clip-path="url(#cf)" stroke-linejoin="round" />
<path d="M494.3,402.4 495.6,402.9 496.8,403.3 498.1,403.8 499.3,404.2 500.6,404.6 501.9,405 503.1,405.3 504.4,405.7 505.7,405.9 507.1,406 508.3,406 509.5,405.9 510.8,405.8 512.1,405.6 513.4,405.3 514.7,405 515.9,404.6 517,404.2 518.1,403.8 519.2,403.3 520.3,402.7 521.4,402.1 522.5,401.5 523.5,400.9 524.6,400.2 525.6,399.5 526.6,398.8 527.6,398.1 528.6,397.3 529.6,396.5 530.5,395.7 531.5,394.9 532.5,394 533.4,393.1 534.3,392.2 535.2,391.3 536,390.4 536.8,389.5 537.7,388.5 538.5,387.5 539.4,386.5 540.2,385.5 541.2,384.4 542.1,383.3 542.8,382.5 543.6,381.6 544.3,380.7 545.1,379.8 545.9,378.8 546.7,377.9 547.5,376.9 548.3,375.9 549.2,374.9 550,373.9 550.8,372.9 551.7,371.9 552.5,370.9 553.3,369.9 554.1,368.9 554.9,368 555.7,367 556.4,366.1 557.2,365.1 558.1,364 558.9,363 559.7,362 560.5,361 561.3,360 562,359 562.8,358 563.6,357 564.3,356 565.1,355 565.9,354 566.6,352.9 567.4,351.9 568.1,350.9 568.9,349.9 569.6,348.9 570.3,347.9 571,346.9 571.7,345.9 572.4,344.9 573.1,343.9 573.9,342.9 574.6,341.8 575.3,340.8 576,339.8 576.8,338.7 577.5,337.7 578.3,336.6 579,335.7 579.7,334.7 580.4,333.7 581.1,332.7 581.8,331.8 582.5,330.8 583.2,329.8 584,328.7 584.7,327.7 585.4,326.7 586.2,325.7 586.9,324.7 587.6,323.7 588.4,322.7 589.1,321.8 589.8,320.8 590.5,319.8 591.2,318.9 591.9,318 592.7,316.9 593.5,315.8 594.3,314.8 595.1,313.7 595.9,312.6 596.7,311.6 597.5,310.5 598.3,309.5 599.1,308.5 599.8,307.5 600.6,306.6 601.3,305.7 602.1,304.8 602.8,304 603.8,303 604.7,302 605.6,301.1 606.5,300.2 607.4,299.4 608.3,298.6 609.2,297.8 610,297 611.1,295.9 612.1,294.9 613,293.9 614,293 615,292 616,291.1 616.9,290.2 617.9,289.3 618.9,288.4 620,287.5 621,286.7 622,285.8 623,284.9 624.1,284.1 625.2,283.2 626.3,282.4 627.4,281.6 628.4,280.9 629.5,280.3 630.6,279.7 631.7,279.1 632.8,278.5 633.9,278 635,277.6 636.1,277.2 637.3,276.8 638.5,276.6 639.7,276.3 640.9,276.2 642.1,276.2 643.3,276.2 644.5,276.3 645.6,276.5 646.7,276.8 647.8,277.2 649,277.7 650.3,278.3 651.2,278.7 652.1,279.3 653.1,279.8 654.1,280.5 655.1,281.1 656.1,281.8 657.2,282.6 658.3,283.4 659.3,284.2 660.4,285 661.5,285.8 662.6,286.6 663.6,287.5 664.7,288.3 665.7,289.1 666.6,289.9 667.6,290.6 668.5,291.4 669.4,292.2 670.3,293 671.3,293.8 672.2,294.6 673.1,295.5 674,296.3 674.9,297.1 675.8,298 676.7,298.8 677.6,299.7 678.6,300.5 679.5,301.3 680.4,302.2 681.3,303" fill="none" stroke="#0000ff" stroke-width="1.7" clip-path="url(#cf)" stroke-linejoin="round" />
<path d="M494.3,420.5 495.6,421.1 496.8,421.7 498.1,422.2 499.3,422.8 500.6,423.2 501.9,423.5 503.1,423.8 504.4,424.1 505.7,424.2 507.1,424.3 508.3,424.3 509.5,424.2 510.8,424.1 512.1,424 513.4,423.8 514.7,423.5 515.9,423.2 517.2,422.8 518.4,422.4 519.7,421.9 520.9,421.4 522.2,420.8 523.4,420.1 524.6,419.4 525.6,418.8 526.6,418.1 527.6,417.3 528.6,416.6 529.6,415.8 530.5,414.9 531.5,414.1 532.5,413.2 533.4,412.3 534.3,411.4 535.1,410.5 536,409.6 536.8,408.7 537.6,407.7 538.4,406.8 539.3,405.7 540.1,404.7 541.1,403.6 542.1,402.4 542.8,401.6 543.5,400.8 544.2,400 545,399.1 545.8,398.2 546.6,397.3 547.5,396.4 548.3,395.4 549.2,394.4 550.1,393.5 551,392.5 551.9,391.5 552.8,390.5 553.7,389.4 554.6,388.4 555.5,387.4 556.3,386.4 557.2,385.5 558.1,384.5 558.9,383.6 559.7,382.6 560.4,381.7 561.2,380.8 561.9,380 562.8,378.9 563.7,377.8 564.5,376.8 565.3,375.7 566.1,374.7 566.9,373.6 567.6,372.6 568.4,371.6 569.1,370.7 569.8,369.7 570.6,368.8 571.3,367.9 572,367 572.8,366.1 573.7,365.1 574.6,364.1 575.4,363.2 576.3,362.3 577.2,361.4 578,360.5 578.9,359.7 579.8,358.9 580.7,358.1 581.6,357.4 582.6,356.6 583.7,355.9 584.7,355.2 585.8,354.6 586.9,354 587.9,353.4 589,352.9 590,352.4 591.2,351.9 592.4,351.5 593.5,351.1 594.7,350.7 595.9,350.4 597,350.2 598.2,350 599.4,349.9 600.6,349.8 601.8,349.8 603,349.8 604.3,349.9 605.7,350 607,350.2 608.5,350.4 610,350.6 611,350.8 612.1,351 613.2,351.2 614.4,351.4 615.5,351.7 616.7,352 618,352.2 619.2,352.5 620.5,352.7 621.8,353 623.1,353.2 624.2,353.4 625.4,353.6 626.5,353.7 627.7,353.9 629,354.1 630.2,354.3 631.4,354.4 632.7,354.6 634,354.8 635.2,354.9 636.5,355 637.8,355.1 639,355.2 640.3,355.3 641.6,355.4 642.8,355.4 644,355.4 645.3,355.4 646.5,355.4 647.8,355.4 649,355.3 650.3,355.2 651.5,355.2 652.7,355.1 654,354.9 655.2,354.8 656.5,354.7 657.7,354.6 658.9,354.4 660.2,354.2 661.4,354.1 662.6,353.9 663.9,353.7 665.1,353.5 666.4,353.2 667.6,353 668.9,352.7 670.1,352.4 671.4,352.1 672.6,351.8 673.9,351.5 675.1,351.2 676.3,350.9 677.6,350.6 678.8,350.3 680.1,350 681.3,349.7" fill="none" stroke="#0000ff" stroke-width="1.7" clip-path="url(#cf)" stroke-linejoin="round" />
<path d="M494.3,272.3 495.6,272.2 496.9,272.1 498.1,272 499.4,271.9 500.7,271.8 502,271.7 503.2,271.6 504.5,271.6 505.8,271.5 507.1,271.5 508.3,271.5 509.5,271.5 510.7,271.5 511.9,271.6 513.1,271.6 514.3,271.7 515.5,271.7 516.7,271.8 517.9,271.9 519.1,272 520.3,272.1 521.5,272.2 522.7,272.3 524,272.5 525.3,272.6 526.5,272.8 527.8,272.9 529,273.1 530.2,273.3 531.3,273.5 532.4,273.6 533.4,273.8 534.8,274.1 536.1,274.3 537.4,274.5 538.6,274.8 540,275.2 541.1,275.5 542.2,275.9 543.4,276.2 544.7,276.6 545.9,277 547.2,277.5 548.4,277.9 549.7,278.4 550.9,278.8 552.1,279.2 553.3,279.7 554.6,280.2 555.8,280.7 557,281.2 558.2,281.6 559.5,282.1 560.7,282.6 561.9,283.1 563.1,283.6 564.4,284.1 565.6,284.6 566.8,285.1 568.1,285.6 569.3,286.1 570.5,286.5 571.7,286.9 572.8,287.3 574.1,287.7 575.4,288.1 576.7,288.4 577.9,288.7 579.1,288.9 580.3,289.1 581.6,289.3 582.8,289.4 584,289.5 585.2,289.5 586.4,289.5 587.6,289.4 588.9,289.2 590.1,289 591.3,288.6 592.5,288.2 593.5,287.7 594.6,287.1 595.6,286.5 596.6,285.8 597.6,285.1 598.6,284.3 599.6,283.5 600.6,282.7 601.6,281.8 602.7,280.9 603.7,280 604.6,279 605.6,278.1 606.5,277.2 607.4,276.2 608.2,275.2 609.1,274.2 609.9,273.2 610.8,272.2 611.8,271.1 612.5,270.3 613.3,269.5 614.1,268.6 614.9,267.8 615.8,266.9 616.6,266 617.5,265.1 618.4,264.2 619.3,263.3 620.1,262.5 621,261.6 621.9,260.8 622.9,259.9 623.8,259 624.8,258.1 625.8,257.1 626.8,256.2 627.8,255.3 628.8,254.5 629.8,253.6 630.8,252.9 631.8,252.2 632.8,251.5 634,250.8 635.3,250.1 636.5,249.4 637.8,248.9 639,248.4 640.3,248 641.5,247.7 642.7,247.5 644,247.5 645.2,247.5 646.4,247.8 647.7,248.1 648.9,248.6 650.3,249.2 651.2,249.6 652,250.2 652.9,250.7 653.9,251.4 654.8,252.1 655.8,252.8 656.8,253.6 657.8,254.4 658.8,255.3 659.8,256.1 660.8,257 661.8,257.9 662.8,258.8 663.8,259.7 664.8,260.6 665.7,261.5 666.5,262.3 667.4,263.1 668.2,264 669.1,264.8 669.9,265.7 670.7,266.6 671.5,267.5 672.3,268.4 673.2,269.3 674,270.2 674.8,271.1 675.6,272 676.4,272.9 677.2,273.9 678,274.8 678.8,275.7 679.7,276.6 680.5,277.5 681.3,278.4" fill="none" stroke="#ff0000" stroke-width="1.5" clip-path="url(#cf)" stroke-linejoin="round" />
<path d="M494.3,277.3 495.5,277 496.7,276.8 497.9,276.5 499.1,276.2 500.4,276 501.6,275.8 502.8,275.6 504,275.5 505.3,275.4 506.5,275.3 507.8,275.2 509,275.2 510.3,275.2 511.5,275.3 512.8,275.4 514,275.6 515.3,275.7 516.6,276 517.8,276.2 519.1,276.5 520.3,276.9 521.6,277.3 522.8,277.8 524,278.4 525.2,279 526.4,279.6 527.7,280.2 529,280.8 530.2,281.3 531.4,281.8 532.6,282.2 533.8,282.7 535,283.2 536.3,283.7 537.5,284.2 538.8,284.7 540,285.2 541.2,285.7 542.4,286.2 543.7,286.8 544.9,287.3 546.1,287.8 547.3,288.4 548.5,289 549.7,289.6 550.9,290.2 552,290.8 553.1,291.5 554.2,292.2 555.3,292.9 556.4,293.7 557.5,294.4 558.6,295.2 559.7,295.9 560.8,296.7 561.9,297.4 562.9,298.1 563.9,298.8 564.9,299.5 565.9,300.2 567,300.9 568,301.6 569,302.3 569.9,303 570.9,303.7 571.9,304.4 572.8,305 573.9,305.7 574.9,306.4 575.9,307.1 576.9,307.8 577.9,308.5 578.9,309.1 579.9,309.7 580.9,310.3 582.1,310.9 583.2,311.5 584.4,312 585.6,312.6 586.7,313.1 587.9,313.6 589.1,314.1 590.3,314.6 591.4,315.1 592.6,315.5 593.8,316 594.9,316.5 596.2,316.9 597.4,317.4 598.5,317.8 599.7,318.3 600.9,318.7 602,319.1 603.2,319.6 604.5,320 605.7,320.4 607,320.9 608.3,321.3 609.4,321.7 610.6,322.1 611.8,322.4 613,322.8 614.2,323.2 615.4,323.6 616.6,324 617.9,324.3 619.2,324.7 620.5,325 621.8,325.3 623.1,325.6 624.2,325.8 625.4,326.1 626.6,326.3 627.8,326.5 629,326.7 630.3,326.9 631.5,327.1 632.8,327.3 634,327.4 635.3,327.6 636.5,327.7 637.8,327.8 639.1,327.9 640.3,327.9 641.6,328 642.8,328 644,328 645.3,328 646.5,327.9 647.8,327.8 649,327.7 650.3,327.6 651.5,327.4 652.7,327.3 654,327.1 655.2,326.9 656.5,326.7 657.7,326.5 658.9,326.3 660.2,326.1 661.4,325.8 662.6,325.6 663.8,325.4 665,325.1 666.2,324.8 667.3,324.5 668.5,324.2 669.7,323.9 670.8,323.5 672,323.2 673.2,322.8 674.3,322.5 675.5,322.1 676.6,321.8 677.8,321.4 679,321.1 680.1,320.7 681.3,320.4" fill="none" stroke="#ff0000" stroke-width="1.5" clip-path="url(#cf)" stroke-linejoin="round" />
<path d="M494.3,396.2 495.6,396.8 496.8,397.4 498.1,398.1 499.3,398.6 500.6,399.1 501.9,399.5 503.1,399.8 504.4,400 505.7,400.2 507.1,400.2 508.3,400.2 509.5,400 510.8,399.9 512.1,399.6 513.4,399.3 514.7,399 515.9,398.6 517,398.2 518.1,397.7 519.2,397.2 520.3,396.7 521.4,396.1 522.5,395.5 523.5,394.8 524.6,394.2 525.6,393.6 526.6,392.9 527.6,392.2 528.6,391.5 529.6,390.8 530.6,390 531.6,389.3 532.5,388.5 533.4,387.7 534.3,386.8 535.2,386 536,385.1 536.8,384.2 537.6,383.3 538.5,382.3 539.3,381.3 540.2,380.2 540.9,379.3 541.6,378.4 542.4,377.5 543.1,376.5 543.9,375.5 544.6,374.5 545.4,373.4 546.2,372.4 547,371.3 547.8,370.3 548.6,369.2 549.3,368.2 550.1,367.1 550.9,366.1 551.7,365.1 552.5,364.1 553.2,363.1 554,362 554.8,361 555.6,360 556.4,359 557.2,358 558,357 558.8,356 559.5,354.9 560.3,353.9 561.1,352.9 561.9,351.9 562.7,350.9 563.5,349.9 564.3,348.8 565.1,347.8 565.9,346.8 566.7,345.8 567.5,344.7 568.3,343.7 569.1,342.7 569.8,341.7 570.6,340.7 571.3,339.7 572.1,338.7 572.8,337.7 573.5,336.7 574.2,335.6 574.9,334.6 575.6,333.6 576.3,332.6 576.9,331.6 577.6,330.6 578.2,329.6 578.9,328.6 579.5,327.6 580.2,326.6 580.9,325.6 581.6,324.6 582.3,323.6 583.1,322.6 583.8,321.5 584.5,320.5 585.3,319.5 586,318.5 586.8,317.5 587.5,316.5 588.2,315.5 589,314.6 589.7,313.6 590.5,312.6 591.3,311.5 592,310.5 592.8,309.5 593.6,308.5 594.3,307.5 595.1,306.6 595.8,305.6 596.6,304.7 597.4,303.8 598.3,302.8 599.2,301.8 600.2,300.8 601.1,299.9 602.1,298.9 603,298 603.9,297.1 604.8,296.2 605.7,295.3 606.6,294.3 607.5,293.4 608.4,292.5 609.3,291.7 610.1,290.8 610.9,290 612,288.9 612.9,287.9 613.9,286.9 615,285.8 615.9,284.9 616.8,284.1 617.7,283.1 618.7,282.2 619.7,281.3 620.8,280.3 621.9,279.4 622.8,278.7 623.7,277.9 624.6,277.1 625.6,276.4 626.6,275.6 627.6,274.8 628.7,274.1 629.7,273.4 630.7,272.7 631.8,272.2 632.8,271.7 634,271.2 635.3,270.8 636.5,270.4 637.8,270.2 639.1,270 640.3,269.8 641.5,269.7 642.7,269.7 644,269.7 645.2,269.9 646.5,270.1 647.7,270.4 648.9,270.8 650.3,271.4 651.1,271.8 652,272.3 652.9,272.9 653.9,273.5 654.8,274.2 655.8,274.9 656.8,275.6 657.8,276.4 658.8,277.2 659.8,278 660.8,278.8 661.8,279.7 662.8,280.5 663.8,281.3 664.7,282.1 665.7,282.9 666.6,283.6 667.5,284.4 668.5,285.2 669.4,285.9 670.3,286.7 671.2,287.5 672.1,288.3 673.1,289.1 674,289.9 674.9,290.7 675.8,291.4 676.7,292.2 677.6,293 678.6,293.8 679.5,294.6 680.4,295.4 681.3,296.2" fill="none" stroke="#ff0000" stroke-width="1.5" clip-path="url(#cf)" stroke-linejoin="round" />
<path d="M494.3,415.2 495.6,415.7 496.8,416.3 498.1,416.8 499.3,417.3 500.6,417.7 501.9,418 503.1,418.3 504.4,418.6 505.7,418.7 507.1,418.8 508.3,418.8 509.5,418.7 510.8,418.6 512.1,418.5 513.4,418.3 514.7,418 515.9,417.7 517.2,417.3 518.4,416.9 519.7,416.4 520.9,415.9 522.2,415.3 523.4,414.6 524.6,413.9 525.6,413.3 526.6,412.6 527.6,411.8 528.6,411 529.6,410.2 530.5,409.4 531.5,408.5 532.5,407.7 533.4,406.8 534.3,406 535.2,405.1 536,404.2 536.8,403.4 537.7,402.5 538.5,401.5 539.4,400.6 540.3,399.6 541.2,398.6 542.1,397.5 542.8,396.7 543.6,395.8 544.3,394.9 545.1,394 545.9,393 546.7,392 547.5,391 548.4,390 549.2,389 550,388 550.8,386.9 551.7,385.9 552.5,384.9 553.3,383.9 554.1,382.9 554.9,381.9 555.7,380.9 556.4,380 557.2,379 558,377.9 558.9,376.9 559.6,375.9 560.4,374.9 561.2,373.9 562,372.9 562.7,371.9 563.5,370.9 564.3,369.9 565,369 565.8,368 566.6,367 567.4,366.1 568.2,365.1 569.1,364.2 569.9,363.2 570.7,362.3 571.6,361.3 572.4,360.4 573.2,359.4 574.1,358.5 574.9,357.6 575.8,356.7 576.6,355.8 577.5,355 578.3,354.1 579.2,353.2 580.2,352.2 581.1,351.2 582,350.3 582.9,349.3 583.9,348.4 584.8,347.6 585.8,346.7 586.7,345.9 587.6,345.2 588.6,344.6 589.9,343.9 591.1,343.3 592.4,342.7 593.7,342.2 595,341.8 596.2,341.5 597.4,341.2 598.8,340.9 600.1,340.7 601.4,340.6 602.8,340.6 603.9,340.7 605,340.8 606.2,341 607.4,341.3 608.7,341.5 610,341.8 611,342 612.1,342.3 613.2,342.5 614.4,342.8 615.5,343.1 616.7,343.4 618,343.7 619.2,344 620.5,344.2 621.8,344.5 623.1,344.7 624.2,344.9 625.4,345 626.5,345.2 627.7,345.4 628.9,345.6 630.2,345.7 631.4,345.9 632.7,346 634,346.1 635.2,346.2 636.5,346.3 637.8,346.4 639,346.5 640.3,346.6 641.6,346.6 642.8,346.6 644,346.6 645.3,346.6 646.5,346.5 647.8,346.4 649,346.4 650.3,346.2 651.5,346.1 652.7,346 654,345.9 655.2,345.7 656.5,345.6 657.7,345.4 658.9,345.2 660.2,345.1 661.4,344.9 662.6,344.7 663.9,344.5 665.1,344.3 666.4,344.1 667.6,343.8 668.9,343.6 670.1,343.4 671.4,343.1 672.6,342.8 673.9,342.6 675.1,342.3 676.3,342 677.6,341.8 678.8,341.5 680.1,341.3 681.3,341" fill="none" stroke="#ff0000" stroke-width="1.5" clip-path="url(#cf)" stroke-linejoin="round" />
<path d="M494.3,280.4 495.5,280.4 496.8,280.4 498,280.4 499.3,280.4 500.5,280.4 501.8,280.4 503,280.3 504.3,280.3 505.5,280.3 506.8,280.3 508,280.3 509.2,280.4 510.3,280.4 511.5,280.4 512.9,280.4 514.2,280.5 515.5,280.5 516.8,280.5 518.1,280.6 519.4,280.6 520.7,280.7 522,280.8 523.3,280.9 524.6,281.1 525.8,281.3 526.9,281.5 528.1,281.7 529.4,281.9 530.6,282.2 531.8,282.5 533,282.8 534.2,283.1 535.4,283.4 536.6,283.7 537.8,284 538.9,284.3 540,284.6 541.3,285 542.6,285.4 543.8,285.8 545,286.2 546.2,286.6 547.3,287 548.5,287.4 549.7,287.9 550.9,288.3 552.1,288.7 553.3,289.2 554.6,289.6 555.8,290.1 557,290.5 558.2,291 559.5,291.4 560.7,291.9 561.9,292.3 563.1,292.7 564.3,293.2 565.5,293.6 566.7,294 567.9,294.4 569.2,294.9 570.4,295.3 571.6,295.6 572.8,296 574,296.4 575.3,296.7 576.5,297.1 577.8,297.5 579.1,297.8 580.3,298.1 581.5,298.4 582.7,298.5 583.8,298.6 585.3,298.6 586.8,298.4 588.1,298.1 589.5,297.7 590.8,297.2 591.9,296.7 592.9,296.2 593.9,295.5 594.9,294.8 595.9,294.1 596.9,293.3 597.8,292.6 598.7,291.8 599.6,290.9 600.5,290 601.3,289.1 602.2,288.2 603.1,287.3 603.9,286.4 604.8,285.4 605.7,284.4 606.6,283.4 607.4,282.4 608.3,281.4 609.2,280.4 610,279.5 611,278.5 612,277.6 613,276.7 614,275.7 615,274.7 615.8,273.8 616.6,272.9 617.4,271.9 618.2,271 619.1,270 620,268.9 620.9,268 621.9,267 622.8,266.2 623.7,265.3 624.6,264.5 625.6,263.6 626.6,262.7 627.6,261.9 628.7,261.1 629.7,260.3 630.7,259.7 631.8,259 632.8,258.5 634,258 635.3,257.5 636.5,257.1 637.8,256.8 639.1,256.5 640.3,256.4 641.5,256.3 642.7,256.3 644,256.4 645.3,256.7 646.5,257 647.7,257.5 648.9,258.1 650.3,258.8 651.1,259.3 652,259.8 652.9,260.4 653.9,261.1 654.8,261.8 655.8,262.5 656.8,263.3 657.8,264.1 658.8,264.9 659.8,265.8 660.8,266.6 661.8,267.5 662.8,268.4 663.8,269.3 664.8,270.1 665.7,271 666.6,271.8 667.5,272.7 668.4,273.5 669.2,274.4 670.1,275.3 671,276.2 671.8,277.2 672.7,278.1 673.6,279 674.4,280 675.3,280.9 676.1,281.9 677,282.8 677.9,283.8 678.7,284.7 679.6,285.6 680.4,286.6 681.3,287.5" fill="none" stroke="#ff0000" stroke-width="1.1" stroke-dasharray="2.6,1.4" clip-path="url(#cf)" stroke-linejoin="round" />
<path d="M494.3,284.9 495.5,284.7 496.7,284.5 497.9,284.2 499.1,284 500.4,283.8 501.6,283.6 502.8,283.5 504,283.4 505.3,283.3 506.5,283.3 507.8,283.3 509,283.3 510.3,283.4 511.5,283.5 512.7,283.6 514,283.8 515.2,284 516.4,284.2 517.7,284.5 519,284.8 520.3,285.2 521.4,285.5 522.6,285.9 523.8,286.4 525,286.8 526.2,287.3 527.4,287.8 528.7,288.4 529.9,288.9 531.1,289.4 532.3,290 533.4,290.5 534.7,291.1 535.9,291.7 537.1,292.3 538.3,292.9 539.5,293.6 540.7,294.2 541.8,294.8 542.9,295.4 544,296 545.2,296.7 546.4,297.3 547.4,298 548.5,298.6 549.7,299.3 550.9,300 551.9,300.6 552.9,301.2 554,301.8 555.1,302.4 556.2,303.1 557.4,303.8 558.5,304.4 559.7,305.1 560.8,305.7 561.9,306.4 563,307 564.1,307.7 565.2,308.3 566.4,309 567.5,309.6 568.6,310.2 569.7,310.9 570.8,311.6 571.8,312.2 572.8,312.9 573.9,313.7 574.9,314.5 575.9,315.4 576.9,316.2 577.9,317.1 578.9,317.9 579.9,318.6 580.9,319.3 582,320 583.2,320.6 584.4,321.1 585.5,321.6 586.7,322.1 587.9,322.6 589.1,323.1 590.3,323.6 591.4,324 592.6,324.4 593.8,324.8 594.9,325.2 596.2,325.6 597.4,326 598.5,326.4 599.7,326.8 600.9,327.2 602,327.7 603.3,328.1 604.5,328.5 605.7,329 607,329.4 608.3,329.8 609.4,330.2 610.6,330.5 611.8,330.9 613,331.3 614.2,331.7 615.4,332 616.6,332.4 617.9,332.8 619.2,333.1 620.5,333.4 621.8,333.7 623.1,334 624.2,334.2 625.4,334.5 626.6,334.7 627.8,334.9 629,335.1 630.3,335.3 631.5,335.5 632.8,335.7 634,335.8 635.3,336 636.5,336.1 637.8,336.2 639.1,336.3 640.3,336.3 641.6,336.4 642.8,336.4 644,336.4 645.3,336.4 646.5,336.3 647.8,336.2 649,336.1 650.3,336 651.5,335.9 652.8,335.7 654,335.5 655.2,335.3 656.5,335.1 657.7,334.9 658.9,334.7 660.2,334.5 661.4,334.2 662.6,334 663.8,333.7 665,333.5 666.2,333.2 667.3,332.8 668.5,332.5 669.7,332.2 670.8,331.8 672,331.4 673.2,331.1 674.3,330.7 675.5,330.3 676.6,329.9 677.8,329.6 679,329.2 680.1,328.8 681.3,328.5" fill="none" stroke="#ff0000" stroke-width="1.1" stroke-dasharray="2.6,1.4" clip-path="url(#cf)" stroke-linejoin="round" />
<path d="M494.3,405.2 495.5,405.6 496.7,406 497.9,406.4 499,406.8 500.2,407.2 501.4,407.7 502.6,408 503.8,408.4 504.9,408.7 506,408.9 507.1,409 508.4,409.1 509.7,409 511,409 512.2,408.8 513.5,408.5 514.7,408.2 515.9,407.9 517,407.5 518.1,407.1 519.2,406.6 520.3,406 521.4,405.5 522.5,404.8 523.5,404.2 524.6,403.5 525.6,402.8 526.6,402.1 527.6,401.4 528.6,400.6 529.6,399.8 530.5,399 531.5,398.2 532.5,397.3 533.4,396.4 534.3,395.5 535.2,394.6 536,393.7 536.9,392.8 537.7,391.9 538.5,390.9 539.4,389.9 540.3,388.8 541.2,387.7 542.1,386.6 542.8,385.8 543.5,384.9 544.2,383.9 545,383 545.7,382 546.5,381 547.2,380 548,378.9 548.8,377.8 549.6,376.8 550.4,375.7 551.1,374.6 551.9,373.6 552.7,372.5 553.5,371.5 554.2,370.4 555,369.4 555.7,368.5 556.4,367.5 557.2,366.5 557.9,365.4 558.7,364.4 559.4,363.5 560.2,362.5 560.9,361.5 561.6,360.5 562.4,359.6 563.1,358.6 563.8,357.7 564.5,356.7 565.2,355.7 566,354.8 566.7,353.8 567.4,352.8 568.1,351.8 568.9,350.8 569.6,349.8 570.3,348.7 571,347.7 571.7,346.7 572.4,345.7 573.1,344.7 573.9,343.6 574.6,342.6 575.3,341.5 576,340.5 576.8,339.4 577.5,338.4 578.3,337.3 579,336.4 579.7,335.4 580.4,334.4 581.1,333.4 581.8,332.4 582.5,331.4 583.2,330.4 584,329.4 584.7,328.4 585.4,327.4 586.2,326.3 586.9,325.3 587.6,324.3 588.4,323.3 589.1,322.4 589.8,321.4 590.5,320.4 591.2,319.5 591.9,318.6 592.7,317.5 593.5,316.5 594.3,315.4 595.1,314.3 595.9,313.3 596.7,312.2 597.5,311.2 598.3,310.2 599.1,309.2 599.8,308.3 600.6,307.4 601.3,306.5 602.1,305.6 602.8,304.8 603.7,303.8 604.7,302.9 605.6,302 606.5,301.1 607.4,300.3 608.3,299.5 609.2,298.8 610,298 611.1,297 612.1,296 613,295.1 614,294.1 615,293.2 616,292.3 616.9,291.4 617.9,290.6 618.9,289.7 620,288.8 621,288 622,287.2 623,286.4 624.1,285.5 625.2,284.7 626.3,283.9 627.4,283.2 628.4,282.6 629.5,281.9 630.6,281.3 631.7,280.8 632.8,280.2 633.9,279.7 635,279.3 636.1,279 637.3,278.7 638.5,278.6 639.7,278.5 640.9,278.4 642.1,278.5 643.3,278.6 644.5,278.8 645.6,279 646.7,279.2 647.8,279.6 649,280 650.3,280.6 651.2,281 652.1,281.5 653.1,282.1 654,282.7 655.1,283.3 656.1,284 657.2,284.7 658.3,285.5 659.3,286.2 660.4,287 661.5,287.8 662.6,288.6 663.6,289.4 664.7,290.2 665.7,291 666.6,291.7 667.6,292.5 668.5,293.2 669.4,294 670.3,294.8 671.3,295.6 672.2,296.4 673.1,297.2 674,298 674.9,298.8 675.8,299.6 676.7,300.4 677.6,301.3 678.6,302.1 679.5,302.9 680.4,303.7 681.3,304.5" fill="none" stroke="#ff0000" stroke-width="1.1" stroke-dasharray="2.6,1.4" clip-path="url(#cf)" stroke-linejoin="round" />
<path d="M494.3,423.8 495.5,424.2 496.7,424.6 497.9,425 499,425.4 500.2,425.8 501.4,426.3 502.6,426.6 503.8,427 504.9,427.3 506,427.5 507.1,427.6 508.4,427.7 509.7,427.6 511,427.5 512.2,427.3 513.5,427.1 514.7,426.8 515.9,426.5 517.2,426.2 518.4,425.8 519.7,425.4 520.9,424.9 522.2,424.4 523.4,423.8 524.6,423.2 525.6,422.6 526.6,421.9 527.6,421.2 528.6,420.4 529.6,419.6 530.5,418.7 531.5,417.9 532.5,417 533.4,416.1 534.3,415.2 535.1,414.4 536,413.5 536.8,412.6 537.6,411.6 538.4,410.7 539.3,409.7 540.2,408.6 541.1,407.5 542.1,406.3 542.7,405.6 543.4,404.8 544,404 544.7,403.1 545.5,402.3 546.2,401.3 547,400.4 547.7,399.5 548.5,398.5 549.3,397.5 550.2,396.5 551,395.5 551.8,394.5 552.6,393.4 553.4,392.4 554.3,391.4 555.1,390.4 555.9,389.3 556.7,388.3 557.5,387.3 558.3,386.4 559,385.4 559.8,384.5 560.5,383.6 561.2,382.7 561.9,381.8 562.5,381 563.4,379.9 564.2,378.8 565.1,377.7 565.9,376.6 566.6,375.6 567.4,374.5 568.2,373.5 568.9,372.5 569.6,371.6 570.4,370.6 571.1,369.7 571.8,368.8 572.6,367.9 573.3,367 574.2,366 575,365 575.9,364.1 576.7,363.2 577.5,362.3 578.4,361.4 579.2,360.6 580.1,359.8 580.9,359 581.8,358.3 582.8,357.5 583.8,356.7 584.8,356 585.9,355.3 586.9,354.7 587.9,354.1 589,353.5 590,353 591.2,352.5 592.4,352 593.5,351.6 594.7,351.3 595.9,351 597,350.8 598.2,350.6 599.4,350.5 600.6,350.4 601.8,350.4 603,350.4 604.3,350.5 605.7,350.6 607,350.7 608.5,351 610,351.2 611,351.4 612.1,351.6 613.2,351.8 614.4,352.1 615.5,352.4 616.7,352.7 618,353 619.2,353.2 620.5,353.5 621.8,353.8 623.1,354 624.2,354.2 625.4,354.4 626.5,354.6 627.7,354.8 628.9,355 630.2,355.1 631.4,355.3 632.7,355.5 634,355.7 635.2,355.8 636.5,356 637.8,356.1 639,356.2 640.3,356.3 641.6,356.4 642.8,356.4 644,356.4 645.3,356.4 646.5,356.4 647.8,356.4 649,356.3 650.3,356.3 651.5,356.2 652.7,356.1 654,356 655.2,355.9 656.5,355.8 657.7,355.6 658.9,355.5 660.2,355.3 661.4,355.2 662.6,355 663.9,354.8 665.1,354.6 666.4,354.4 667.6,354.1 668.9,353.9 670.1,353.6 671.4,353.3 672.6,353 673.9,352.7 675.1,352.4 676.3,352.1 677.6,351.8 678.8,351.6 680.1,351.3 681.3,351" fill="none" stroke="#ff0000" stroke-width="1.1" stroke-dasharray="2.6,1.4" clip-path="url(#cf)" stroke-linejoin="round" />
<rect x="494.4" y="237.6" width="187.1" height="191.5" fill="none" stroke="#505050" stroke-width="1"/>
<line x1="497.8" y1="429.1" x2="497.8" y2="432.1" stroke="#333" stroke-width="0.8"/>
<text x="497.8" y="439.6" font-size="7.4" text-anchor="middle" fill="#111" >−0.1</text>
<line x1="587.4" y1="429.1" x2="587.4" y2="432.1" stroke="#333" stroke-width="0.8"/>
<text x="587.4" y="439.6" font-size="7.4" text-anchor="middle" fill="#111" >0.0</text>
<line x1="677" y1="429.1" x2="677" y2="432.1" stroke="#333" stroke-width="0.8"/>
<text x="677" y="439.6" font-size="7.4" text-anchor="middle" fill="#111" >0.1</text>
<line x1="491.2" y1="276.72" x2="494.4" y2="276.72" stroke="#333" stroke-width="0.8"/>
<text x="490.4" y="279.52" font-size="7.4" text-anchor="end" fill="#111" >0.4</text>
<line x1="491.2" y1="321.8" x2="494.4" y2="321.8" stroke="#333" stroke-width="0.8"/>
<text x="490.4" y="324.6" font-size="7.4" text-anchor="end" fill="#111" >0.0</text>
<line x1="491.2" y1="366.88" x2="494.4" y2="366.88" stroke="#333" stroke-width="0.8"/>
<text x="490.4" y="369.68" font-size="7.4" text-anchor="end" fill="#111" >−0.4</text>
<line x1="491.2" y1="411.96" x2="494.4" y2="411.96" stroke="#333" stroke-width="0.8"/>
<text x="490.4" y="414.76" font-size="7.4" text-anchor="end" fill="#111" >−0.8</text>
<g transform="translate(9.3,121) rotate(-90) scale(1.0)" fill="#111"><text x="0" y="0" font-size="10.3" font-style="italic">E</text><text x="7.2" y="0.3" font-size="11">−</text><text x="16.5" y="0" font-size="10.3" font-style="italic">E</text><text x="24.6" y="-4.1" font-size="6.4" stroke="#111" stroke-width="0.15">0</text><text x="24.8" y="1.5" font-size="5.8" stroke="#111" stroke-width="0.15">F</text><text x="31.4" y="-2.2" font-size="7.5">(eV)</text></g>
<g transform="translate(242.2,122.8) rotate(-90) scale(1.04)" fill="#111"><text x="0" y="0" font-size="10.3" font-style="italic">E</text><text x="7.2" y="0.3" font-size="11">−</text><text x="16.5" y="0" font-size="10.3" font-style="italic">E</text><text x="24.6" y="-4.1" font-size="6.4" stroke="#111" stroke-width="0.15">0</text><text x="24.8" y="1.5" font-size="5.8" stroke="#111" stroke-width="0.15">F</text><text x="31.4" y="-2.2" font-size="7.5">(eV)</text></g>
<g transform="translate(475.1,121.3) rotate(-90) scale(1.03)" fill="#111"><text x="0" y="0" font-size="10.3" font-style="italic">E</text><text x="7.2" y="0.3" font-size="11">−</text><text x="16.5" y="0" font-size="10.3" font-style="italic">E</text><text x="24.6" y="-4.1" font-size="6.4" stroke="#111" stroke-width="0.15">0</text><text x="24.8" y="1.5" font-size="5.8" stroke="#111" stroke-width="0.15">F</text><text x="31.4" y="-2.2" font-size="7.5">(eV)</text></g>
<g transform="translate(9.7,360.6) rotate(-90) scale(1.03)" fill="#111"><text x="0" y="0" font-size="10.3" font-style="italic">E</text><text x="7.2" y="0.3" font-size="11">−</text><text x="16.5" y="0" font-size="10.3" font-style="italic">E</text><text x="24.6" y="-4.1" font-size="6.4" stroke="#111" stroke-width="0.15">0</text><text x="24.8" y="1.5" font-size="5.8" stroke="#111" stroke-width="0.15">F</text><text x="31.4" y="-2.2" font-size="7.5">(eV)</text></g>
<g transform="translate(242,361.8) rotate(-90) scale(1.14)" fill="#111"><text x="0" y="0" font-size="10.3" font-style="italic">E</text><text x="7.2" y="0.3" font-size="11">−</text><text x="16.5" y="0" font-size="10.3" font-style="italic">E</text><text x="24.6" y="-4.1" font-size="6.4" stroke="#111" stroke-width="0.15">0</text><text x="24.8" y="1.5" font-size="5.8" stroke="#111" stroke-width="0.15">F</text><text x="31.4" y="-2.2" font-size="7.5">(eV)</text></g>
<g transform="translate(471.2,359.8) rotate(-90) scale(1.15)" fill="#111"><text x="0" y="0" font-size="10.3" font-style="italic">E</text><text x="7.2" y="0.3" font-size="11">−</text><text x="16.5" y="0" font-size="10.3" font-style="italic">E</text><text x="24.6" y="-4.1" font-size="6.4" stroke="#111" stroke-width="0.15">0</text><text x="24.8" y="1.5" font-size="5.8" stroke="#111" stroke-width="0.15">F</text><text x="31.4" y="-2.2" font-size="7.5">(eV)</text></g>
<text x="126.5" y="217" text-anchor="middle" fill="#111" font-size="11">Δ<tspan font-style="italic">k</tspan><tspan font-size="7.6" dy="2.2">x</tspan><tspan dy="-2.2" font-size="10.4"> (Å</tspan><tspan font-size="7.2" dy="-4">−1</tspan><tspan dy="4" font-size="10.4">)</tspan></text>
<text x="357.5" y="217" text-anchor="middle" fill="#111" font-size="11">Δ<tspan font-style="italic">k</tspan><tspan font-size="7.6" dy="2.2">y</tspan><tspan dy="-2.2" font-size="10.4"> (Å</tspan><tspan font-size="7.2" dy="-4">−1</tspan><tspan dy="4" font-size="10.4">)</tspan></text>
<text x="587.5" y="216.4" text-anchor="middle" fill="#111" font-size="11">Δ<tspan font-style="italic">k</tspan><tspan font-size="7.6" dy="2.2">z</tspan><tspan dy="-2.2" font-size="10.4"> (Å</tspan><tspan font-size="7.2" dy="-4">−1</tspan><tspan dy="4" font-size="10.4">)</tspan></text>
<text x="126.5" y="452.8" text-anchor="middle" fill="#111" font-size="11">Δ<tspan font-style="italic">k</tspan><tspan font-size="7.6" dy="2.2">x</tspan><tspan dy="-2.2" font-size="10.4"> (Å</tspan><tspan font-size="7.2" dy="-4">−1</tspan><tspan dy="4" font-size="10.4">)</tspan></text>
<text x="357.5" y="452.8" text-anchor="middle" fill="#111" font-size="11">Δ<tspan font-style="italic">k</tspan><tspan font-size="7.6" dy="2.2">y</tspan><tspan dy="-2.2" font-size="10.4"> (Å</tspan><tspan font-size="7.2" dy="-4">−1</tspan><tspan dy="4" font-size="10.4">)</tspan></text>
<text x="587.5" y="452.8" text-anchor="middle" fill="#111" font-size="11">Δ<tspan font-style="italic">k</tspan><tspan font-size="7.6" dy="2.2">z</tspan><tspan dy="-2.2" font-size="10.4"> (Å</tspan><tspan font-size="7.2" dy="-4">−1</tspan><tspan dy="4" font-size="10.4">)</tspan></text>
<text x="7.4" y="8.6" font-size="7.6" text-anchor="middle" fill="#111" >(a)</text>
<text x="238" y="9.6" font-size="7.6" text-anchor="middle" fill="#111" >(b)</text>
<text x="470.9" y="8.2" font-size="7.6" text-anchor="middle" fill="#111" >(c)</text>
<text x="7.2" y="247.6" font-size="7.6" text-anchor="middle" fill="#111" >(d)</text>
<text x="239.3" y="248.6" font-size="7.6" text-anchor="middle" fill="#111" >(e)</text>
<text x="467.9" y="246" font-size="7.6" text-anchor="middle" fill="#111" >(f)</text>
<text x="64.8" y="143.8" font-size="11.8" text-anchor="middle" fill="#111" >W1</text>
<text x="64.3" y="266.6" font-size="11.8" text-anchor="middle" fill="#111" >W2</text>
<line x1="111.7" y1="98.9" x2="103.32" y2="89.22" stroke="#22aadd" stroke-width="1.0"/>
<path d="M100.7,86.2 L104.75,87.98 L101.88,90.47 Z" fill="#22aadd"/>
<line x1="138" y1="98.9" x2="148.84" y2="89.09" stroke="#22aadd" stroke-width="1.0"/>
<path d="M151.8,86.4 L150.11,90.49 L147.56,87.68 Z" fill="#22aadd"/>
<text x="116.5" y="104.8" font-size="7" text-anchor="middle" fill="#333" >(1)</text>
<text x="134.9" y="104.8" font-size="7" text-anchor="middle" fill="#333" >(2)</text>
<line x1="108.5" y1="347.7" x2="92.28" y2="330.88" stroke="#22aadd" stroke-width="1.0"/>
<path d="M89.5,328 L93.64,329.56 L90.91,332.2 Z" fill="#22aadd"/>
<line x1="143.1" y1="348" x2="162.05" y2="330.7" stroke="#22aadd" stroke-width="1.0"/>
<path d="M165,328 L163.33,332.1 L160.77,329.29 Z" fill="#22aadd"/>
<text x="117.2" y="356.8" font-size="7" text-anchor="middle" fill="#333" >(3)</text>
<text x="136" y="356.8" font-size="7" text-anchor="middle" fill="#333" >(4)</text>
<path d="M145.5,109.5 L190.5,109.5 L193.5,112.5 L193.5,156.5 L190.5,159.5 L145.5,159.5 L141.5,156.5 L141.5,112.5 Z" fill="#fff" stroke="#2a2a2a" stroke-width="0.8"/>
<rect x="145.5" y="112.5" width="44" height="43.5" fill="none" stroke="#2a2a2a" stroke-width="0.8"/>
<path d="M141.5,112.5 L145.5,112.5 M193.5,112.5 L189.5,112.5 M193.5,156.5 L189.5,156 M141.5,156.5 L145.5,156" stroke="#2a2a2a" stroke-width="0.6"/>
<line x1="166.6" y1="103.9" x2="166.6" y2="159.6" stroke="#c4c4c4" stroke-width="1.5"/>
<line x1="141.6" y1="134.2" x2="196" y2="134.2" stroke="#777" stroke-width="0.7"/>
<circle cx="143.1" cy="133.4" r="1.5" fill="#111"/>
<circle cx="190.8" cy="136.4" r="1.5" fill="#111"/>
<circle cx="165.5" cy="158.3" r="1.5" fill="#111"/>
<circle cx="165.1" cy="111.2" r="1.5" fill="#9966cc"/>
<circle cx="168.8" cy="111.2" r="1.5" fill="#ff7722"/>
<line x1="154.1" y1="133.5" x2="154.1" y2="135.89999999999998" stroke="#aaa" stroke-width="0.9"/>
<line x1="179.8" y1="133.0" x2="179.8" y2="135.39999999999998" stroke="#aaa" stroke-width="0.9"/>
<line x1="166.6" y1="120.3" x2="166.6" y2="122.7" stroke="#aaa" stroke-width="0.9"/>
<line x1="166.6" y1="146.70000000000002" x2="166.6" y2="149.1" stroke="#aaa" stroke-width="0.9"/>
<line x1="158.5" y1="118.6" x2="162.06" y2="114.97" stroke="#22aadd" stroke-width="0.8"/>
<path d="M163.6,113.4 L162.92,115.81 L161.2,114.13 Z" fill="#22aadd"/>
<line x1="174.6" y1="118.6" x2="171.62" y2="115.08" stroke="#22aadd" stroke-width="0.8"/>
<path d="M170.2,113.4 L172.54,114.3 L170.71,115.85 Z" fill="#22aadd"/>
<text x="154.1" y="124.4" font-size="6.4" text-anchor="middle" fill="#222" >(1)</text>
<text x="178.6" y="124.4" font-size="6.4" text-anchor="middle" fill="#222" >(2)</text>
<text x="168.2" y="106.2" font-size="7.8" fill="#111">k<tspan font-size="5.6" dy="1.6">y</tspan></text>
<text x="195.5" y="142.8" font-size="7.8" fill="#111">k<tspan font-size="5.6" dy="1.6">x</tspan></text>
<rect x="565.5" y="4.3" width="45.700000000000045" height="26.2" rx="2" fill="#fff" fill-opacity="0.85" stroke="#d8d8d8" stroke-width="0.8"/>
<line x1="568.1" y1="10.7" x2="586.5" y2="10.7" stroke="#0000ff" stroke-width="1.6"/>
<line x1="568.1" y1="22.9" x2="586.5" y2="22.9" stroke="#ff0000" stroke-width="1.6"/>
<text x="598.8" y="13.299999999999999" font-size="7.6" fill="#111" text-anchor="middle">0 fs</text>
<text x="598.8" y="25.5" font-size="7.6" fill="#111" text-anchor="middle">17 fs</text>
<rect x="498.3" y="241.8" width="45.30000000000001" height="26.399999999999977" rx="2" fill="#fff" fill-opacity="0.85" stroke="#d8d8d8" stroke-width="0.8"/>
<line x1="501.5" y1="248.3" x2="519" y2="248.3" stroke="#0000ff" stroke-width="1.6"/>
<line x1="501.5" y1="260.1" x2="519" y2="260.1" stroke="#ff0000" stroke-width="1.6"/>
<text x="531.8" y="250.9" font-size="7.6" fill="#111" text-anchor="middle">0 fs</text>
<text x="531.8" y="262.70000000000005" font-size="7.6" fill="#111" text-anchor="middle">17 fs</text>
<rect x="270.3" y="310.5" width="55.1" height="56.9" fill="#fff" stroke="#999" stroke-width="0.8"/>
<line x1="298.3" y1="310.5" x2="298.3" y2="367.4" stroke="#ccc" stroke-width="0.6"/>
<line x1="270.3" y1="333.3" x2="325.4" y2="333.3" stroke="#ccc" stroke-width="0.6"/>
<line x1="271.1" y1="320.1" x2="324.6" y2="328" stroke="#ff0000" stroke-width="0.8"/>
<line x1="271.1" y1="335" x2="324.6" y2="318" stroke="#ff0000" stroke-width="0.8"/>
<line x1="271.1" y1="328" x2="324.6" y2="336.8" stroke="#7a33cc" stroke-width="0.8"/>
<line x1="271.1" y1="342.9" x2="324.6" y2="325.9" stroke="#7a33cc" stroke-width="0.8"/>
<path d="M271.1,357.8 Q298,352 324.6,352.9" fill="none" stroke="#ff0000" stroke-width="0.8"/>
<path d="M271.1,366.6 Q298,360.5 324.6,361.3" fill="none" stroke="#6a2acc" stroke-width="0.8"/>
<rect x="347.3" y="312.3" width="22.4" height="59.2" fill="none" stroke="#aaa" stroke-width="0.7" stroke-dasharray="2,1.5"/>
<line x1="325.4" y1="310.9" x2="347.3" y2="312.3" stroke="#aaa" stroke-width="0.7"/>
<line x1="325.4" y1="367.4" x2="347.3" y2="371.5" stroke="#aaa" stroke-width="0.7"/>
<path d="M624.8,378.2 L656.7,378.2 L657.5,412 L624.8,416.7 Z" fill="#ebebeb"/>
<path d="M617,374 L656.1,374 L667.5,377 L656.7,378.2 L624.8,378.2 Z" fill="#f0f0f0"/>
<rect x="637.5" y="374.6" width="9.6" height="39.7" fill="#c4c4c4" fill-opacity="0.7"/>
<path d="M613.5,393 L624.3,391.6 L657.5,391.6 L671,393.6 L671,396.2 L657.5,397.6 L624.3,397.6 L613.5,396 Z" fill="#d6d6d6" fill-opacity="0.7"/>
<g stroke="#1a1a1a" stroke-width="0.65" fill="none" stroke-linejoin="round">
<path d="M617,374 L656.1,374 L667.5,377 Q673.2,395 668.7,413.5 L656.7,417 L624.8,417.2 L617,411.5 Q609.8,393 617,374 Z"/>
<path d="M617,374 L624.8,378.2 L656.7,378.2 L667.5,377 M656.1,374 L656.7,378.2"/>
<path d="M624.8,378.2 Q619.8,393 624.8,416.7 M656.7,378.2 Q661.5,393 657.2,412.5 L668.7,413.5 M657.2,412.5 L656.7,417"/>
<path d="M613.2,394.5 L624.3,392 L657.5,392 L671.2,394.5 M624.3,397.2 L657.5,397.2" stroke-width="0.5"/>
</g>
<line x1="609.5" y1="394.8" x2="627" y2="394.8" stroke="#333" stroke-width="0.6"/>
<line x1="632.5" y1="392" x2="660" y2="403" stroke="#666" stroke-width="0.6"/>
<line x1="642.3" y1="372" x2="642.3" y2="414" stroke="#aaa" stroke-width="0.6"/>
<path d="M628.8,383.5 L631.2,385.5" stroke="#222" stroke-width="0.9"/>
<path d="M628.8,405.5 L631.2,407.5" stroke="#222" stroke-width="0.9"/>
<path d="M652.8,382 L655.2,384" stroke="#222" stroke-width="0.9"/>
<path d="M652.8,403 L655.2,405" stroke="#222" stroke-width="0.9"/>
<circle cx="643.2" cy="385.2" r="1.5" fill="#2a7fd4"/>
<circle cx="646.9" cy="384.8" r="1.5" fill="#e03030"/>
<line x1="632" y1="372.8" x2="640.41" y2="381.98" stroke="#22aadd" stroke-width="0.8"/>
<path d="M641.9,383.6 L639.53,382.79 L641.3,381.17 Z" fill="#22aadd"/>
<line x1="651.9" y1="372.2" x2="648.91" y2="380.92" stroke="#22aadd" stroke-width="0.8"/>
<path d="M648.2,383 L647.78,380.53 L650.05,381.31 Z" fill="#22aadd"/>
<text x="629" y="371" font-size="6.6" text-anchor="middle" fill="#222" >(4)</text>
<text x="654.9" y="371" font-size="6.6" text-anchor="middle" fill="#222" >(3)</text>
<text x="640" y="371" font-size="7.4" fill="#222">k<tspan font-size="5.2" dy="1.5">z</tspan></text>
<text x="602.5" y="398.5" font-size="7.4" fill="#222">k<tspan font-size="5.2" dy="1.5">x</tspan></text>
<text x="659" y="408" font-size="7.4" fill="#222">k<tspan font-size="5.2" dy="1.5">y</tspan></text>
</svg></body></html>
